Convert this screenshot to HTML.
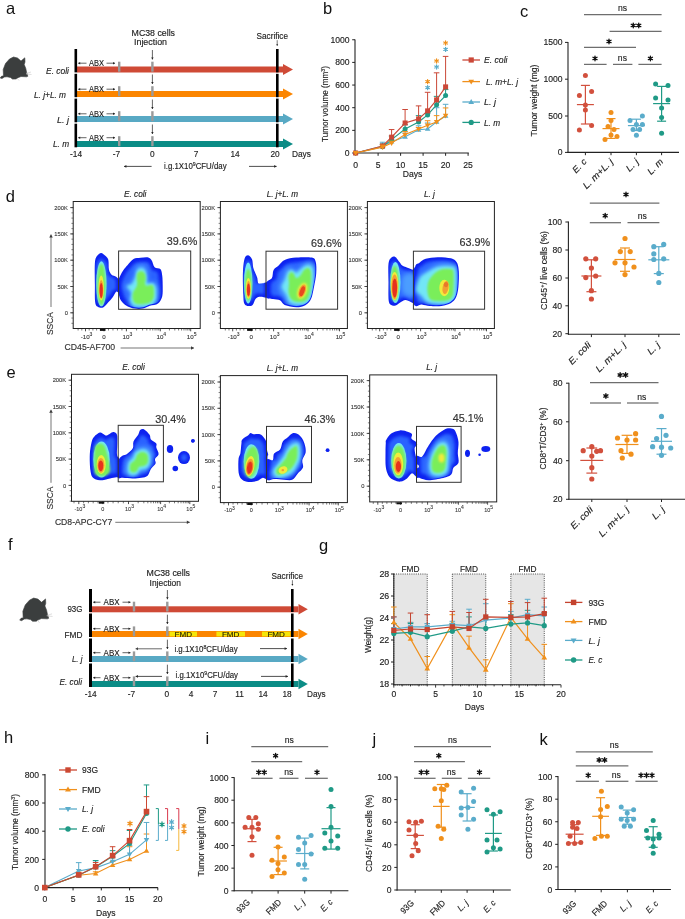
<!DOCTYPE html>
<html><head><meta charset="utf-8"><title>figure</title><style>
html,body{margin:0;padding:0;background:#fff;width:685px;height:919px;overflow:hidden;}
svg{display:block;will-change:transform;}
text{font-family:"Liberation Sans",sans-serif;}
</style></head><body>
<svg width="685" height="919" viewBox="0 0 685 919">
<defs><filter id="b04" x="-50%" y="-50%" width="200%" height="200%"><feGaussianBlur stdDeviation="0.4"/></filter>
<filter id="b07" x="-50%" y="-50%" width="200%" height="200%"><feGaussianBlur stdDeviation="0.7"/></filter>
<filter id="b10" x="-50%" y="-50%" width="200%" height="200%"><feGaussianBlur stdDeviation="1.0"/></filter>
<filter id="b14" x="-50%" y="-50%" width="200%" height="200%"><feGaussianBlur stdDeviation="1.4"/></filter>
<filter id="b18" x="-50%" y="-50%" width="200%" height="200%"><feGaussianBlur stdDeviation="1.8"/></filter>
<filter id="b24" x="-50%" y="-50%" width="200%" height="200%"><feGaussianBlur stdDeviation="2.4"/></filter>
<clipPath id="cl1"><path d="M119.53,280.2C120.4,277.46 122.43,273.76 123.9,271.37C125.37,268.97 126.7,267.71 128.37,265.85C130.03,264 131.83,261.37 133.88,260.25C135.92,259.13 138.39,259.38 140.62,259.11C142.85,258.84 145.53,258.25 147.27,258.63C149.01,259.01 149.96,259.82 151.07,261.39C152.18,262.96 152.53,266.65 153.92,268.04C155.31,269.43 158.23,268.45 159.43,269.75C160.63,271.05 160.78,273.15 161.14,275.83C161.5,278.51 161.61,282.48 161.61,285.8C161.61,289.13 161.88,293.01 161.14,295.78C160.4,298.55 159.1,300.96 157.15,302.43C155.2,303.9 151.85,303.79 149.46,304.62C147.06,305.44 145.21,306.91 142.81,307.37C140.4,307.83 137.61,307.83 135.01,307.37C132.42,306.91 129.35,305.82 127.22,304.62C125.1,303.41 123.47,301.81 122.28,300.15C121.1,298.49 120.7,296.7 120.1,294.64C119.5,292.58 118.77,290.21 118.67,287.8C118.58,285.39 118.66,282.94 119.53,280.2Z"/></clipPath>
<clipPath id="cl2"><path d="M101.14,254.36C102.41,254.28 103.71,255.73 104.85,256.82C105.99,257.92 107.37,258.68 107.98,260.91C108.6,263.14 108.03,267.85 108.56,270.22C109.08,272.6 109.98,274.02 111.12,275.16C112.26,276.3 114.22,276.13 115.39,277.06C116.57,277.99 117.69,278.39 118.15,280.76C118.61,283.14 118.61,289.55 118.15,291.31C117.69,293.07 116.36,290.49 115.39,291.31C114.43,292.13 113.59,294.59 112.36,296.25C111.12,297.91 109.54,299.62 107.98,301.29C106.43,302.95 104.71,305.51 103.04,306.23C101.38,306.94 99.26,306.38 98.01,305.56C96.76,304.74 96,304.74 95.54,301.29C95.08,297.83 95.3,291.07 95.26,284.85C95.21,278.63 94.92,268.54 95.26,263.95C95.59,259.36 96.27,258.9 97.25,257.3C98.23,255.7 99.88,254.43 101.14,254.36Z"/></clipPath>
<clipPath id="cl3"><path d="M267.5,283.29C268.43,280.32 271.9,280.37 273.1,278.25C274.31,276.13 273.61,272.58 274.72,270.55C275.83,268.53 278,267.66 279.75,266.09C281.51,264.52 282.49,262.35 285.26,261.15C288.04,259.95 292.12,259.25 296.38,258.87C300.64,258.49 307.76,258.22 310.82,258.87C313.88,259.52 313.99,260.26 314.71,262.76C315.44,265.27 315.48,269.81 315.19,273.88C314.9,277.95 313.83,283.13 313,287.18C312.18,291.23 311.55,295.43 310.25,298.2C308.95,300.97 307.53,302.51 305.21,303.8C302.9,305.1 299.7,305.99 296.38,305.99C293.06,305.99 287.86,304.91 285.26,303.8C282.67,302.7 282.65,300.27 280.8,299.34C278.95,298.41 276.37,298.75 274.15,298.2C271.93,297.65 268.61,298.5 267.5,296.01C266.39,293.53 266.57,286.25 267.5,283.29Z"/></clipPath>
<clipPath id="cl4"><path d="M247.93,256.59C249.13,256.59 250.99,258.45 251.82,260.38C252.66,262.32 252.41,265.94 252.96,268.18C253.52,270.41 254.5,272.12 255.15,273.78C255.8,275.44 256.4,276.57 256.86,278.15C257.32,279.73 257,282.42 257.9,283.28C258.81,284.13 260.83,283.3 262.27,283.28C263.72,283.26 265.84,281.08 266.55,283.19C267.26,285.29 267.42,293.79 266.55,295.91C265.68,298.04 262.77,295.88 261.32,295.91C259.88,295.95 258.93,295.74 257.9,296.1C256.88,296.47 256.07,296.83 255.15,298.1C254.23,299.37 253.5,302.6 252.39,303.7C251.29,304.81 249.8,304.94 248.5,304.75C247.2,304.56 245.43,304.4 244.61,302.56C243.78,300.73 243.8,298.53 243.56,293.73C243.32,288.93 243.01,279.34 243.18,273.78C243.35,268.22 243.81,263.25 244.61,260.38C245.4,257.52 246.73,256.59 247.93,256.59Z"/></clipPath>
<clipPath id="cl5"><path d="M394.49,257.73C396.16,257.73 398.02,261.47 399.33,262.95C400.64,264.44 400.87,265.66 402.37,266.66C403.87,267.66 406.74,268.31 408.35,268.94C409.97,269.57 411.09,270.25 412.06,270.46C413.03,270.67 413.8,264.92 414.15,270.18C414.5,275.43 414.5,296.71 414.15,302C413.8,307.29 413.53,302.36 412.06,301.9C410.59,301.45 407.31,299.31 405.31,299.25C403.32,299.18 401.59,300.72 400.09,301.52C398.59,302.33 397.54,303.63 396.29,304.09C395.04,304.55 393.76,304.9 392.59,304.28C391.41,303.66 389.86,304.09 389.26,300.38C388.66,296.68 388.98,288.29 388.98,282.05C388.98,275.81 388.34,267.01 389.26,262.95C390.18,258.9 392.81,257.73 394.49,257.73Z"/></clipPath>
<clipPath id="cl6"><path d="M415.81,269.7C416.69,263.27 418.62,265.35 420.38,263.71C422.13,262.08 423.49,260.79 426.36,259.91C429.23,259.04 433.58,258.55 437.57,258.49C441.56,258.43 447.31,258.79 450.3,259.54C453.29,260.28 454.34,261.39 455.52,262.95C456.71,264.52 457.05,266.44 457.43,268.94C457.81,271.44 457.87,274.59 457.8,277.96C457.74,281.34 457.55,285.94 457.05,289.18C456.54,292.41 455.89,295.22 454.76,297.35C453.64,299.47 452.55,300.65 450.3,301.9C448.05,303.16 444.65,304.36 441.27,304.85C437.9,305.34 433.18,305.09 430.06,304.85C426.95,304.61 425.05,303.85 422.56,303.43C420.07,303 416.27,307.91 415.15,302.29C414.03,296.66 414.94,276.13 415.81,269.7Z"/></clipPath>
<clipPath id="cl7"><path d="M394.49,257.73C396.16,257.73 398.02,261.47 399.33,262.95C400.64,264.44 400.87,265.66 402.37,266.66C403.87,267.66 406.74,268.31 408.35,268.94C409.97,269.57 411.09,270.25 412.06,270.46C413.03,270.67 413.8,264.92 414.15,270.18C414.5,275.43 414.5,296.71 414.15,302C413.8,307.29 413.53,302.36 412.06,301.9C410.59,301.45 407.31,299.31 405.31,299.25C403.32,299.18 401.59,300.72 400.09,301.52C398.59,302.33 397.54,303.63 396.29,304.09C395.04,304.55 393.76,304.9 392.59,304.28C391.41,303.66 389.86,304.09 389.26,300.38C388.66,296.68 388.98,288.29 388.98,282.05C388.98,275.81 388.34,267.01 389.26,262.95C390.18,258.9 392.81,257.73 394.49,257.73Z"/></clipPath>
<clipPath id="cl8"><path d="M119.81,460.85C120.56,457.47 122.35,456.88 123.62,455.82C124.88,454.76 125.82,455.66 127.42,454.49C129.01,453.32 132.13,450.82 133.21,448.79C134.29,446.76 133.02,444.47 133.88,442.33C134.73,440.19 137.28,437.77 138.34,435.96C139.4,434.16 139.29,432.34 140.24,431.5C141.19,430.66 142.55,430.19 144.04,430.93C145.53,431.67 148.11,434.38 149.17,435.96C150.23,437.55 149.34,439.04 150.41,440.43C151.47,441.82 154.68,443.04 155.54,444.32C156.39,445.61 155.17,446.43 155.54,448.12C155.9,449.82 157.93,452.69 157.72,454.49C157.51,456.3 154.78,457.47 154.3,458.95C153.83,460.44 155.52,461.82 154.87,463.42C154.22,465.02 151.67,466.63 150.41,468.55C149.14,470.47 148.76,473.54 147.27,474.91C145.78,476.29 143.82,476.39 141.47,476.81C139.13,477.24 136.19,477.48 133.21,477.48C130.23,477.48 125.96,477.04 123.62,476.81C121.27,476.59 119.78,478.81 119.15,476.15C118.52,473.49 119.07,464.24 119.81,460.85Z"/></clipPath>
<clipPath id="cl9"><path d="M94.69,437.76C95.99,436.31 98.6,434.27 100.11,433.87C101.61,433.47 102.62,434.93 103.72,435.39C104.81,435.85 105.16,436.97 106.66,436.62C108.16,436.28 111.13,433.41 112.74,433.3C114.36,433.19 115.7,434.11 116.35,435.96C117,437.81 116.63,441.2 116.63,444.41C116.63,447.63 116,452.65 116.35,455.25C116.7,457.84 118.33,456.69 118.72,460C119.12,463.3 119.23,472.39 118.72,475.1C118.22,477.81 117.19,475.86 115.69,476.24C114.18,476.62 112.3,476.89 109.7,477.38C107.1,477.87 102.8,479.28 100.11,479.19C97.41,479.09 95.05,478.41 93.55,476.81C92.05,475.21 91.59,473.29 91.08,469.59C90.57,465.88 90.3,459.08 90.51,454.58C90.72,450.08 91.62,445.41 92.31,442.61C93.01,439.81 93.39,439.22 94.69,437.76Z"/></clipPath>
<clipPath id="cl10"><path d="M267.81,460.19C268.76,457.21 272.34,461.25 273.51,460.19C274.69,459.13 273.67,455.52 274.85,453.82C276.02,452.13 279.17,451.94 280.55,450.02C281.92,448.11 281.94,444.25 283.11,442.33C284.28,440.41 286.09,439.8 287.57,438.53C289.06,437.26 290.44,435.27 292.04,434.73C293.64,434.19 295.57,434.46 297.17,435.3C298.77,436.14 300.46,437.94 301.63,439.76C302.81,441.59 303.68,443.99 304.2,446.23C304.72,448.46 305.2,450.83 304.77,453.16C304.34,455.49 302.05,457.85 301.63,460.19C301.22,462.53 303.04,465.08 302.3,467.22C301.56,469.36 298.88,471.1 297.17,473.01C295.46,474.93 294.18,477.76 292.04,478.71C289.9,479.66 287.21,478.83 284.35,478.71C281.48,478.6 277.6,478.16 274.85,478.05C272.09,477.94 268.99,481.03 267.81,478.05C266.64,475.07 266.87,463.17 267.81,460.19Z"/></clipPath>
<clipPath id="cl11"><path d="M242.84,440.33C243.97,438.92 247.52,437.05 248.82,436.05C250.12,435.06 249.82,434.44 250.62,434.35C251.43,434.25 252.16,435.3 253.66,435.49C255.17,435.68 258.05,434.98 259.65,435.49C261.25,435.99 262.26,437.32 263.26,438.52C264.26,439.73 265.13,440.71 265.63,442.7C266.14,444.7 266,448.5 266.3,450.5C266.6,452.49 267.36,453.38 267.44,454.68C267.52,455.97 266.81,454.56 266.77,458.29C266.74,462.01 268.04,473.9 267.25,477C266.46,480.1 263.8,476.41 262.02,476.9C260.25,477.4 258.81,479.3 256.61,479.95C254.41,480.59 251.12,481.01 248.82,480.8C246.52,480.59 244.39,480.06 242.84,478.71C241.28,477.36 240.11,475.92 239.51,472.73C238.91,469.53 238.97,462.72 239.22,459.52C239.48,456.32 240.57,456.04 241.03,453.54C241.49,451.03 241.68,446.71 241.98,444.51C242.28,442.31 241.7,441.74 242.84,440.33Z"/></clipPath>
<clipPath id="cl12"><path d="M417.39,456.81C418.31,453.8 421.17,458.19 422.9,456.81C424.63,455.43 426.35,450.86 427.75,448.55C429.14,446.23 429.87,444.9 431.26,442.94C432.65,440.98 434.38,438.49 436.1,436.76C437.83,435.04 439.89,433.74 441.62,432.59C443.34,431.43 444.61,430.18 446.46,429.83C448.31,429.48 451.23,429.69 452.73,430.5C454.23,431.3 454.68,432.6 455.49,434.68C456.29,436.75 457.34,439.82 457.57,442.94C457.81,446.06 456.91,450.14 456.91,453.39C456.91,456.64 458.27,460.1 457.57,462.41C456.88,464.73 453.89,465.41 452.73,467.26C451.57,469.11 452.25,471.91 450.64,473.53C449.02,475.14 446.62,476.03 443.04,476.95C439.46,477.87 432.88,479.04 429.17,479.04C425.47,479.04 422.77,477.65 420.81,476.95C418.85,476.25 417.96,478.22 417.39,474.86C416.82,471.5 416.47,459.82 417.39,456.81Z"/></clipPath>
<clipPath id="cl13"><path d="M386.94,440.8C387.8,439.32 389.5,436.32 391.69,434.82C393.88,433.32 397.34,432.03 400.05,431.78C402.76,431.53 406.04,432.7 407.94,433.3C409.83,433.9 410.96,434.34 411.45,435.39C411.94,436.44 410.28,438.37 410.88,439.57C411.48,440.77 414.16,441.61 415.06,442.61C415.96,443.61 416.49,444.56 416.3,445.55C416.11,446.55 414.13,446.79 413.92,448.6C413.71,450.4 414.68,454.82 415.06,456.38C415.44,457.95 416.01,454.88 416.2,458C416.39,461.12 416.99,472.68 416.2,475.1C415.41,477.52 413.03,472.16 411.45,472.54C409.87,472.92 408.49,476.07 406.7,477.38C404.91,478.69 402.71,480.12 400.71,480.42C398.72,480.72 396.63,480.09 394.73,479.19C392.83,478.28 390.68,477.11 389.31,475C387.95,472.9 387.07,470.16 386.56,466.55C386.05,462.94 386.27,457.15 386.27,453.35C386.27,449.55 386.45,445.84 386.56,443.75C386.67,441.66 386.08,442.29 386.94,440.8Z"/></clipPath></defs>
<rect width="685" height="919" fill="#fff"/>
<g>
<text x="6" y="13.8" font-size="16.5" fill="#111">a</text>
<path d="M3.5,76 L3.2,69.5 L5.5,63.5 L9.5,59 L13.5,57 L17.5,58 L21,61 L24.8,57.8 L25,62 L24.2,64.5 L25.8,68.5 L26.6,72.5 L27.4,74.7 L27.8,76.3 L26.5,76.8 L21,76.5 L18.5,77.5 L16,79 L12.5,79.1 L10.5,77.5 L7,76.8 L4.5,77 L2,78.5 L0.2,78 L1.8,76Z" fill="#3b3e3e" stroke="#3b3e3e" stroke-width="0.6" stroke-linejoin="round"/>
<line x1="26" y1="73.5" x2="31" y2="72" stroke="#c8c8c8" stroke-width="0.6"/>
<line x1="26" y1="74" x2="31.5" y2="74.5" stroke="#c8c8c8" stroke-width="0.6"/>
<line x1="17" y1="78" x2="19" y2="80.5" stroke="#c8c8c8" stroke-width="0.6"/>
<rect x="77" y="66.5" width="206" height="6" fill="#cf4a36"/>
<polygon points="283,64 293,69.5 283,75" fill="#cf4a36"/>
<rect x="74.5" y="49" width="2.6" height="23.4" fill="#000"/>
<rect x="276" y="49" width="2.6" height="23.4" fill="#000"/>
<line x1="86.5" y1="63.2" x2="78.2" y2="63.2" stroke="#222" stroke-width="0.7"/>
<polygon points="78.2,63.2 80.2,62 80.2,64.4" fill="#222"/>
<line x1="106.5" y1="63.2" x2="115" y2="63.2" stroke="#222" stroke-width="0.7"/>
<polygon points="115,63.2 113,62 113,64.4" fill="#222"/>
<text x="96.5" y="66" font-size="8.4" text-anchor="middle" fill="#222" stroke="#222" stroke-width="0.14" textLength="15" lengthAdjust="spacingAndGlyphs">ABX</text>
<rect x="118" y="61.7" width="2.4" height="10" fill="#9a9a9a"/>
<rect x="151.2" y="61.7" width="2.4" height="10" fill="#9a9a9a"/>
<line x1="152.4" y1="50" x2="152.4" y2="59.5" stroke="#222" stroke-width="0.7"/>
<polygon points="152.4,59.5 151.2,57.5 153.6,57.5" fill="#222"/>
<text x="69" y="73.5" font-size="9.2" text-anchor="end" fill="#222" stroke="#222" stroke-width="0.15" font-style="italic" textLength="23" lengthAdjust="spacingAndGlyphs">E. coli</text>
<rect x="77" y="91" width="206" height="6" fill="#fb8500"/>
<polygon points="283,88.5 293,94 283,99.5" fill="#fb8500"/>
<rect x="74.5" y="73.8" width="2.6" height="23.4" fill="#000"/>
<rect x="276" y="73.8" width="2.6" height="23.4" fill="#000"/>
<line x1="86.5" y1="89.2" x2="78.2" y2="89.2" stroke="#222" stroke-width="0.7"/>
<polygon points="78.2,89.2 80.2,88 80.2,90.4" fill="#222"/>
<line x1="106.5" y1="89.2" x2="115" y2="89.2" stroke="#222" stroke-width="0.7"/>
<polygon points="115,89.2 113,88 113,90.4" fill="#222"/>
<text x="96.5" y="92" font-size="8.4" text-anchor="middle" fill="#222" stroke="#222" stroke-width="0.14" textLength="15" lengthAdjust="spacingAndGlyphs">ABX</text>
<rect x="118" y="86.2" width="2.4" height="10" fill="#9a9a9a"/>
<rect x="151.2" y="86.2" width="2.4" height="10" fill="#9a9a9a"/>
<line x1="152.4" y1="74.5" x2="152.4" y2="84" stroke="#222" stroke-width="0.7"/>
<polygon points="152.4,84 151.2,82 153.6,82" fill="#222"/>
<text x="66" y="98" font-size="9.2" text-anchor="end" fill="#222" stroke="#222" stroke-width="0.15" font-style="italic" textLength="32" lengthAdjust="spacingAndGlyphs">L. j+L. m</text>
<rect x="77" y="116" width="206" height="6" fill="#58a9c4"/>
<polygon points="283,113.5 293,119 283,124.5" fill="#58a9c4"/>
<rect x="74.5" y="98.6" width="2.6" height="23.7" fill="#000"/>
<rect x="276" y="98.6" width="2.6" height="23.7" fill="#000"/>
<line x1="86.5" y1="113.8" x2="78.2" y2="113.8" stroke="#222" stroke-width="0.7"/>
<polygon points="78.2,113.8 80.2,112.6 80.2,115" fill="#222"/>
<line x1="106.5" y1="113.8" x2="115" y2="113.8" stroke="#222" stroke-width="0.7"/>
<polygon points="115,113.8 113,112.6 113,115" fill="#222"/>
<text x="96.5" y="116.6" font-size="8.4" text-anchor="middle" fill="#222" stroke="#222" stroke-width="0.14" textLength="15" lengthAdjust="spacingAndGlyphs">ABX</text>
<rect x="118" y="111.2" width="2.4" height="10" fill="#9a9a9a"/>
<rect x="151.2" y="111.2" width="2.4" height="10" fill="#9a9a9a"/>
<line x1="152.4" y1="99.5" x2="152.4" y2="109" stroke="#222" stroke-width="0.7"/>
<polygon points="152.4,109 151.2,107 153.6,107" fill="#222"/>
<text x="69" y="122.5" font-size="9.2" text-anchor="end" fill="#222" stroke="#222" stroke-width="0.15" font-style="italic" textLength="12" lengthAdjust="spacingAndGlyphs">L. j</text>
<rect x="77" y="141" width="206" height="6" fill="#0b8c86"/>
<polygon points="283,138.5 293,144 283,149.5" fill="#0b8c86"/>
<rect x="74.5" y="123.7" width="2.6" height="23.6" fill="#000"/>
<rect x="276" y="123.7" width="2.6" height="23.6" fill="#000"/>
<line x1="86.5" y1="137.7" x2="78.2" y2="137.7" stroke="#222" stroke-width="0.7"/>
<polygon points="78.2,137.7 80.2,136.5 80.2,138.9" fill="#222"/>
<line x1="106.5" y1="137.7" x2="115" y2="137.7" stroke="#222" stroke-width="0.7"/>
<polygon points="115,137.7 113,136.5 113,138.9" fill="#222"/>
<text x="96.5" y="140.5" font-size="8.4" text-anchor="middle" fill="#222" stroke="#222" stroke-width="0.14" textLength="15" lengthAdjust="spacingAndGlyphs">ABX</text>
<rect x="118" y="136.2" width="2.4" height="10" fill="#9a9a9a"/>
<rect x="151.2" y="136.2" width="2.4" height="10" fill="#9a9a9a"/>
<line x1="152.4" y1="124.5" x2="152.4" y2="134" stroke="#222" stroke-width="0.7"/>
<polygon points="152.4,134 151.2,132 153.6,132" fill="#222"/>
<text x="69" y="146.5" font-size="9.2" text-anchor="end" fill="#222" stroke="#222" stroke-width="0.15" font-style="italic" textLength="16" lengthAdjust="spacingAndGlyphs">L. m</text>
<text x="153.3" y="35.5" font-size="9" text-anchor="middle" fill="#222" stroke="#222" stroke-width="0.15" textLength="43.4" lengthAdjust="spacingAndGlyphs">MC38 cells</text>
<text x="150.5" y="45.4" font-size="9" text-anchor="middle" fill="#222" stroke="#222" stroke-width="0.15" textLength="33" lengthAdjust="spacingAndGlyphs">Injection</text>
<text x="272.3" y="39.2" font-size="9" text-anchor="middle" fill="#222" stroke="#222" stroke-width="0.15" textLength="31.4" lengthAdjust="spacingAndGlyphs">Sacrifice</text>
<line x1="277.2" y1="40.2" x2="277.2" y2="45.8" stroke="#222" stroke-width="0.6"/>
<polygon points="277.2,45.8 276.24,44.2 278.16,44.2" fill="#222"/>
<text x="76" y="157.3" font-size="8.3" text-anchor="middle" fill="#222" stroke="#222" stroke-width="0.14">-14</text>
<text x="116.5" y="157.3" font-size="8.3" text-anchor="middle" fill="#222" stroke="#222" stroke-width="0.14">-7</text>
<text x="152.2" y="157.3" font-size="8.3" text-anchor="middle" fill="#222" stroke="#222" stroke-width="0.14">0</text>
<text x="196" y="157.3" font-size="8.3" text-anchor="middle" fill="#222" stroke="#222" stroke-width="0.14">7</text>
<text x="235" y="157.3" font-size="8.3" text-anchor="middle" fill="#222" stroke="#222" stroke-width="0.14">14</text>
<text x="275" y="157.3" font-size="8.3" text-anchor="middle" fill="#222" stroke="#222" stroke-width="0.14">20</text>
<text x="292" y="157.3" font-size="8.3" text-anchor="start" fill="#222" stroke="#222" stroke-width="0.14">Days</text>
<text x="164" y="169.3" font-size="8.3" text-anchor="start" fill="#222" stroke="#222" stroke-width="0.14" textLength="62.6" lengthAdjust="spacingAndGlyphs">i.g.1X10<tspan font-size="5.5" dy="-3">9</tspan><tspan dy="3">CFU/day</tspan></text>
<line x1="151.6" y1="166.4" x2="124" y2="166.4" stroke="#222" stroke-width="0.8"/>
<polygon points="124,166.4 126.4,164.96 126.4,167.84" fill="#222"/>
<line x1="249" y1="166.4" x2="276.6" y2="166.4" stroke="#222" stroke-width="0.8"/>
<polygon points="276.6,166.4 274.2,164.96 274.2,167.84" fill="#222"/>
</g>
<g>
<text x="323" y="14" font-size="16.5" fill="#111">b</text>
<line x1="355" y1="39.4" x2="355" y2="153.5" stroke="#222" stroke-width="1.1"/>
<line x1="354.5" y1="153" x2="468.8" y2="153" stroke="#222" stroke-width="1.1"/>
<line x1="352.2" y1="153" x2="355" y2="153" stroke="#222" stroke-width="1"/>
<text x="349.5" y="156" font-size="8.6" text-anchor="end" fill="#222" stroke="#222" stroke-width="0.14">0</text>
<line x1="352.2" y1="130.35" x2="355" y2="130.35" stroke="#222" stroke-width="1"/>
<text x="349.5" y="133.35" font-size="8.6" text-anchor="end" fill="#222" stroke="#222" stroke-width="0.14">200</text>
<line x1="352.2" y1="107.7" x2="355" y2="107.7" stroke="#222" stroke-width="1"/>
<text x="349.5" y="110.7" font-size="8.6" text-anchor="end" fill="#222" stroke="#222" stroke-width="0.14">400</text>
<line x1="352.2" y1="85.05" x2="355" y2="85.05" stroke="#222" stroke-width="1"/>
<text x="349.5" y="88.05" font-size="8.6" text-anchor="end" fill="#222" stroke="#222" stroke-width="0.14">600</text>
<line x1="352.2" y1="62.4" x2="355" y2="62.4" stroke="#222" stroke-width="1"/>
<text x="349.5" y="65.4" font-size="8.6" text-anchor="end" fill="#222" stroke="#222" stroke-width="0.14">800</text>
<line x1="352.2" y1="39.75" x2="355" y2="39.75" stroke="#222" stroke-width="1"/>
<text x="349.5" y="42.75" font-size="8.6" text-anchor="end" fill="#222" stroke="#222" stroke-width="0.14">1000</text>
<line x1="355.6" y1="153" x2="355.6" y2="155.8" stroke="#222" stroke-width="1"/>
<text x="355.6" y="167.5" font-size="8.6" text-anchor="middle" fill="#222" stroke="#222" stroke-width="0.14">0</text>
<line x1="378.1" y1="153" x2="378.1" y2="155.8" stroke="#222" stroke-width="1"/>
<text x="378.1" y="167.5" font-size="8.6" text-anchor="middle" fill="#222" stroke="#222" stroke-width="0.14">5</text>
<line x1="400.6" y1="153" x2="400.6" y2="155.8" stroke="#222" stroke-width="1"/>
<text x="400.6" y="167.5" font-size="8.6" text-anchor="middle" fill="#222" stroke="#222" stroke-width="0.14">10</text>
<line x1="423.1" y1="153" x2="423.1" y2="155.8" stroke="#222" stroke-width="1"/>
<text x="423.1" y="167.5" font-size="8.6" text-anchor="middle" fill="#222" stroke="#222" stroke-width="0.14">15</text>
<line x1="445.6" y1="153" x2="445.6" y2="155.8" stroke="#222" stroke-width="1"/>
<text x="445.6" y="167.5" font-size="8.6" text-anchor="middle" fill="#222" stroke="#222" stroke-width="0.14">20</text>
<line x1="468.1" y1="153" x2="468.1" y2="155.8" stroke="#222" stroke-width="1"/>
<text x="468.1" y="167.5" font-size="8.6" text-anchor="middle" fill="#222" stroke="#222" stroke-width="0.14">25</text>
<text x="412.5" y="177.3" font-size="8.6" text-anchor="middle" fill="#222" stroke="#222" stroke-width="0.14">Days</text>
<text x="327.5" y="104" font-size="8.6" text-anchor="middle" fill="#222" stroke="#222" stroke-width="0.14" transform="rotate(-90 327.5 104)" textLength="76" lengthAdjust="spacingAndGlyphs">Tumor volume (mm<tspan font-size="5.5" dy="-3">3</tspan><tspan dy="3">)</tspan></text>
<line x1="382.6" y1="145.98" x2="382.6" y2="142.24" stroke="#5aaccb" stroke-width="1"/>
<line x1="379.8" y1="142.24" x2="385.4" y2="142.24" stroke="#5aaccb" stroke-width="1"/>
<line x1="391.6" y1="141.68" x2="391.6" y2="139.98" stroke="#5aaccb" stroke-width="1"/>
<line x1="388.8" y1="139.98" x2="394.4" y2="139.98" stroke="#5aaccb" stroke-width="1"/>
<line x1="405.1" y1="136.81" x2="405.1" y2="133.18" stroke="#5aaccb" stroke-width="1"/>
<line x1="402.3" y1="133.18" x2="407.9" y2="133.18" stroke="#5aaccb" stroke-width="1"/>
<line x1="418.6" y1="129.78" x2="418.6" y2="125.82" stroke="#5aaccb" stroke-width="1"/>
<line x1="415.8" y1="125.82" x2="421.4" y2="125.82" stroke="#5aaccb" stroke-width="1"/>
<line x1="427.6" y1="128.99" x2="427.6" y2="122.99" stroke="#5aaccb" stroke-width="1"/>
<line x1="424.8" y1="122.99" x2="430.4" y2="122.99" stroke="#5aaccb" stroke-width="1"/>
<line x1="436.6" y1="121.86" x2="436.6" y2="107.7" stroke="#5aaccb" stroke-width="1"/>
<line x1="433.8" y1="107.7" x2="439.4" y2="107.7" stroke="#5aaccb" stroke-width="1"/>
<line x1="445.6" y1="115.97" x2="445.6" y2="104.3" stroke="#5aaccb" stroke-width="1"/>
<line x1="442.8" y1="104.3" x2="448.4" y2="104.3" stroke="#5aaccb" stroke-width="1"/>
<polyline points="355.6,153 382.6,145.98 391.6,141.68 405.1,136.81 418.6,129.78 427.6,128.99 436.6,121.86 445.6,115.97" fill="none" stroke="#5aaccb" stroke-width="1.15"/>
<polygon points="355.6,150.12 352.85,154.88 358.35,154.88" fill="#5aaccb"/>
<polygon points="382.6,143.1 379.85,147.85 385.35,147.85" fill="#5aaccb"/>
<polygon points="391.6,138.8 388.85,143.55 394.35,143.55" fill="#5aaccb"/>
<polygon points="405.1,133.93 402.35,138.68 407.85,138.68" fill="#5aaccb"/>
<polygon points="418.6,126.91 415.85,131.66 421.35,131.66" fill="#5aaccb"/>
<polygon points="427.6,126.12 424.85,130.87 430.35,130.87" fill="#5aaccb"/>
<polygon points="436.6,118.98 433.85,123.73 439.35,123.73" fill="#5aaccb"/>
<polygon points="445.6,113.09 442.85,117.84 448.35,117.84" fill="#5aaccb"/>
<line x1="382.6" y1="146.77" x2="382.6" y2="143.94" stroke="#1f9a86" stroke-width="1"/>
<line x1="379.8" y1="143.94" x2="385.4" y2="143.94" stroke="#1f9a86" stroke-width="1"/>
<line x1="391.6" y1="139.64" x2="391.6" y2="136.01" stroke="#1f9a86" stroke-width="1"/>
<line x1="388.8" y1="136.01" x2="394.4" y2="136.01" stroke="#1f9a86" stroke-width="1"/>
<line x1="405.1" y1="128.99" x2="405.1" y2="124.69" stroke="#1f9a86" stroke-width="1"/>
<line x1="402.3" y1="124.69" x2="407.9" y2="124.69" stroke="#1f9a86" stroke-width="1"/>
<line x1="418.6" y1="121.97" x2="418.6" y2="115.63" stroke="#1f9a86" stroke-width="1"/>
<line x1="415.8" y1="115.63" x2="421.4" y2="115.63" stroke="#1f9a86" stroke-width="1"/>
<line x1="427.6" y1="114.95" x2="427.6" y2="113.36" stroke="#1f9a86" stroke-width="1"/>
<line x1="424.8" y1="113.36" x2="430.4" y2="113.36" stroke="#1f9a86" stroke-width="1"/>
<line x1="436.6" y1="104.87" x2="436.6" y2="96.38" stroke="#1f9a86" stroke-width="1"/>
<line x1="433.8" y1="96.38" x2="439.4" y2="96.38" stroke="#1f9a86" stroke-width="1"/>
<line x1="445.6" y1="95.58" x2="445.6" y2="89.58" stroke="#1f9a86" stroke-width="1"/>
<line x1="442.8" y1="89.58" x2="448.4" y2="89.58" stroke="#1f9a86" stroke-width="1"/>
<polyline points="355.6,153 382.6,146.77 391.6,139.64 405.1,128.99 418.6,121.97 427.6,114.95 436.6,104.87 445.6,95.58" fill="none" stroke="#1f9a86" stroke-width="1.15"/>
<circle cx="355.6" cy="153" r="2.5" fill="#1f9a86"/>
<circle cx="382.6" cy="146.77" r="2.5" fill="#1f9a86"/>
<circle cx="391.6" cy="139.64" r="2.5" fill="#1f9a86"/>
<circle cx="405.1" cy="128.99" r="2.5" fill="#1f9a86"/>
<circle cx="418.6" cy="121.97" r="2.5" fill="#1f9a86"/>
<circle cx="427.6" cy="114.95" r="2.5" fill="#1f9a86"/>
<circle cx="436.6" cy="104.87" r="2.5" fill="#1f9a86"/>
<circle cx="445.6" cy="95.58" r="2.5" fill="#1f9a86"/>
<line x1="382.6" y1="145.98" x2="382.6" y2="144.51" stroke="#cb4838" stroke-width="1"/>
<line x1="379.8" y1="144.51" x2="385.4" y2="144.51" stroke="#cb4838" stroke-width="1"/>
<line x1="391.6" y1="137.15" x2="391.6" y2="129.56" stroke="#cb4838" stroke-width="1"/>
<line x1="388.8" y1="129.56" x2="394.4" y2="129.56" stroke="#cb4838" stroke-width="1"/>
<line x1="405.1" y1="122.99" x2="405.1" y2="109.51" stroke="#cb4838" stroke-width="1"/>
<line x1="402.3" y1="109.51" x2="407.9" y2="109.51" stroke="#cb4838" stroke-width="1"/>
<line x1="418.6" y1="118.91" x2="418.6" y2="105.89" stroke="#cb4838" stroke-width="1"/>
<line x1="415.8" y1="105.89" x2="421.4" y2="105.89" stroke="#cb4838" stroke-width="1"/>
<line x1="427.6" y1="110.87" x2="427.6" y2="92.3" stroke="#cb4838" stroke-width="1"/>
<line x1="424.8" y1="92.3" x2="430.4" y2="92.3" stroke="#cb4838" stroke-width="1"/>
<line x1="436.6" y1="99.89" x2="436.6" y2="72.82" stroke="#cb4838" stroke-width="1"/>
<line x1="433.8" y1="72.82" x2="439.4" y2="72.82" stroke="#cb4838" stroke-width="1"/>
<line x1="445.6" y1="86.86" x2="445.6" y2="56.4" stroke="#cb4838" stroke-width="1"/>
<line x1="442.8" y1="56.4" x2="448.4" y2="56.4" stroke="#cb4838" stroke-width="1"/>
<polyline points="355.6,153 382.6,145.98 391.6,137.15 405.1,122.99 418.6,118.91 427.6,110.87 436.6,99.89 445.6,86.86" fill="none" stroke="#cb4838" stroke-width="1.15"/>
<rect x="353.1" y="150.5" width="5" height="5" fill="#cb4838"/>
<rect x="380.1" y="143.48" width="5" height="5" fill="#cb4838"/>
<rect x="389.1" y="134.65" width="5" height="5" fill="#cb4838"/>
<rect x="402.6" y="120.49" width="5" height="5" fill="#cb4838"/>
<rect x="416.1" y="116.41" width="5" height="5" fill="#cb4838"/>
<rect x="425.1" y="108.37" width="5" height="5" fill="#cb4838"/>
<rect x="434.1" y="97.39" width="5" height="5" fill="#cb4838"/>
<rect x="443.1" y="84.36" width="5" height="5" fill="#cb4838"/>
<line x1="382.6" y1="147.11" x2="382.6" y2="145.07" stroke="#f0901c" stroke-width="1"/>
<line x1="379.8" y1="145.07" x2="385.4" y2="145.07" stroke="#f0901c" stroke-width="1"/>
<line x1="391.6" y1="143.03" x2="391.6" y2="141.11" stroke="#f0901c" stroke-width="1"/>
<line x1="388.8" y1="141.11" x2="394.4" y2="141.11" stroke="#f0901c" stroke-width="1"/>
<line x1="405.1" y1="134.54" x2="405.1" y2="131.48" stroke="#f0901c" stroke-width="1"/>
<line x1="402.3" y1="131.48" x2="407.9" y2="131.48" stroke="#f0901c" stroke-width="1"/>
<line x1="418.6" y1="128.99" x2="418.6" y2="127.52" stroke="#f0901c" stroke-width="1"/>
<line x1="415.8" y1="127.52" x2="421.4" y2="127.52" stroke="#f0901c" stroke-width="1"/>
<line x1="427.6" y1="125.25" x2="427.6" y2="120.72" stroke="#f0901c" stroke-width="1"/>
<line x1="424.8" y1="120.72" x2="430.4" y2="120.72" stroke="#f0901c" stroke-width="1"/>
<line x1="436.6" y1="121.97" x2="436.6" y2="115.63" stroke="#f0901c" stroke-width="1"/>
<line x1="433.8" y1="115.63" x2="439.4" y2="115.63" stroke="#f0901c" stroke-width="1"/>
<line x1="445.6" y1="115.51" x2="445.6" y2="107.93" stroke="#f0901c" stroke-width="1"/>
<line x1="442.8" y1="107.93" x2="448.4" y2="107.93" stroke="#f0901c" stroke-width="1"/>
<polyline points="355.6,153 382.6,147.11 391.6,143.03 405.1,134.54 418.6,128.99 427.6,125.25 436.6,121.97 445.6,115.51" fill="none" stroke="#f0901c" stroke-width="1.15"/>
<polygon points="355.6,155.88 352.85,151.12 358.35,151.12" fill="#f0901c"/>
<polygon points="382.6,149.99 379.85,145.24 385.35,145.24" fill="#f0901c"/>
<polygon points="391.6,145.91 388.85,141.16 394.35,141.16" fill="#f0901c"/>
<polygon points="405.1,137.42 402.35,132.67 407.85,132.67" fill="#f0901c"/>
<polygon points="418.6,131.87 415.85,127.12 421.35,127.12" fill="#f0901c"/>
<polygon points="427.6,128.13 424.85,123.38 430.35,123.38" fill="#f0901c"/>
<polygon points="436.6,124.84 433.85,120.09 439.35,120.09" fill="#f0901c"/>
<polygon points="445.6,118.39 442.85,113.64 448.35,113.64" fill="#f0901c"/>
<path d="M427.6,79.5L427.6,83.7M425.78,80.55L429.42,82.65M429.42,80.55L425.78,82.65" stroke="#f0901c" stroke-width="1.2" stroke-linecap="round" fill="none"/>
<circle cx="427.6" cy="81.6" r="0.95" fill="#f0901c"/>
<path d="M427.6,85.5L427.6,89.7M425.78,86.55L429.42,88.65M429.42,86.55L425.78,88.65" stroke="#5aaccb" stroke-width="1.2" stroke-linecap="round" fill="none"/>
<circle cx="427.6" cy="87.6" r="0.95" fill="#5aaccb"/>
<path d="M436.6,58.9L436.6,63.1M434.78,59.95L438.42,62.05M438.42,59.95L434.78,62.05" stroke="#f0901c" stroke-width="1.2" stroke-linecap="round" fill="none"/>
<circle cx="436.6" cy="61" r="0.95" fill="#f0901c"/>
<path d="M436.6,64.9L436.6,69.1M434.78,65.95L438.42,68.05M438.42,65.95L434.78,68.05" stroke="#5aaccb" stroke-width="1.2" stroke-linecap="round" fill="none"/>
<circle cx="436.6" cy="67" r="0.95" fill="#5aaccb"/>
<path d="M445.6,40.9L445.6,45.1M443.78,41.95L447.42,44.05M447.42,41.95L443.78,44.05" stroke="#f0901c" stroke-width="1.2" stroke-linecap="round" fill="none"/>
<circle cx="445.6" cy="43" r="0.95" fill="#f0901c"/>
<path d="M445.6,47.3L445.6,51.5M443.78,48.35L447.42,50.45M447.42,48.35L443.78,50.45" stroke="#5aaccb" stroke-width="1.2" stroke-linecap="round" fill="none"/>
<circle cx="445.6" cy="49.4" r="0.95" fill="#5aaccb"/>
<line x1="462.4" y1="60" x2="480" y2="60" stroke="#cb4838" stroke-width="1.3"/>
<rect x="468.6" y="57.4" width="5.2" height="5.2" fill="#cb4838"/>
<text x="484" y="63.2" font-size="9.2" text-anchor="start" fill="#222" stroke="#222" stroke-width="0.15" font-style="italic" textLength="23.5" lengthAdjust="spacingAndGlyphs">E. coli</text>
<line x1="462.4" y1="81.6" x2="480" y2="81.6" stroke="#f0901c" stroke-width="1.3"/>
<polygon points="471.2,84.59 468.34,79.65 474.06,79.65" fill="#f0901c"/>
<text x="486" y="84.8" font-size="9.2" text-anchor="start" fill="#222" stroke="#222" stroke-width="0.15" font-style="italic" textLength="32" lengthAdjust="spacingAndGlyphs">L. m+L. j</text>
<line x1="462.4" y1="102" x2="480" y2="102" stroke="#5aaccb" stroke-width="1.3"/>
<polygon points="471.2,99.01 468.34,103.95 474.06,103.95" fill="#5aaccb"/>
<text x="484" y="105.2" font-size="9.2" text-anchor="start" fill="#222" stroke="#222" stroke-width="0.15" font-style="italic" textLength="12" lengthAdjust="spacingAndGlyphs">L. j</text>
<line x1="462.4" y1="122.4" x2="480" y2="122.4" stroke="#1f9a86" stroke-width="1.3"/>
<circle cx="471.2" cy="122.4" r="2.6" fill="#1f9a86"/>
<text x="484" y="125.6" font-size="9.2" text-anchor="start" fill="#222" stroke="#222" stroke-width="0.15" font-style="italic" textLength="16" lengthAdjust="spacingAndGlyphs">L. m</text>
</g>
<g>
<text x="520" y="16.5" font-size="16.5" fill="#111">c</text>
<line x1="568" y1="42" x2="568" y2="152.9" stroke="#222" stroke-width="1.1"/>
<line x1="567.5" y1="152.4" x2="679" y2="152.4" stroke="#222" stroke-width="1.1"/>
<line x1="565" y1="42.4" x2="568" y2="42.4" stroke="#222" stroke-width="1"/>
<text x="562.5" y="45.4" font-size="8.6" text-anchor="end" fill="#222" stroke="#222" stroke-width="0.14">1500</text>
<line x1="565" y1="79.2" x2="568" y2="79.2" stroke="#222" stroke-width="1"/>
<text x="562.5" y="82.2" font-size="8.6" text-anchor="end" fill="#222" stroke="#222" stroke-width="0.14">1000</text>
<line x1="565" y1="116" x2="568" y2="116" stroke="#222" stroke-width="1"/>
<text x="562.5" y="119" font-size="8.6" text-anchor="end" fill="#222" stroke="#222" stroke-width="0.14">500</text>
<line x1="565" y1="152.4" x2="568" y2="152.4" stroke="#222" stroke-width="1"/>
<text x="562.5" y="155.4" font-size="8.6" text-anchor="end" fill="#222" stroke="#222" stroke-width="0.14">0</text>
<line x1="585.4" y1="152.4" x2="585.4" y2="155.2" stroke="#222" stroke-width="1"/>
<line x1="611" y1="152.4" x2="611" y2="155.2" stroke="#222" stroke-width="1"/>
<line x1="636.4" y1="152.4" x2="636.4" y2="155.2" stroke="#222" stroke-width="1"/>
<line x1="661.6" y1="152.4" x2="661.6" y2="155.2" stroke="#222" stroke-width="1"/>
<text x="536.6" y="100.5" font-size="8.6" text-anchor="middle" fill="#222" stroke="#222" stroke-width="0.14" transform="rotate(-90 536.6 100.5)" textLength="72" lengthAdjust="spacingAndGlyphs">Tumor weight (mg)</text>
<circle cx="585.4" cy="75.4" r="2.5" fill="#d2503d"/>
<circle cx="579.4" cy="95.4" r="2.5" fill="#d2503d"/>
<circle cx="591.6" cy="91.6" r="2.5" fill="#d2503d"/>
<circle cx="585.4" cy="105" r="2.5" fill="#d2503d"/>
<circle cx="585.4" cy="110" r="2.5" fill="#d2503d"/>
<circle cx="591.6" cy="125.6" r="2.5" fill="#d2503d"/>
<circle cx="579.4" cy="130" r="2.5" fill="#d2503d"/>
<line x1="576.9" y1="104.6" x2="593.9" y2="104.6" stroke="#d2503d" stroke-width="1.2"/>
<line x1="585.4" y1="85.4" x2="585.4" y2="124" stroke="#d2503d" stroke-width="1.2"/>
<line x1="580.9" y1="85.4" x2="589.9" y2="85.4" stroke="#d2503d" stroke-width="1.2"/>
<line x1="580.9" y1="124" x2="589.9" y2="124" stroke="#d2503d" stroke-width="1.2"/>
<circle cx="611" cy="112.4" r="2.5" fill="#f0901c"/>
<circle cx="611" cy="120.4" r="2.5" fill="#f0901c"/>
<circle cx="608" cy="126.4" r="2.5" fill="#f0901c"/>
<circle cx="614" cy="129.4" r="2.5" fill="#f0901c"/>
<circle cx="611" cy="135" r="2.5" fill="#f0901c"/>
<circle cx="617" cy="136.4" r="2.5" fill="#f0901c"/>
<circle cx="605" cy="139.6" r="2.5" fill="#f0901c"/>
<line x1="602.5" y1="128.6" x2="619.5" y2="128.6" stroke="#f0901c" stroke-width="1.2"/>
<line x1="611" y1="118.6" x2="611" y2="138.4" stroke="#f0901c" stroke-width="1.2"/>
<line x1="606.5" y1="118.6" x2="615.5" y2="118.6" stroke="#f0901c" stroke-width="1.2"/>
<line x1="606.5" y1="138.4" x2="615.5" y2="138.4" stroke="#f0901c" stroke-width="1.2"/>
<circle cx="630" cy="120.4" r="2.5" fill="#5aaccb"/>
<circle cx="642.4" cy="116" r="2.5" fill="#5aaccb"/>
<circle cx="636.4" cy="124.4" r="2.5" fill="#5aaccb"/>
<circle cx="642.4" cy="124.4" r="2.5" fill="#5aaccb"/>
<circle cx="633" cy="129.6" r="2.5" fill="#5aaccb"/>
<circle cx="639.6" cy="129.6" r="2.5" fill="#5aaccb"/>
<circle cx="636.4" cy="135.2" r="2.5" fill="#5aaccb"/>
<line x1="627.9" y1="125.6" x2="644.9" y2="125.6" stroke="#5aaccb" stroke-width="1.2"/>
<line x1="636.4" y1="119.2" x2="636.4" y2="130.5" stroke="#5aaccb" stroke-width="1.2"/>
<line x1="631.9" y1="119.2" x2="640.9" y2="119.2" stroke="#5aaccb" stroke-width="1.2"/>
<line x1="631.9" y1="130.5" x2="640.9" y2="130.5" stroke="#5aaccb" stroke-width="1.2"/>
<circle cx="655.6" cy="84" r="2.5" fill="#1f9a86"/>
<circle cx="668" cy="85.6" r="2.5" fill="#1f9a86"/>
<circle cx="655.6" cy="98" r="2.5" fill="#1f9a86"/>
<circle cx="668" cy="100" r="2.5" fill="#1f9a86"/>
<circle cx="661.6" cy="108" r="2.5" fill="#1f9a86"/>
<circle cx="661.6" cy="117.4" r="2.5" fill="#1f9a86"/>
<circle cx="661.6" cy="133.2" r="2.5" fill="#1f9a86"/>
<line x1="653.1" y1="103.6" x2="670.1" y2="103.6" stroke="#1f9a86" stroke-width="1.2"/>
<line x1="661.6" y1="86.4" x2="661.6" y2="121.2" stroke="#1f9a86" stroke-width="1.2"/>
<line x1="657.1" y1="86.4" x2="666.1" y2="86.4" stroke="#1f9a86" stroke-width="1.2"/>
<line x1="657.1" y1="121.2" x2="666.1" y2="121.2" stroke="#1f9a86" stroke-width="1.2"/>
<line x1="584" y1="14.6" x2="661.6" y2="14.6" stroke="#6e6e6e" stroke-width="1.25"/>
<text x="622.5" y="11.2" font-size="8.6" text-anchor="middle" fill="#222" stroke="#222" stroke-width="0.14">ns</text>
<line x1="609.6" y1="31.4" x2="661.6" y2="31.4" stroke="#6e6e6e" stroke-width="1.25"/>
<path d="M633.25,23.05L633.25,27.75M631.21,24.22L635.29,26.57M635.29,24.22L631.21,26.57" stroke="#111" stroke-width="1.35" stroke-linecap="round" fill="none"/>
<circle cx="633.25" cy="25.4" r="1.06" fill="#111"/>
<path d="M638.75,23.05L638.75,27.75M636.71,24.22L640.79,26.57M640.79,24.22L636.71,26.57" stroke="#111" stroke-width="1.35" stroke-linecap="round" fill="none"/>
<circle cx="638.75" cy="25.4" r="1.06" fill="#111"/>
<line x1="584" y1="47.4" x2="636" y2="47.4" stroke="#6e6e6e" stroke-width="1.25"/>
<path d="M609,39.05L609,43.75M606.96,40.23L611.04,42.57M611.04,40.23L606.96,42.57" stroke="#111" stroke-width="1.35" stroke-linecap="round" fill="none"/>
<circle cx="609" cy="41.4" r="1.06" fill="#111"/>
<line x1="584" y1="64.4" x2="606.6" y2="64.4" stroke="#6e6e6e" stroke-width="1.25"/>
<path d="M595,56.05L595,60.75M592.96,57.23L597.04,59.58M597.04,57.23L592.96,59.58" stroke="#111" stroke-width="1.35" stroke-linecap="round" fill="none"/>
<circle cx="595" cy="58.4" r="1.06" fill="#111"/>
<line x1="613" y1="64.4" x2="632.4" y2="64.4" stroke="#6e6e6e" stroke-width="1.25"/>
<text x="622.4" y="61" font-size="8.6" text-anchor="middle" fill="#222" stroke="#222" stroke-width="0.14">ns</text>
<line x1="638.4" y1="64.4" x2="661.6" y2="64.4" stroke="#6e6e6e" stroke-width="1.25"/>
<path d="M650.4,56.05L650.4,60.75M648.36,57.23L652.44,59.58M652.44,57.23L648.36,59.58" stroke="#111" stroke-width="1.35" stroke-linecap="round" fill="none"/>
<circle cx="650.4" cy="58.4" r="1.06" fill="#111"/>
<text x="587.3" y="162.3" font-size="9.2" text-anchor="end" fill="#222" stroke="#222" stroke-width="0.15" font-style="italic" transform="rotate(-45 587.3 162.3)" textLength="16.05" lengthAdjust="spacingAndGlyphs">E. c</text>
<text x="613.8" y="162.3" font-size="9.2" text-anchor="end" fill="#222" stroke="#222" stroke-width="0.15" font-style="italic" transform="rotate(-45 613.8 162.3)" textLength="38.52" lengthAdjust="spacingAndGlyphs">L. m+L. j</text>
<text x="639.3" y="162.3" font-size="9.2" text-anchor="end" fill="#222" stroke="#222" stroke-width="0.15" font-style="italic" transform="rotate(-45 639.3 162.3)" textLength="13.91" lengthAdjust="spacingAndGlyphs">L. j</text>
<text x="663.8" y="162.3" font-size="9.2" text-anchor="end" fill="#222" stroke="#222" stroke-width="0.15" font-style="italic" transform="rotate(-45 663.8 162.3)" textLength="18.19" lengthAdjust="spacingAndGlyphs">L. m</text>
</g>
<g>
<text x="5.8" y="202" font-size="16.5" fill="#111">d</text>
<text x="64.5" y="350.3" font-size="9.6" text-anchor="start" fill="#333" stroke="#333" stroke-width="0.16" textLength="50.7" lengthAdjust="spacingAndGlyphs">CD45-AF700</text>
<line x1="120.6" y1="348" x2="194" y2="348" stroke="#3a3a3a" stroke-width="0.7"/>
<polygon points="194,348 191,346.2 191,349.8" fill="#3a3a3a"/>
<line x1="51" y1="307" x2="51" y2="234.5" stroke="#3a3a3a" stroke-width="0.7"/>
<polygon points="51,234.5 49.2,237.5 52.8,237.5" fill="#3a3a3a"/>
<text x="52.6" y="323.5" font-size="9.6" text-anchor="middle" fill="#333" stroke="#333" stroke-width="0.16" transform="rotate(-90 52.6 323.5)" textLength="23" lengthAdjust="spacingAndGlyphs">SSCA</text>
<path d="M118.4,280C119.32,277.12 121.45,273.22 123,270.7C124.55,268.18 125.95,266.85 127.7,264.9C129.45,262.95 131.35,260.18 133.5,259C135.65,257.82 138.25,258.08 140.6,257.8C142.95,257.52 145.77,256.9 147.6,257.3C149.43,257.7 150.43,258.55 151.6,260.2C152.77,261.85 153.13,265.73 154.6,267.2C156.07,268.67 159.13,267.63 160.4,269C161.67,270.37 161.82,272.58 162.2,275.4C162.58,278.22 162.7,282.4 162.7,285.9C162.7,289.4 162.98,293.48 162.2,296.4C161.42,299.32 160.05,301.85 158,303.4C155.95,304.95 152.42,304.83 149.9,305.7C147.38,306.57 145.43,308.12 142.9,308.6C140.37,309.08 137.43,309.08 134.7,308.6C131.97,308.12 128.73,306.97 126.5,305.7C124.27,304.43 122.55,302.75 121.3,301C120.05,299.25 119.63,297.37 119,295.2C118.37,293.03 117.6,290.53 117.5,288C117.4,285.47 117.48,282.88 118.4,280Z" fill="#0e22f0" filter="url(#b04)"/>
<g clip-path="url(#cl1)">
<path d="M122.47,280.72C123.22,278.36 124.97,275.16 126.24,273.09C127.51,271.03 128.66,269.94 130.09,268.34C131.53,266.74 133.09,264.47 134.85,263.5C136.61,262.53 138.75,262.75 140.67,262.52C142.6,262.28 144.91,261.78 146.41,262.11C147.92,262.43 148.74,263.13 149.69,264.48C150.65,265.84 150.95,269.02 152.15,270.22C153.35,271.43 155.87,270.58 156.91,271.7C157.95,272.82 158.07,274.64 158.38,276.95C158.7,279.26 158.79,282.69 158.79,285.56C158.79,288.43 159.03,291.78 158.38,294.17C157.74,296.56 156.62,298.64 154.94,299.91C153.26,301.18 150.36,301.08 148.3,301.79C146.23,302.5 144.64,303.78 142.56,304.17C140.48,304.57 138.08,304.57 135.83,304.17C133.59,303.78 130.94,302.83 129.11,301.79C127.28,300.76 125.87,299.38 124.85,297.94C123.82,296.5 123.48,294.96 122.96,293.18C122.44,291.41 121.81,289.36 121.73,287.28C121.65,285.2 121.72,283.08 122.47,280.72Z" fill="#2a62ff" filter="url(#b18)"/>
<path d="M124.39,285.72C124.98,284.73 128.62,285.12 130.29,283.36C131.96,281.59 133.44,277.75 134.42,275.1C135.4,272.44 135.11,269.19 136.19,267.43C137.27,265.66 139.34,264.57 140.91,264.48C142.48,264.38 144.55,265.26 145.63,266.83C146.71,268.41 147.01,271.26 147.4,273.92C147.79,276.57 146.81,281.39 147.99,282.76C149.17,284.14 152.81,281.49 154.48,282.18C156.15,282.86 157.33,284.93 158.02,286.89C158.71,288.86 158.61,291.52 158.61,293.98C158.61,296.43 159,299.28 158.02,301.64C157.04,304 155.56,306.76 152.71,308.13C149.86,309.51 144.35,309.81 140.91,309.9C137.47,310 134.12,310 132.06,308.73C130,307.45 128.91,304.69 128.52,302.24C128.13,299.78 130,296.14 129.7,293.98C129.4,291.81 127.63,290.63 126.75,289.25C125.87,287.88 123.8,286.7 124.39,285.72Z" fill="#4c9dff" filter="url(#b24)"/>
<path d="M127,286C127.5,285.17 130.58,285.5 132,284C133.42,282.5 134.67,279.25 135.5,277C136.33,274.75 136.08,272 137,270.5C137.92,269 139.67,268.08 141,268C142.33,267.92 144.08,268.67 145,270C145.92,271.33 146.17,273.75 146.5,276C146.83,278.25 146,282.33 147,283.5C148,284.67 151.08,282.42 152.5,283C153.92,283.58 154.92,285.33 155.5,287C156.08,288.67 156,290.92 156,293C156,295.08 156.33,297.5 155.5,299.5C154.67,301.5 153.42,303.83 151,305C148.58,306.17 143.92,306.42 141,306.5C138.08,306.58 135.25,306.58 133.5,305.5C131.75,304.42 130.83,302.08 130.5,300C130.17,297.92 131.75,294.83 131.5,293C131.25,291.17 129.75,290.17 129,289C128.25,287.83 126.5,286.83 127,286Z" fill="#72e6f6" filter="url(#b14)"/>
<path d="M137.5,273C138.23,271.83 139.83,271 141,271C142.17,271 143.7,271.83 144.5,273C145.3,274.17 145.72,276.33 145.8,278C145.88,279.67 144.88,281.7 145,283C145.12,284.3 145.25,285.42 146.5,285.8C147.75,286.18 151.25,284.6 152.5,285.3C153.75,286 153.82,287.88 154,290C154.18,292.12 154.35,295.88 153.6,298C152.85,300.12 151.6,301.67 149.5,302.7C147.4,303.73 143.42,304.12 141,304.2C138.58,304.28 136.4,304.23 135,303.2C133.6,302.17 132.88,299.87 132.6,298C132.32,296.13 132.68,293.83 133.3,292C133.92,290.17 135.65,288.5 136.3,287C136.95,285.5 137.15,284.5 137.2,283C137.25,281.5 136.55,279.67 136.6,278C136.65,276.33 136.77,274.17 137.5,273Z" fill="#7aee5a" filter="url(#b10)"/>
</g>
<path d="M101.1,252.9C102.43,252.82 103.8,254.35 105,255.5C106.2,256.65 107.65,257.45 108.3,259.8C108.95,262.15 108.35,267.1 108.9,269.6C109.45,272.1 110.4,273.6 111.6,274.8C112.8,276 114.87,275.82 116.1,276.8C117.33,277.78 118.52,278.2 119,280.7C119.48,283.2 119.48,289.95 119,291.8C118.52,293.65 117.12,290.93 116.1,291.8C115.08,292.67 114.2,295.25 112.9,297C111.6,298.75 109.93,300.55 108.3,302.3C106.67,304.05 104.85,306.75 103.1,307.5C101.35,308.25 99.12,307.67 97.8,306.8C96.48,305.93 95.68,305.93 95.2,302.3C94.72,298.67 94.95,291.55 94.9,285C94.85,278.45 94.55,267.83 94.9,263C95.25,258.17 95.97,257.68 97,256C98.03,254.32 99.77,252.98 101.1,252.9Z" fill="#0e22f0" filter="url(#b04)"/>
<g clip-path="url(#cl2)">
<path d="M101.28,258.72C102.35,258.65 103.44,259.88 104.4,260.8C105.36,261.72 106.52,262.36 107.04,264.24C107.56,266.12 107.08,270.08 107.52,272.08C107.96,274.08 108.72,275.28 109.68,276.24C110.64,277.2 112.29,277.05 113.28,277.84C114.27,278.63 115.21,278.96 115.6,280.96C115.99,282.96 115.99,288.36 115.6,289.84C115.21,291.32 114.09,289.15 113.28,289.84C112.47,290.53 111.76,292.6 110.72,294C109.68,295.4 108.35,296.84 107.04,298.24C105.73,299.64 104.28,301.8 102.88,302.4C101.48,303 99.69,302.53 98.64,301.84C97.59,301.15 96.95,301.15 96.56,298.24C96.17,295.33 96.36,289.64 96.32,284.4C96.28,279.16 96.04,270.67 96.32,266.8C96.6,262.93 97.17,262.55 98,261.2C98.83,259.85 100.21,258.79 101.28,258.72Z" fill="#2a62ff" filter="url(#b18)"/>
<ellipse cx="101.4" cy="284" rx="5.1" ry="22.8" fill="#72e6f6" filter="url(#b12)"/>
<ellipse cx="101.4" cy="284.5" rx="4.3" ry="20.8" fill="#7aee5a" filter="url(#b10)"/>
<ellipse cx="101.2" cy="288" rx="2.7" ry="12.5" fill="#f0ec3c" filter="url(#b08)"/>
<ellipse cx="101.2" cy="289.5" rx="2.1" ry="9.5" fill="#f2a032" filter="url(#b06)"/>
<ellipse cx="101.2" cy="290.5" rx="1.6" ry="7.5" fill="#e6301e" filter="url(#b05)"/>
</g>
<text x="135.2" y="197" font-size="8.6" text-anchor="middle" fill="#222" stroke="#222" stroke-width="0.14" font-style="italic" textLength="22.5" lengthAdjust="spacingAndGlyphs">E. coli</text>
<rect x="73.2" y="201.5" width="127" height="127" fill="none" stroke="#222" stroke-width="1"/>
<line x1="70.2" y1="207.6" x2="73.2" y2="207.6" stroke="#222" stroke-width="0.8"/>
<text x="67.9" y="209.7" font-size="5.8" text-anchor="end" fill="#333" stroke="#333" stroke-width="0.1">200K</text>
<line x1="70.2" y1="233.9" x2="73.2" y2="233.9" stroke="#222" stroke-width="0.8"/>
<text x="67.9" y="236" font-size="5.8" text-anchor="end" fill="#333" stroke="#333" stroke-width="0.1">150K</text>
<line x1="70.2" y1="260.2" x2="73.2" y2="260.2" stroke="#222" stroke-width="0.8"/>
<text x="67.9" y="262.3" font-size="5.8" text-anchor="end" fill="#333" stroke="#333" stroke-width="0.1">100K</text>
<line x1="70.2" y1="286.5" x2="73.2" y2="286.5" stroke="#222" stroke-width="0.8"/>
<text x="67.9" y="288.6" font-size="5.8" text-anchor="end" fill="#333" stroke="#333" stroke-width="0.1">50K</text>
<line x1="70.2" y1="312.8" x2="73.2" y2="312.8" stroke="#222" stroke-width="0.8"/>
<text x="67.9" y="314.9" font-size="5.8" text-anchor="end" fill="#333" stroke="#333" stroke-width="0.1">0</text>
<line x1="71.4" y1="207.6" x2="73.2" y2="207.6" stroke="#333" stroke-width="0.6"/>
<line x1="71.4" y1="212.86" x2="73.2" y2="212.86" stroke="#333" stroke-width="0.6"/>
<line x1="71.4" y1="218.12" x2="73.2" y2="218.12" stroke="#333" stroke-width="0.6"/>
<line x1="71.4" y1="223.38" x2="73.2" y2="223.38" stroke="#333" stroke-width="0.6"/>
<line x1="71.4" y1="228.64" x2="73.2" y2="228.64" stroke="#333" stroke-width="0.6"/>
<line x1="71.4" y1="233.9" x2="73.2" y2="233.9" stroke="#333" stroke-width="0.6"/>
<line x1="71.4" y1="239.16" x2="73.2" y2="239.16" stroke="#333" stroke-width="0.6"/>
<line x1="71.4" y1="244.42" x2="73.2" y2="244.42" stroke="#333" stroke-width="0.6"/>
<line x1="71.4" y1="249.68" x2="73.2" y2="249.68" stroke="#333" stroke-width="0.6"/>
<line x1="71.4" y1="254.94" x2="73.2" y2="254.94" stroke="#333" stroke-width="0.6"/>
<line x1="71.4" y1="260.2" x2="73.2" y2="260.2" stroke="#333" stroke-width="0.6"/>
<line x1="71.4" y1="265.46" x2="73.2" y2="265.46" stroke="#333" stroke-width="0.6"/>
<line x1="71.4" y1="270.72" x2="73.2" y2="270.72" stroke="#333" stroke-width="0.6"/>
<line x1="71.4" y1="275.98" x2="73.2" y2="275.98" stroke="#333" stroke-width="0.6"/>
<line x1="71.4" y1="281.24" x2="73.2" y2="281.24" stroke="#333" stroke-width="0.6"/>
<line x1="71.4" y1="286.5" x2="73.2" y2="286.5" stroke="#333" stroke-width="0.6"/>
<line x1="71.4" y1="291.76" x2="73.2" y2="291.76" stroke="#333" stroke-width="0.6"/>
<line x1="71.4" y1="297.02" x2="73.2" y2="297.02" stroke="#333" stroke-width="0.6"/>
<line x1="71.4" y1="302.28" x2="73.2" y2="302.28" stroke="#333" stroke-width="0.6"/>
<line x1="71.4" y1="307.54" x2="73.2" y2="307.54" stroke="#333" stroke-width="0.6"/>
<line x1="71.4" y1="312.8" x2="73.2" y2="312.8" stroke="#333" stroke-width="0.6"/>
<line x1="71.4" y1="318.06" x2="73.2" y2="318.06" stroke="#333" stroke-width="0.6"/>
<line x1="71.4" y1="323.32" x2="73.2" y2="323.32" stroke="#333" stroke-width="0.6"/>
<line x1="85.5" y1="328.5" x2="85.5" y2="331.3" stroke="#222" stroke-width="0.8"/>
<text x="86.5" y="338.7" font-size="6.2" text-anchor="middle" fill="#333" stroke="#333" stroke-width="0.1">-10<tspan font-size="5" dy="-2.8">3</tspan></text>
<line x1="104" y1="328.5" x2="104" y2="331.3" stroke="#222" stroke-width="0.8"/>
<text x="104" y="338.7" font-size="6.2" text-anchor="middle" fill="#333" stroke="#333" stroke-width="0.1">0</text>
<line x1="126.4" y1="328.5" x2="126.4" y2="331.3" stroke="#222" stroke-width="0.8"/>
<text x="127.4" y="338.7" font-size="6.2" text-anchor="middle" fill="#333" stroke="#333" stroke-width="0.1">10<tspan font-size="5" dy="-2.8">3</tspan></text>
<line x1="160.3" y1="328.5" x2="160.3" y2="331.3" stroke="#222" stroke-width="0.8"/>
<text x="161.3" y="338.7" font-size="6.2" text-anchor="middle" fill="#333" stroke="#333" stroke-width="0.1">10<tspan font-size="5" dy="-2.8">4</tspan></text>
<line x1="190.7" y1="328.5" x2="190.7" y2="331.3" stroke="#222" stroke-width="0.8"/>
<text x="191.7" y="338.7" font-size="6.2" text-anchor="middle" fill="#333" stroke="#333" stroke-width="0.1">10<tspan font-size="5" dy="-2.8">5</tspan></text>
<path d="M136.6,328.5v2M169.45,328.5v2M142.57,328.5v2M174.8,328.5v2M146.81,328.5v2M178.6,328.5v2M150.1,328.5v2M181.55,328.5v2M152.78,328.5v2M183.96,328.5v2M155.05,328.5v2M185.99,328.5v2M157.01,328.5v2M187.75,328.5v2M158.75,328.5v2M189.31,328.5v2M89.2,328.5v2M108.48,328.5v2M92.9,328.5v2M112.96,328.5v2M96.6,328.5v2M117.44,328.5v2M100.3,328.5v2M121.92,328.5v2M81.8,328.5v2M78.1,328.5v2" stroke="#222" stroke-width="0.6" fill="none"/>
<rect x="100" y="328.9" width="5.5" height="2" fill="#111"/>
<rect x="118.6" y="251" width="72.1" height="58.3" fill="none" stroke="#333" stroke-width="1"/>
<text x="166.8" y="245.2" font-size="10.8" text-anchor="start" fill="#333" stroke="#333" stroke-width="0.18">39.6%</text>
<path d="M266,283.3C266.98,280.18 270.63,280.23 271.9,278C273.17,275.77 272.43,272.03 273.6,269.9C274.77,267.77 277.05,266.85 278.9,265.2C280.75,263.55 281.78,261.27 284.7,260C287.62,258.73 291.92,258 296.4,257.6C300.88,257.2 308.38,256.92 311.6,257.6C314.82,258.28 314.93,259.07 315.7,261.7C316.47,264.33 316.5,269.12 316.2,273.4C315.9,277.68 314.77,283.13 313.9,287.4C313.03,291.67 312.37,296.08 311,299C309.63,301.92 308.13,303.53 305.7,304.9C303.27,306.27 299.9,307.2 296.4,307.2C292.9,307.2 287.43,306.07 284.7,304.9C281.97,303.73 281.95,301.18 280,300.2C278.05,299.22 275.33,299.58 273,299C270.67,298.42 267.17,299.32 266,296.7C264.83,294.08 265.02,286.42 266,283.3Z" fill="#0e22f0" filter="url(#b04)"/>
<g clip-path="url(#cl3)">
<path d="M271.4,283.25C272.21,280.69 275.2,280.73 276.24,278.9C277.28,277.07 276.68,274.01 277.63,272.26C278.59,270.51 280.46,269.76 281.98,268.4C283.5,267.05 284.34,265.18 286.73,264.14C289.13,263.1 292.65,262.5 296.33,262.17C300,261.84 306.15,261.61 308.79,262.17C311.43,262.73 311.53,263.37 312.15,265.53C312.78,267.69 312.81,271.62 312.56,275.13C312.32,278.64 311.39,283.11 310.68,286.61C309.97,290.11 309.42,293.73 308.3,296.12C307.18,298.51 305.95,299.84 303.95,300.96C301.96,302.08 299.2,302.84 296.33,302.84C293.46,302.84 288.98,301.91 286.73,300.96C284.49,300 284.48,297.91 282.88,297.1C281.28,296.3 279.05,296.6 277.14,296.12C275.23,295.64 272.36,296.38 271.4,294.23C270.44,292.09 270.59,285.8 271.4,283.25Z" fill="#2a62ff" filter="url(#b18)"/>
<path d="M278.42,287.95C278.12,284.9 280.86,282.46 282.08,279.41C283.3,276.36 284.32,271.69 285.74,269.65C287.16,267.62 288.99,267.01 290.62,267.21C292.25,267.42 293.87,270.87 295.5,270.87C297.13,270.87 298.55,268.64 300.38,267.21C302.21,265.79 304.55,263.25 306.48,262.33C308.41,261.42 310.34,260.91 311.97,261.72C313.6,262.54 315.53,263.25 316.24,267.21C316.95,271.18 316.65,280.02 316.24,285.51C315.83,291 315.12,296.49 313.8,300.15C312.48,303.81 311.16,305.95 308.31,307.47C305.46,309 300.18,309.51 296.72,309.3C293.26,309.1 289.71,308.19 287.57,306.25C285.44,304.32 285.44,300.76 283.91,297.71C282.39,294.66 278.73,291 278.42,287.95Z" fill="#4c9dff" filter="url(#b24)"/>
<path d="M282,287C281.75,284.5 284,282.5 285,280C286,277.5 286.83,273.67 288,272C289.17,270.33 290.67,269.83 292,270C293.33,270.17 294.67,273 296,273C297.33,273 298.5,271.17 300,270C301.5,268.83 303.42,266.75 305,266C306.58,265.25 308.17,264.83 309.5,265.5C310.83,266.17 312.42,266.75 313,270C313.58,273.25 313.33,280.5 313,285C312.67,289.5 312.08,294 311,297C309.92,300 308.83,301.75 306.5,303C304.17,304.25 299.83,304.67 297,304.5C294.17,304.33 291.25,303.58 289.5,302C287.75,300.42 287.75,297.5 286.5,295C285.25,292.5 282.25,289.5 282,287Z" fill="#72e6f6" filter="url(#b14)"/>
<path d="M288.5,276C288.83,274.17 290.08,272.33 291,272C291.92,271.67 293.17,273 294,274C294.83,275 295,277.67 296,278C297,278.33 298.67,277.33 300,276C301.33,274.67 302.67,271.33 304,270C305.33,268.67 306.83,267.67 308,268C309.17,268.33 310.5,269.17 311,272C311.5,274.83 311.33,281 311,285C310.67,289 310,293.33 309,296C308,298.67 307,300 305,301C303,302 299.33,302.33 297,302C294.67,301.67 292.42,300.67 291,299C289.58,297.33 288.83,294.67 288.5,292C288.17,289.33 289,285.67 289,283C289,280.33 288.17,277.83 288.5,276Z" fill="#7aee5a" filter="url(#b10)"/>
</g>
<ellipse cx="302.2" cy="291" rx="4.6" ry="8.4" fill="#f0ec3c" filter="url(#b10)" transform="rotate(20 302.2 291)"/>
<ellipse cx="302.2" cy="291" rx="3.3" ry="6.8" fill="#f2a032" filter="url(#b08)" transform="rotate(20 302.2 291)"/>
<ellipse cx="302.2" cy="291.2" rx="2.2" ry="5.2" fill="#e8481e" filter="url(#b06)" transform="rotate(20 302.2 291.2)"/>
<path d="M247.9,255.3C249.17,255.3 251.12,257.27 252,259.3C252.88,261.33 252.62,265.15 253.2,267.5C253.78,269.85 254.82,271.65 255.5,273.4C256.18,275.15 256.82,276.33 257.3,278C257.78,279.67 257.45,282.5 258.4,283.4C259.35,284.3 261.48,283.42 263,283.4C264.52,283.38 266.75,281.08 267.5,283.3C268.25,285.52 268.42,294.47 267.5,296.7C266.58,298.93 263.52,296.67 262,296.7C260.48,296.73 259.48,296.52 258.4,296.9C257.32,297.28 256.47,297.67 255.5,299C254.53,300.33 253.77,303.73 252.6,304.9C251.43,306.07 249.87,306.2 248.5,306C247.13,305.8 245.27,305.63 244.4,303.7C243.53,301.77 243.55,299.45 243.3,294.4C243.05,289.35 242.72,279.25 242.9,273.4C243.08,267.55 243.57,262.32 244.4,259.3C245.23,256.28 246.63,255.3 247.9,255.3Z" fill="#0e22f0" filter="url(#b04)"/>
<g clip-path="url(#cl4)">
<path d="M248.02,260.44C249.03,260.44 250.59,262.01 251.3,263.64C252.01,265.27 251.79,268.32 252.26,270.2C252.73,272.08 253.55,273.52 254.1,274.92C254.65,276.32 255.15,277.27 255.54,278.6C255.93,279.93 255.66,282.2 256.42,282.92C257.18,283.64 258.89,282.93 260.1,282.92C261.31,282.91 263.1,281.07 263.7,282.84C264.3,284.61 264.43,291.77 263.7,293.56C262.97,295.35 260.51,293.53 259.3,293.56C258.09,293.59 257.29,293.41 256.42,293.72C255.55,294.03 254.87,294.33 254.1,295.4C253.33,296.47 252.71,299.19 251.78,300.12C250.85,301.05 249.59,301.16 248.5,301C247.41,300.84 245.91,300.71 245.22,299.16C244.53,297.61 244.54,295.76 244.34,291.72C244.14,287.68 243.87,279.6 244.02,274.92C244.17,270.24 244.55,266.05 245.22,263.64C245.89,261.23 247.01,260.44 248.02,260.44Z" fill="#2a62ff" filter="url(#b18)"/>
<ellipse cx="248.2" cy="283" rx="4.2" ry="20.5" fill="#72e6f6" filter="url(#b12)"/>
<ellipse cx="248.3" cy="285" rx="3.5" ry="16" fill="#7aee5a" filter="url(#b10)"/>
<ellipse cx="248.4" cy="288.5" rx="2.6" ry="10.5" fill="#f0ec3c" filter="url(#b09)"/>
<ellipse cx="248.5" cy="289.3" rx="2" ry="8.2" fill="#f2a032" filter="url(#b07)"/>
<ellipse cx="248.5" cy="289.8" rx="1.6" ry="6.2" fill="#e6301e" filter="url(#b06)"/>
</g>
<text x="282.4" y="197" font-size="8.6" text-anchor="middle" fill="#222" stroke="#222" stroke-width="0.14" font-style="italic" textLength="31.5" lengthAdjust="spacingAndGlyphs">L. j+L. m</text>
<rect x="220.4" y="201.5" width="127" height="127" fill="none" stroke="#222" stroke-width="1"/>
<line x1="217.4" y1="207.6" x2="220.4" y2="207.6" stroke="#222" stroke-width="0.8"/>
<text x="215.1" y="209.7" font-size="5.8" text-anchor="end" fill="#333" stroke="#333" stroke-width="0.1">200K</text>
<line x1="217.4" y1="233.9" x2="220.4" y2="233.9" stroke="#222" stroke-width="0.8"/>
<text x="215.1" y="236" font-size="5.8" text-anchor="end" fill="#333" stroke="#333" stroke-width="0.1">150K</text>
<line x1="217.4" y1="260.2" x2="220.4" y2="260.2" stroke="#222" stroke-width="0.8"/>
<text x="215.1" y="262.3" font-size="5.8" text-anchor="end" fill="#333" stroke="#333" stroke-width="0.1">100K</text>
<line x1="217.4" y1="286.5" x2="220.4" y2="286.5" stroke="#222" stroke-width="0.8"/>
<text x="215.1" y="288.6" font-size="5.8" text-anchor="end" fill="#333" stroke="#333" stroke-width="0.1">50K</text>
<line x1="217.4" y1="312.8" x2="220.4" y2="312.8" stroke="#222" stroke-width="0.8"/>
<text x="215.1" y="314.9" font-size="5.8" text-anchor="end" fill="#333" stroke="#333" stroke-width="0.1">0</text>
<line x1="218.6" y1="207.6" x2="220.4" y2="207.6" stroke="#333" stroke-width="0.6"/>
<line x1="218.6" y1="212.86" x2="220.4" y2="212.86" stroke="#333" stroke-width="0.6"/>
<line x1="218.6" y1="218.12" x2="220.4" y2="218.12" stroke="#333" stroke-width="0.6"/>
<line x1="218.6" y1="223.38" x2="220.4" y2="223.38" stroke="#333" stroke-width="0.6"/>
<line x1="218.6" y1="228.64" x2="220.4" y2="228.64" stroke="#333" stroke-width="0.6"/>
<line x1="218.6" y1="233.9" x2="220.4" y2="233.9" stroke="#333" stroke-width="0.6"/>
<line x1="218.6" y1="239.16" x2="220.4" y2="239.16" stroke="#333" stroke-width="0.6"/>
<line x1="218.6" y1="244.42" x2="220.4" y2="244.42" stroke="#333" stroke-width="0.6"/>
<line x1="218.6" y1="249.68" x2="220.4" y2="249.68" stroke="#333" stroke-width="0.6"/>
<line x1="218.6" y1="254.94" x2="220.4" y2="254.94" stroke="#333" stroke-width="0.6"/>
<line x1="218.6" y1="260.2" x2="220.4" y2="260.2" stroke="#333" stroke-width="0.6"/>
<line x1="218.6" y1="265.46" x2="220.4" y2="265.46" stroke="#333" stroke-width="0.6"/>
<line x1="218.6" y1="270.72" x2="220.4" y2="270.72" stroke="#333" stroke-width="0.6"/>
<line x1="218.6" y1="275.98" x2="220.4" y2="275.98" stroke="#333" stroke-width="0.6"/>
<line x1="218.6" y1="281.24" x2="220.4" y2="281.24" stroke="#333" stroke-width="0.6"/>
<line x1="218.6" y1="286.5" x2="220.4" y2="286.5" stroke="#333" stroke-width="0.6"/>
<line x1="218.6" y1="291.76" x2="220.4" y2="291.76" stroke="#333" stroke-width="0.6"/>
<line x1="218.6" y1="297.02" x2="220.4" y2="297.02" stroke="#333" stroke-width="0.6"/>
<line x1="218.6" y1="302.28" x2="220.4" y2="302.28" stroke="#333" stroke-width="0.6"/>
<line x1="218.6" y1="307.54" x2="220.4" y2="307.54" stroke="#333" stroke-width="0.6"/>
<line x1="218.6" y1="312.8" x2="220.4" y2="312.8" stroke="#333" stroke-width="0.6"/>
<line x1="218.6" y1="318.06" x2="220.4" y2="318.06" stroke="#333" stroke-width="0.6"/>
<line x1="218.6" y1="323.32" x2="220.4" y2="323.32" stroke="#333" stroke-width="0.6"/>
<line x1="232.7" y1="328.5" x2="232.7" y2="331.3" stroke="#222" stroke-width="0.8"/>
<text x="233.7" y="338.7" font-size="6.2" text-anchor="middle" fill="#333" stroke="#333" stroke-width="0.1">-10<tspan font-size="5" dy="-2.8">3</tspan></text>
<line x1="251.2" y1="328.5" x2="251.2" y2="331.3" stroke="#222" stroke-width="0.8"/>
<text x="251.2" y="338.7" font-size="6.2" text-anchor="middle" fill="#333" stroke="#333" stroke-width="0.1">0</text>
<line x1="273.6" y1="328.5" x2="273.6" y2="331.3" stroke="#222" stroke-width="0.8"/>
<text x="274.6" y="338.7" font-size="6.2" text-anchor="middle" fill="#333" stroke="#333" stroke-width="0.1">10<tspan font-size="5" dy="-2.8">3</tspan></text>
<line x1="308" y1="328.5" x2="308" y2="331.3" stroke="#222" stroke-width="0.8"/>
<text x="309" y="338.7" font-size="6.2" text-anchor="middle" fill="#333" stroke="#333" stroke-width="0.1">10<tspan font-size="5" dy="-2.8">4</tspan></text>
<line x1="339.5" y1="328.5" x2="339.5" y2="331.3" stroke="#222" stroke-width="0.8"/>
<text x="340.5" y="338.7" font-size="6.2" text-anchor="middle" fill="#333" stroke="#333" stroke-width="0.1">10<tspan font-size="5" dy="-2.8">5</tspan></text>
<path d="M283.96,328.5v2M317.48,328.5v2M290.01,328.5v2M323.03,328.5v2M294.31,328.5v2M326.96,328.5v2M297.64,328.5v2M330.02,328.5v2M300.37,328.5v2M332.51,328.5v2M302.67,328.5v2M334.62,328.5v2M304.67,328.5v2M336.45,328.5v2M306.43,328.5v2M338.06,328.5v2M236.4,328.5v2M255.68,328.5v2M240.1,328.5v2M260.16,328.5v2M243.8,328.5v2M264.64,328.5v2M247.5,328.5v2M269.12,328.5v2M229,328.5v2M225.3,328.5v2" stroke="#222" stroke-width="0.6" fill="none"/>
<rect x="247.2" y="328.9" width="5.5" height="2" fill="#111"/>
<rect x="266" y="251.2" width="71.6" height="58" fill="none" stroke="#333" stroke-width="1"/>
<text x="311" y="246.8" font-size="10.8" text-anchor="start" fill="#333" stroke="#333" stroke-width="0.18">69.6%</text>
<path d="M394.3,256.4C396.07,256.4 398.02,260.33 399.4,261.9C400.78,263.47 401.02,264.75 402.6,265.8C404.18,266.85 407.2,267.53 408.9,268.2C410.6,268.87 411.78,269.58 412.8,269.8C413.82,270.02 414.63,263.97 415,269.5C415.37,275.03 415.37,297.43 415,303C414.63,308.57 414.35,303.38 412.8,302.9C411.25,302.42 407.8,300.17 405.7,300.1C403.6,300.03 401.78,301.65 400.2,302.5C398.62,303.35 397.52,304.72 396.2,305.2C394.88,305.68 393.53,306.05 392.3,305.4C391.07,304.75 389.43,305.2 388.8,301.3C388.17,297.4 388.5,288.57 388.5,282C388.5,275.43 387.83,266.17 388.8,261.9C389.77,257.63 392.53,256.4 394.3,256.4Z" fill="#0e22f0" filter="url(#b04)"/>
<g clip-path="url(#cl5)">
<path d="M394.97,261.19C396.41,261.19 398.01,264.41 399.15,265.7C400.28,266.98 400.47,268.04 401.77,268.9C403.07,269.76 405.54,270.32 406.94,270.86C408.33,271.41 409.3,272 410.14,272.18C410.97,272.35 411.64,267.39 411.94,271.93C412.24,276.47 412.24,294.84 411.94,299.4C411.64,303.96 411.41,299.71 410.14,299.32C408.87,298.92 406.04,297.08 404.31,297.02C402.59,296.97 401.1,298.29 399.8,298.99C398.51,299.69 397.6,300.81 396.52,301.2C395.44,301.6 394.34,301.9 393.33,301.37C392.31,300.83 390.98,301.2 390.46,298.01C389.94,294.81 390.21,287.56 390.21,282.18C390.21,276.8 389.66,269.2 390.46,265.7C391.25,262.2 393.52,261.19 394.97,261.19Z" fill="#2a62ff" filter="url(#b18)"/>
<path d="M402,277C403.17,273.83 406.67,273.5 409,273C411.33,272.5 414,271.83 416,274C418,276.17 421,282.17 421,286C421,289.83 418,295.25 416,297C414,298.75 411.33,297.33 409,296.5C406.67,295.67 403.17,295.25 402,292C400.83,288.75 400.83,280.17 402,277Z" fill="#4c9dff" filter="url(#b24)"/>
</g>
<path d="M414.7,269C415.62,262.23 417.65,264.42 419.5,262.7C421.35,260.98 422.78,259.62 425.8,258.7C428.82,257.78 433.4,257.27 437.6,257.2C441.8,257.13 447.85,257.52 451,258.3C454.15,259.08 455.25,260.25 456.5,261.9C457.75,263.55 458.1,265.57 458.5,268.2C458.9,270.83 458.97,274.15 458.9,277.7C458.83,281.25 458.63,286.1 458.1,289.5C457.57,292.9 456.88,295.87 455.7,298.1C454.52,300.33 453.37,301.58 451,302.9C448.63,304.22 445.05,305.48 441.5,306C437.95,306.52 432.98,306.25 429.7,306C426.42,305.75 424.42,304.95 421.8,304.5C419.18,304.05 415.18,309.22 414,303.3C412.82,297.38 413.78,275.77 414.7,269Z" fill="#0e22f0" filter="url(#b04)"/>
<g clip-path="url(#cl6)">
<path d="M418.05,271.1C418.82,265.35 420.55,267.2 422.12,265.75C423.7,264.29 424.92,263.12 427.48,262.34C430.04,261.57 433.94,261.13 437.51,261.07C441.08,261.01 446.22,261.34 448.9,262C451.58,262.67 452.51,263.66 453.57,265.06C454.64,266.47 454.93,268.18 455.27,270.42C455.62,272.66 455.67,275.48 455.62,278.5C455.56,281.51 455.39,285.63 454.94,288.52C454.48,291.41 453.9,293.94 452.89,295.84C451.89,297.73 450.91,298.8 448.9,299.91C446.89,301.03 443.84,302.11 440.82,302.55C437.81,302.99 433.59,302.76 430.8,302.55C428,302.34 426.3,301.66 424.08,301.27C421.86,300.89 418.46,305.28 417.45,300.25C416.44,295.23 417.27,276.85 418.05,271.1Z" fill="#2a62ff" filter="url(#b18)"/>
<path d="M415.25,283.68C416.02,281 416.79,277.93 418.7,275.63C420.62,273.33 423.5,271.8 426.75,269.88C430.01,267.97 434.04,265.19 438.25,264.13C442.47,263.08 448.7,262.98 452.05,263.56C455.41,264.13 457.23,263.08 458.38,267.58C459.53,272.09 459.15,285.22 458.95,290.58C458.76,295.95 458.57,297.29 457.23,299.78C455.89,302.27 454.45,304.48 450.9,305.53C447.36,306.59 440.17,306.4 435.95,306.11C431.74,305.82 428.29,305.25 425.6,303.81C422.92,302.37 421.77,299.5 419.85,297.48C417.94,295.47 414.87,294.03 414.1,291.73C413.34,289.43 414.49,286.37 415.25,283.68Z" fill="#4c9dff" filter="url(#b24)"/>
<path d="M418,284C418.67,281.67 419.33,279 421,277C422.67,275 425.17,273.67 428,272C430.83,270.33 434.33,267.92 438,267C441.67,266.08 447.08,266 450,266.5C452.92,267 454.5,266.08 455.5,270C456.5,273.92 456.17,285.33 456,290C455.83,294.67 455.67,295.83 454.5,298C453.33,300.17 452.08,302.08 449,303C445.92,303.92 439.67,303.75 436,303.5C432.33,303.25 429.33,302.75 427,301.5C424.67,300.25 423.67,297.75 422,296C420.33,294.25 417.67,293 417,291C416.33,289 417.33,286.33 418,284Z" fill="#72e6f6" filter="url(#b14)"/>
<path d="M432,276C434,273.83 437,271.17 440,270C443,268.83 447.75,268.67 450,269C452.25,269.33 452.92,268.5 453.5,272C454.08,275.5 453.75,285.83 453.5,290C453.25,294.17 453.08,295.25 452,297C450.92,298.75 449.67,299.83 447,300.5C444.33,301.17 438.83,301.25 436,301C433.17,300.75 431.42,300.5 430,299C428.58,297.5 427.83,294.67 427.5,292C427.17,289.33 427.25,285.67 428,283C428.75,280.33 430,278.17 432,276Z" fill="#7aee5a" filter="url(#b10)"/>
</g>
<ellipse cx="444.3" cy="288" rx="5" ry="8.2" fill="#f0ec3c" filter="url(#b09)"/>
<ellipse cx="445.6" cy="287.6" rx="3" ry="6.6" fill="#f2a032" filter="url(#b09)" transform="rotate(10 445.6 287.6)"/>
<ellipse cx="446" cy="284.6" rx="2.2" ry="2.6" fill="#e8782a" filter="url(#b07)"/>
<g clip-path="url(#cl7)">
<ellipse cx="395.4" cy="282.4" rx="5.1" ry="20.5" fill="#72e6f6" filter="url(#b12)"/>
<ellipse cx="394.8" cy="283.5" rx="4.1" ry="17.7" fill="#7aee5a" filter="url(#b10)"/>
<ellipse cx="394.6" cy="286" rx="3.8" ry="14" fill="#f0ec3c" filter="url(#b09)"/>
<ellipse cx="394.6" cy="286.8" rx="3.2" ry="12.4" fill="#f2a032" filter="url(#b08)"/>
<ellipse cx="394.7" cy="288" rx="2.4" ry="9.6" fill="#e6301e" filter="url(#b07)"/>
</g>
<text x="429.4" y="197" font-size="8.6" text-anchor="middle" fill="#222" stroke="#222" stroke-width="0.14" font-style="italic" textLength="11" lengthAdjust="spacingAndGlyphs">L. j</text>
<rect x="367.4" y="201.5" width="127" height="127" fill="none" stroke="#222" stroke-width="1"/>
<line x1="364.4" y1="207.6" x2="367.4" y2="207.6" stroke="#222" stroke-width="0.8"/>
<text x="362.1" y="209.7" font-size="5.8" text-anchor="end" fill="#333" stroke="#333" stroke-width="0.1">200K</text>
<line x1="364.4" y1="233.9" x2="367.4" y2="233.9" stroke="#222" stroke-width="0.8"/>
<text x="362.1" y="236" font-size="5.8" text-anchor="end" fill="#333" stroke="#333" stroke-width="0.1">150K</text>
<line x1="364.4" y1="260.2" x2="367.4" y2="260.2" stroke="#222" stroke-width="0.8"/>
<text x="362.1" y="262.3" font-size="5.8" text-anchor="end" fill="#333" stroke="#333" stroke-width="0.1">100K</text>
<line x1="364.4" y1="286.5" x2="367.4" y2="286.5" stroke="#222" stroke-width="0.8"/>
<text x="362.1" y="288.6" font-size="5.8" text-anchor="end" fill="#333" stroke="#333" stroke-width="0.1">50K</text>
<line x1="364.4" y1="312.8" x2="367.4" y2="312.8" stroke="#222" stroke-width="0.8"/>
<text x="362.1" y="314.9" font-size="5.8" text-anchor="end" fill="#333" stroke="#333" stroke-width="0.1">0</text>
<line x1="365.6" y1="207.6" x2="367.4" y2="207.6" stroke="#333" stroke-width="0.6"/>
<line x1="365.6" y1="212.86" x2="367.4" y2="212.86" stroke="#333" stroke-width="0.6"/>
<line x1="365.6" y1="218.12" x2="367.4" y2="218.12" stroke="#333" stroke-width="0.6"/>
<line x1="365.6" y1="223.38" x2="367.4" y2="223.38" stroke="#333" stroke-width="0.6"/>
<line x1="365.6" y1="228.64" x2="367.4" y2="228.64" stroke="#333" stroke-width="0.6"/>
<line x1="365.6" y1="233.9" x2="367.4" y2="233.9" stroke="#333" stroke-width="0.6"/>
<line x1="365.6" y1="239.16" x2="367.4" y2="239.16" stroke="#333" stroke-width="0.6"/>
<line x1="365.6" y1="244.42" x2="367.4" y2="244.42" stroke="#333" stroke-width="0.6"/>
<line x1="365.6" y1="249.68" x2="367.4" y2="249.68" stroke="#333" stroke-width="0.6"/>
<line x1="365.6" y1="254.94" x2="367.4" y2="254.94" stroke="#333" stroke-width="0.6"/>
<line x1="365.6" y1="260.2" x2="367.4" y2="260.2" stroke="#333" stroke-width="0.6"/>
<line x1="365.6" y1="265.46" x2="367.4" y2="265.46" stroke="#333" stroke-width="0.6"/>
<line x1="365.6" y1="270.72" x2="367.4" y2="270.72" stroke="#333" stroke-width="0.6"/>
<line x1="365.6" y1="275.98" x2="367.4" y2="275.98" stroke="#333" stroke-width="0.6"/>
<line x1="365.6" y1="281.24" x2="367.4" y2="281.24" stroke="#333" stroke-width="0.6"/>
<line x1="365.6" y1="286.5" x2="367.4" y2="286.5" stroke="#333" stroke-width="0.6"/>
<line x1="365.6" y1="291.76" x2="367.4" y2="291.76" stroke="#333" stroke-width="0.6"/>
<line x1="365.6" y1="297.02" x2="367.4" y2="297.02" stroke="#333" stroke-width="0.6"/>
<line x1="365.6" y1="302.28" x2="367.4" y2="302.28" stroke="#333" stroke-width="0.6"/>
<line x1="365.6" y1="307.54" x2="367.4" y2="307.54" stroke="#333" stroke-width="0.6"/>
<line x1="365.6" y1="312.8" x2="367.4" y2="312.8" stroke="#333" stroke-width="0.6"/>
<line x1="365.6" y1="318.06" x2="367.4" y2="318.06" stroke="#333" stroke-width="0.6"/>
<line x1="365.6" y1="323.32" x2="367.4" y2="323.32" stroke="#333" stroke-width="0.6"/>
<line x1="379.7" y1="328.5" x2="379.7" y2="331.3" stroke="#222" stroke-width="0.8"/>
<text x="380.7" y="338.7" font-size="6.2" text-anchor="middle" fill="#333" stroke="#333" stroke-width="0.1">-10<tspan font-size="5" dy="-2.8">3</tspan></text>
<line x1="398.2" y1="328.5" x2="398.2" y2="331.3" stroke="#222" stroke-width="0.8"/>
<text x="398.2" y="338.7" font-size="6.2" text-anchor="middle" fill="#333" stroke="#333" stroke-width="0.1">0</text>
<line x1="420.6" y1="328.5" x2="420.6" y2="331.3" stroke="#222" stroke-width="0.8"/>
<text x="421.6" y="338.7" font-size="6.2" text-anchor="middle" fill="#333" stroke="#333" stroke-width="0.1">10<tspan font-size="5" dy="-2.8">3</tspan></text>
<line x1="455" y1="328.5" x2="455" y2="331.3" stroke="#222" stroke-width="0.8"/>
<text x="456" y="338.7" font-size="6.2" text-anchor="middle" fill="#333" stroke="#333" stroke-width="0.1">10<tspan font-size="5" dy="-2.8">4</tspan></text>
<line x1="486.5" y1="328.5" x2="486.5" y2="331.3" stroke="#222" stroke-width="0.8"/>
<text x="487.5" y="338.7" font-size="6.2" text-anchor="middle" fill="#333" stroke="#333" stroke-width="0.1">10<tspan font-size="5" dy="-2.8">5</tspan></text>
<path d="M430.96,328.5v2M464.48,328.5v2M437.01,328.5v2M470.03,328.5v2M441.31,328.5v2M473.96,328.5v2M444.64,328.5v2M477.02,328.5v2M447.37,328.5v2M479.51,328.5v2M449.67,328.5v2M481.62,328.5v2M451.67,328.5v2M483.45,328.5v2M453.43,328.5v2M485.06,328.5v2M383.4,328.5v2M402.68,328.5v2M387.1,328.5v2M407.16,328.5v2M390.8,328.5v2M411.64,328.5v2M394.5,328.5v2M416.12,328.5v2M376,328.5v2M372.3,328.5v2" stroke="#222" stroke-width="0.6" fill="none"/>
<rect x="394.2" y="328.9" width="5.5" height="2" fill="#111"/>
<rect x="413.4" y="251.2" width="71.2" height="58" fill="none" stroke="#333" stroke-width="1"/>
<text x="459.6" y="246.3" font-size="10.8" text-anchor="start" fill="#333" stroke="#333" stroke-width="0.18">63.9%</text>
<line x1="568.4" y1="221.5" x2="568.4" y2="334.8" stroke="#222" stroke-width="1.1"/>
<line x1="567.9" y1="334.3" x2="680" y2="334.3" stroke="#222" stroke-width="1.1"/>
<line x1="565.4" y1="222" x2="568.4" y2="222" stroke="#222" stroke-width="1"/>
<text x="562" y="225" font-size="8.6" text-anchor="end" fill="#222" stroke="#222" stroke-width="0.14">100</text>
<line x1="565.4" y1="250" x2="568.4" y2="250" stroke="#222" stroke-width="1"/>
<text x="562" y="253" font-size="8.6" text-anchor="end" fill="#222" stroke="#222" stroke-width="0.14">80</text>
<line x1="565.4" y1="278" x2="568.4" y2="278" stroke="#222" stroke-width="1"/>
<text x="562" y="281" font-size="8.6" text-anchor="end" fill="#222" stroke="#222" stroke-width="0.14">60</text>
<line x1="565.4" y1="305.8" x2="568.4" y2="305.8" stroke="#222" stroke-width="1"/>
<text x="562" y="308.8" font-size="8.6" text-anchor="end" fill="#222" stroke="#222" stroke-width="0.14">40</text>
<line x1="565.4" y1="333.7" x2="568.4" y2="333.7" stroke="#222" stroke-width="1"/>
<text x="562" y="336.7" font-size="8.6" text-anchor="end" fill="#222" stroke="#222" stroke-width="0.14">20</text>
<line x1="591.4" y1="334.3" x2="591.4" y2="337.1" stroke="#222" stroke-width="1"/>
<line x1="625" y1="334.3" x2="625" y2="337.1" stroke="#222" stroke-width="1"/>
<line x1="658.8" y1="334.3" x2="658.8" y2="337.1" stroke="#222" stroke-width="1"/>
<text x="546.5" y="270.5" font-size="8.6" text-anchor="middle" fill="#222" stroke="#222" stroke-width="0.14" transform="rotate(-90 546.5 270.5)" textLength="79" lengthAdjust="spacingAndGlyphs">CD45<tspan font-size="5.5" dy="-3">+</tspan><tspan dy="3">/ live cells (%)</tspan></text>
<circle cx="585.8" cy="258.8" r="2.6" fill="#d2503d"/>
<circle cx="595.7" cy="258.8" r="2.6" fill="#d2503d"/>
<circle cx="591.4" cy="268" r="2.6" fill="#d2503d"/>
<circle cx="585.8" cy="277.6" r="2.6" fill="#d2503d"/>
<circle cx="595.7" cy="276" r="2.6" fill="#d2503d"/>
<circle cx="591.4" cy="290.7" r="2.6" fill="#d2503d"/>
<circle cx="591.4" cy="299" r="2.6" fill="#d2503d"/>
<line x1="581.4" y1="276" x2="601.4" y2="276" stroke="#d2503d" stroke-width="1.2"/>
<line x1="591.4" y1="259.8" x2="591.4" y2="291.7" stroke="#d2503d" stroke-width="1.2"/>
<line x1="586.4" y1="259.8" x2="596.4" y2="259.8" stroke="#d2503d" stroke-width="1.2"/>
<line x1="586.4" y1="291.7" x2="596.4" y2="291.7" stroke="#d2503d" stroke-width="1.2"/>
<circle cx="625" cy="238.5" r="2.6" fill="#f0901c"/>
<circle cx="620.3" cy="251.6" r="2.6" fill="#f0901c"/>
<circle cx="630.2" cy="251.6" r="2.6" fill="#f0901c"/>
<circle cx="615" cy="262.8" r="2.6" fill="#f0901c"/>
<circle cx="625" cy="262.8" r="2.6" fill="#f0901c"/>
<circle cx="634" cy="267" r="2.6" fill="#f0901c"/>
<circle cx="625" cy="274.6" r="2.6" fill="#f0901c"/>
<line x1="614.5" y1="259.5" x2="635.5" y2="259.5" stroke="#f0901c" stroke-width="1.2"/>
<line x1="625" y1="248" x2="625" y2="271.3" stroke="#f0901c" stroke-width="1.2"/>
<line x1="620" y1="248" x2="630" y2="248" stroke="#f0901c" stroke-width="1.2"/>
<line x1="620" y1="271.3" x2="630" y2="271.3" stroke="#f0901c" stroke-width="1.2"/>
<circle cx="653.8" cy="246.7" r="2.6" fill="#5aaccb"/>
<circle cx="663.7" cy="244.4" r="2.6" fill="#5aaccb"/>
<circle cx="653.8" cy="253.9" r="2.6" fill="#5aaccb"/>
<circle cx="653.8" cy="259.5" r="2.6" fill="#5aaccb"/>
<circle cx="663.7" cy="258.8" r="2.6" fill="#5aaccb"/>
<circle cx="658.8" cy="273.4" r="2.6" fill="#5aaccb"/>
<circle cx="658.8" cy="282.5" r="2.6" fill="#5aaccb"/>
<line x1="648.3" y1="259.8" x2="669.3" y2="259.8" stroke="#5aaccb" stroke-width="1.2"/>
<line x1="658.8" y1="246.7" x2="658.8" y2="273.6" stroke="#5aaccb" stroke-width="1.2"/>
<line x1="653.8" y1="246.7" x2="663.8" y2="246.7" stroke="#5aaccb" stroke-width="1.2"/>
<line x1="653.8" y1="273.6" x2="663.8" y2="273.6" stroke="#5aaccb" stroke-width="1.2"/>
<line x1="589.8" y1="203" x2="659.4" y2="203" stroke="#6e6e6e" stroke-width="1.25"/>
<path d="M626,192.15L626,196.85M623.96,193.32L628.04,195.68M628.04,193.32L623.96,195.68" stroke="#111" stroke-width="1.35" stroke-linecap="round" fill="none"/>
<circle cx="626" cy="194.5" r="1.06" fill="#111"/>
<line x1="589.8" y1="222.7" x2="621" y2="222.7" stroke="#6e6e6e" stroke-width="1.25"/>
<path d="M605.2,213.35L605.2,218.05M603.16,214.52L607.24,216.88M607.24,214.52L603.16,216.88" stroke="#111" stroke-width="1.35" stroke-linecap="round" fill="none"/>
<circle cx="605.2" cy="215.7" r="1.06" fill="#111"/>
<line x1="627.5" y1="222.7" x2="659.4" y2="222.7" stroke="#6e6e6e" stroke-width="1.25"/>
<text x="642.3" y="219.3" font-size="8.6" text-anchor="middle" fill="#222" stroke="#222" stroke-width="0.14">ns</text>
<text x="591.6" y="345.5" font-size="9.2" text-anchor="end" fill="#222" stroke="#222" stroke-width="0.15" font-style="italic" transform="rotate(-45 591.6 345.5)" textLength="27.82" lengthAdjust="spacingAndGlyphs">E. coli</text>
<text x="626.6" y="345.5" font-size="9.2" text-anchor="end" fill="#222" stroke="#222" stroke-width="0.15" font-style="italic" transform="rotate(-45 626.6 345.5)" textLength="38.52" lengthAdjust="spacingAndGlyphs">L. m+L. j</text>
<text x="660.6" y="345.5" font-size="9.2" text-anchor="end" fill="#222" stroke="#222" stroke-width="0.15" font-style="italic" transform="rotate(-45 660.6 345.5)" textLength="13.91" lengthAdjust="spacingAndGlyphs">L. j</text>
</g>
<g>
<text x="6.4" y="377.7" font-size="16.5" fill="#111">e</text>
<text x="54.9" y="524.5" font-size="9.6" text-anchor="start" fill="#333" stroke="#333" stroke-width="0.16" textLength="57.5" lengthAdjust="spacingAndGlyphs">CD8-APC-CY7</text>
<line x1="115.3" y1="522.3" x2="189.8" y2="522.3" stroke="#3a3a3a" stroke-width="0.7"/>
<polygon points="189.8,522.3 186.8,520.5 186.8,524.1" fill="#3a3a3a"/>
<line x1="51" y1="482.8" x2="51" y2="409.8" stroke="#3a3a3a" stroke-width="0.7"/>
<polygon points="51,409.8 49.2,412.8 52.8,412.8" fill="#3a3a3a"/>
<text x="52.6" y="498" font-size="9.6" text-anchor="middle" fill="#333" stroke="#333" stroke-width="0.16" transform="rotate(-90 52.6 498)" textLength="23" lengthAdjust="spacingAndGlyphs">SSCA</text>
<path d="M118.7,460.9C119.48,457.33 121.37,456.72 122.7,455.6C124.03,454.48 125.02,455.43 126.7,454.2C128.38,452.97 131.67,450.33 132.8,448.2C133.93,446.07 132.6,443.65 133.5,441.4C134.4,439.15 137.08,436.6 138.2,434.7C139.32,432.8 139.2,430.88 140.2,430C141.2,429.12 142.63,428.62 144.2,429.4C145.77,430.18 148.48,433.03 149.6,434.7C150.72,436.37 149.78,437.93 150.9,439.4C152.02,440.87 155.4,442.15 156.3,443.5C157.2,444.85 155.92,445.72 156.3,447.5C156.68,449.28 158.82,452.3 158.6,454.2C158.38,456.1 155.5,457.33 155,458.9C154.5,460.47 156.28,461.92 155.6,463.6C154.92,465.28 152.23,466.98 150.9,469C149.57,471.02 149.17,474.25 147.6,475.7C146.03,477.15 143.97,477.25 141.5,477.7C139.03,478.15 135.93,478.4 132.8,478.4C129.67,478.4 125.17,477.93 122.7,477.7C120.23,477.47 118.67,479.8 118,477C117.33,474.2 117.92,464.47 118.7,460.9Z" fill="#0e22f0" filter="url(#b04)"/>
<g clip-path="url(#cl8)">
<path d="M123.16,460.72C123.79,457.87 125.29,457.37 126.36,456.48C127.43,455.59 128.21,456.35 129.56,455.36C130.91,454.37 133.53,452.27 134.44,450.56C135.35,448.85 134.28,446.92 135,445.12C135.72,443.32 137.87,441.28 138.76,439.76C139.65,438.24 139.56,436.71 140.36,436C141.16,435.29 142.31,434.89 143.56,435.52C144.81,436.15 146.99,438.43 147.88,439.76C148.77,441.09 148.03,442.35 148.92,443.52C149.81,444.69 152.52,445.72 153.24,446.8C153.96,447.88 152.93,448.57 153.24,450C153.55,451.43 155.25,453.84 155.08,455.36C154.91,456.88 152.6,457.87 152.2,459.12C151.8,460.37 153.23,461.53 152.68,462.88C152.13,464.23 149.99,465.59 148.92,467.2C147.85,468.81 147.53,471.4 146.28,472.56C145.03,473.72 143.37,473.8 141.4,474.16C139.43,474.52 136.95,474.72 134.44,474.72C131.93,474.72 128.33,474.35 126.36,474.16C124.39,473.97 123.13,475.84 122.6,473.6C122.07,471.36 122.53,463.57 123.16,460.72Z" fill="#2a62ff" filter="url(#b18)"/>
<path d="M134.31,451.13C135.71,449.83 139.11,447.43 141.51,446.93C143.91,446.43 146.91,446.83 148.71,448.13C150.51,449.43 151.81,452.03 152.31,454.73C152.81,457.43 152.51,461.83 151.71,464.33C150.91,466.83 149.41,468.53 147.51,469.73C145.61,470.93 142.11,470.43 140.31,471.53C138.51,472.63 138.31,475.33 136.71,476.33C135.11,477.33 132.51,477.93 130.71,477.53C128.91,477.13 126.61,476.33 125.91,473.93C125.21,471.53 125.71,465.73 126.51,463.13C127.31,460.53 129.61,459.73 130.71,458.33C131.81,456.93 132.51,455.93 133.11,454.73C133.71,453.53 132.91,452.43 134.31,451.13Z" fill="#4c9dff" filter="url(#b24)"/>
<path d="M135,453C136.17,451.92 139,449.92 141,449.5C143,449.08 145.5,449.42 147,450.5C148.5,451.58 149.58,453.75 150,456C150.42,458.25 150.17,461.92 149.5,464C148.83,466.08 147.58,467.5 146,468.5C144.42,469.5 141.5,469.08 140,470C138.5,470.92 138.33,473.17 137,474C135.67,474.83 133.5,475.33 132,475C130.5,474.67 128.58,474 128,472C127.42,470 127.83,465.17 128.5,463C129.17,460.83 131.08,460.17 132,459C132.92,457.83 133.5,457 134,456C134.5,455 133.83,454.08 135,453Z" fill="#72e6f6" filter="url(#b14)"/>
<path d="M137,455C137.83,454 139.5,452.33 141,452C142.5,451.67 144.83,452.17 146,453C147.17,453.83 147.75,455.33 148,457C148.25,458.67 148.17,461.5 147.5,463C146.83,464.5 145.42,465.33 144,466C142.58,466.67 140.17,466.17 139,467C137.83,467.83 138,470.08 137,471C136,471.92 134.17,472.67 133,472.5C131.83,472.33 130.42,471.42 130,470C129.58,468.58 129.83,465.5 130.5,464C131.17,462.5 133.08,462 134,461C134.92,460 135.5,459 136,458C136.5,457 136.17,456 137,455Z" fill="#7aee5a" filter="url(#b10)"/>
</g>
<path d="M94.2,436.7C95.57,435.17 98.32,433.02 99.9,432.6C101.48,432.18 102.55,433.72 103.7,434.2C104.85,434.68 105.22,435.87 106.8,435.5C108.38,435.13 111.5,432.12 113.2,432C114.9,431.88 116.32,432.85 117,434.8C117.68,436.75 117.3,440.32 117.3,443.7C117.3,447.08 116.63,452.37 117,455.1C117.37,457.83 119.08,456.62 119.5,460.1C119.92,463.58 120.03,473.15 119.5,476C118.97,478.85 117.88,476.8 116.3,477.2C114.72,477.6 112.73,477.88 110,478.4C107.27,478.92 102.73,480.4 99.9,480.3C97.07,480.2 94.58,479.48 93,477.8C91.42,476.12 90.93,474.1 90.4,470.2C89.87,466.3 89.58,459.13 89.8,454.4C90.02,449.67 90.97,444.75 91.7,441.8C92.43,438.85 92.83,438.23 94.2,436.7Z" fill="#0e22f0" filter="url(#b04)"/>
<g clip-path="url(#cl9)">
<path d="M96.16,440.96C97.25,439.73 99.45,438.01 100.72,437.68C101.99,437.35 102.84,438.57 103.76,438.96C104.68,439.35 104.97,440.29 106.24,440C107.51,439.71 110,437.29 111.36,437.2C112.72,437.11 113.85,437.88 114.4,439.44C114.95,441 114.64,443.85 114.64,446.56C114.64,449.27 114.11,453.49 114.4,455.68C114.69,457.87 116.07,456.89 116.4,459.68C116.73,462.47 116.83,470.12 116.4,472.4C115.97,474.68 115.11,473.04 113.84,473.36C112.57,473.68 110.99,473.91 108.8,474.32C106.61,474.73 102.99,475.92 100.72,475.84C98.45,475.76 96.47,475.19 95.2,473.84C93.93,472.49 93.55,470.88 93.12,467.76C92.69,464.64 92.47,458.91 92.64,455.12C92.81,451.33 93.57,447.4 94.16,445.04C94.75,442.68 95.07,442.19 96.16,440.96Z" fill="#2a62ff" filter="url(#b18)"/>
<ellipse cx="101.5" cy="459.5" rx="8.2" ry="18" fill="#72e6f6" filter="url(#b12)"/>
<path d="M95.5,446C96.42,444.58 98.5,443.5 100,443.5C101.5,443.5 103.25,444.08 104.5,446C105.75,447.92 106.67,452 107.5,455C108.33,458 109.08,461.33 109.5,464C109.92,466.67 110.58,469.08 110,471C109.42,472.92 107.67,474.67 106,475.5C104.33,476.33 101.83,476.33 100,476C98.17,475.67 95.95,475.83 95,473.5C94.05,471.17 94.38,465.58 94.3,462C94.22,458.42 94.3,454.67 94.5,452C94.7,449.33 94.58,447.42 95.5,446Z" fill="#7aee5a" filter="url(#b10)"/>
<ellipse cx="101.2" cy="464.5" rx="4.5" ry="9.5" fill="#f0ec3c" filter="url(#b09)"/>
<ellipse cx="100.9" cy="465.3" rx="3.5" ry="7.4" fill="#f2a032" filter="url(#b08)"/>
<ellipse cx="100.8" cy="465.8" rx="2.5" ry="5.4" fill="#e6301e" filter="url(#b07)"/>
</g>
<ellipse cx="170" cy="449" rx="3.2" ry="4" fill="#0e22f0" filter="url(#b04)"/>
<ellipse cx="184" cy="457.6" rx="6" ry="6.5" fill="#0e22f0" filter="url(#b04)"/>
<ellipse cx="175.3" cy="468.5" rx="2.8" ry="2.8" fill="#0e22f0" filter="url(#b04)"/>
<ellipse cx="193" cy="440.8" rx="1.8" ry="1.8" fill="#0e22f0" filter="url(#b04)"/>
<ellipse cx="184" cy="457.6" rx="3" ry="3.5" fill="#2a62ff" filter="url(#b14)"/>
<text x="133.5" y="369.8" font-size="8.6" text-anchor="middle" fill="#222" stroke="#222" stroke-width="0.14" font-style="italic" textLength="22.5" lengthAdjust="spacingAndGlyphs">E. coli</text>
<rect x="71.5" y="374.3" width="127" height="127" fill="none" stroke="#222" stroke-width="1"/>
<line x1="68.5" y1="380.2" x2="71.5" y2="380.2" stroke="#222" stroke-width="0.8"/>
<text x="66.2" y="382.3" font-size="5.8" text-anchor="end" fill="#333" stroke="#333" stroke-width="0.1">200K</text>
<line x1="68.5" y1="406.5" x2="71.5" y2="406.5" stroke="#222" stroke-width="0.8"/>
<text x="66.2" y="408.6" font-size="5.8" text-anchor="end" fill="#333" stroke="#333" stroke-width="0.1">150K</text>
<line x1="68.5" y1="432.8" x2="71.5" y2="432.8" stroke="#222" stroke-width="0.8"/>
<text x="66.2" y="434.9" font-size="5.8" text-anchor="end" fill="#333" stroke="#333" stroke-width="0.1">100K</text>
<line x1="68.5" y1="459.1" x2="71.5" y2="459.1" stroke="#222" stroke-width="0.8"/>
<text x="66.2" y="461.2" font-size="5.8" text-anchor="end" fill="#333" stroke="#333" stroke-width="0.1">50K</text>
<line x1="68.5" y1="485.4" x2="71.5" y2="485.4" stroke="#222" stroke-width="0.8"/>
<text x="66.2" y="487.5" font-size="5.8" text-anchor="end" fill="#333" stroke="#333" stroke-width="0.1">0</text>
<line x1="69.7" y1="380.2" x2="71.5" y2="380.2" stroke="#333" stroke-width="0.6"/>
<line x1="69.7" y1="385.46" x2="71.5" y2="385.46" stroke="#333" stroke-width="0.6"/>
<line x1="69.7" y1="390.72" x2="71.5" y2="390.72" stroke="#333" stroke-width="0.6"/>
<line x1="69.7" y1="395.98" x2="71.5" y2="395.98" stroke="#333" stroke-width="0.6"/>
<line x1="69.7" y1="401.24" x2="71.5" y2="401.24" stroke="#333" stroke-width="0.6"/>
<line x1="69.7" y1="406.5" x2="71.5" y2="406.5" stroke="#333" stroke-width="0.6"/>
<line x1="69.7" y1="411.76" x2="71.5" y2="411.76" stroke="#333" stroke-width="0.6"/>
<line x1="69.7" y1="417.02" x2="71.5" y2="417.02" stroke="#333" stroke-width="0.6"/>
<line x1="69.7" y1="422.28" x2="71.5" y2="422.28" stroke="#333" stroke-width="0.6"/>
<line x1="69.7" y1="427.54" x2="71.5" y2="427.54" stroke="#333" stroke-width="0.6"/>
<line x1="69.7" y1="432.8" x2="71.5" y2="432.8" stroke="#333" stroke-width="0.6"/>
<line x1="69.7" y1="438.06" x2="71.5" y2="438.06" stroke="#333" stroke-width="0.6"/>
<line x1="69.7" y1="443.32" x2="71.5" y2="443.32" stroke="#333" stroke-width="0.6"/>
<line x1="69.7" y1="448.58" x2="71.5" y2="448.58" stroke="#333" stroke-width="0.6"/>
<line x1="69.7" y1="453.84" x2="71.5" y2="453.84" stroke="#333" stroke-width="0.6"/>
<line x1="69.7" y1="459.1" x2="71.5" y2="459.1" stroke="#333" stroke-width="0.6"/>
<line x1="69.7" y1="464.36" x2="71.5" y2="464.36" stroke="#333" stroke-width="0.6"/>
<line x1="69.7" y1="469.62" x2="71.5" y2="469.62" stroke="#333" stroke-width="0.6"/>
<line x1="69.7" y1="474.88" x2="71.5" y2="474.88" stroke="#333" stroke-width="0.6"/>
<line x1="69.7" y1="480.14" x2="71.5" y2="480.14" stroke="#333" stroke-width="0.6"/>
<line x1="69.7" y1="485.4" x2="71.5" y2="485.4" stroke="#333" stroke-width="0.6"/>
<line x1="69.7" y1="490.66" x2="71.5" y2="490.66" stroke="#333" stroke-width="0.6"/>
<line x1="69.7" y1="495.92" x2="71.5" y2="495.92" stroke="#333" stroke-width="0.6"/>
<line x1="69.7" y1="501.18" x2="71.5" y2="501.18" stroke="#333" stroke-width="0.6"/>
<line x1="78.8" y1="501.3" x2="78.8" y2="504.1" stroke="#222" stroke-width="0.8"/>
<text x="79.8" y="511.15" font-size="5.5" text-anchor="middle" fill="#333" stroke="#333" stroke-width="0.09">-10<tspan font-size="5" dy="-2.8">3</tspan></text>
<line x1="102.8" y1="501.3" x2="102.8" y2="504.1" stroke="#222" stroke-width="0.8"/>
<text x="102.8" y="511.15" font-size="5.5" text-anchor="middle" fill="#333" stroke="#333" stroke-width="0.09">0</text>
<line x1="128.5" y1="501.3" x2="128.5" y2="504.1" stroke="#222" stroke-width="0.8"/>
<text x="129.5" y="511.15" font-size="5.5" text-anchor="middle" fill="#333" stroke="#333" stroke-width="0.09">10<tspan font-size="5" dy="-2.8">3</tspan></text>
<line x1="160.6" y1="501.3" x2="160.6" y2="504.1" stroke="#222" stroke-width="0.8"/>
<text x="161.6" y="511.15" font-size="5.5" text-anchor="middle" fill="#333" stroke="#333" stroke-width="0.09">10<tspan font-size="5" dy="-2.8">4</tspan></text>
<line x1="189.8" y1="501.3" x2="189.8" y2="504.1" stroke="#222" stroke-width="0.8"/>
<text x="190.8" y="511.15" font-size="5.5" text-anchor="middle" fill="#333" stroke="#333" stroke-width="0.09">10<tspan font-size="5" dy="-2.8">5</tspan></text>
<path d="M138.16,501.3v2M169.39,501.3v2M143.82,501.3v2M174.53,501.3v2M147.83,501.3v2M178.18,501.3v2M150.94,501.3v2M181.01,501.3v2M153.48,501.3v2M183.32,501.3v2M155.63,501.3v2M185.28,501.3v2M157.49,501.3v2M186.97,501.3v2M159.13,501.3v2M188.46,501.3v2M83.6,501.3v2M107.94,501.3v2M88.4,501.3v2M113.08,501.3v2M93.2,501.3v2M118.22,501.3v2M98,501.3v2M123.36,501.3v2M74,501.3v2" stroke="#222" stroke-width="0.6" fill="none"/>
<rect x="98.8" y="501.7" width="5.5" height="2" fill="#111"/>
<rect x="118.2" y="425.3" width="45.2" height="56.5" fill="none" stroke="#333" stroke-width="1"/>
<text x="155.3" y="423.2" font-size="10.8" text-anchor="start" fill="#333" stroke="#333" stroke-width="0.18">30.4%</text>
<path d="M266.7,460.2C267.7,457.07 271.47,461.32 272.7,460.2C273.93,459.08 272.87,455.28 274.1,453.5C275.33,451.72 278.65,451.52 280.1,449.5C281.55,447.48 281.57,443.42 282.8,441.4C284.03,439.38 285.93,438.73 287.5,437.4C289.07,436.07 290.52,433.97 292.2,433.4C293.88,432.83 295.92,433.12 297.6,434C299.28,434.88 301.07,436.78 302.3,438.7C303.53,440.62 304.45,443.15 305,445.5C305.55,447.85 306.05,450.35 305.6,452.8C305.15,455.25 302.73,457.73 302.3,460.2C301.87,462.67 303.78,465.35 303,467.6C302.22,469.85 299.4,471.68 297.6,473.7C295.8,475.72 294.45,478.7 292.2,479.7C289.95,480.7 287.12,479.82 284.1,479.7C281.08,479.58 277,479.12 274.1,479C271.2,478.88 267.93,482.13 266.7,479C265.47,475.87 265.7,463.33 266.7,460.2Z" fill="#0e22f0" filter="url(#b04)"/>
<g clip-path="url(#cl10)">
<path d="M271.61,460.16C272.39,457.71 275.32,461.03 276.29,460.16C277.25,459.29 276.42,456.32 277.38,454.93C278.34,453.54 280.93,453.38 282.06,451.81C283.19,450.24 283.2,447.06 284.16,445.49C285.13,443.92 286.61,443.41 287.83,442.37C289.05,441.33 290.18,439.69 291.5,439.25C292.81,438.81 294.4,439.03 295.71,439.72C297.02,440.41 298.41,441.89 299.37,443.39C300.34,444.88 301.05,446.86 301.48,448.69C301.91,450.52 302.3,452.47 301.95,454.38C301.6,456.3 299.71,458.23 299.37,460.16C299.04,462.08 300.53,464.17 299.92,465.93C299.31,467.68 297.11,469.11 295.71,470.69C294.3,472.26 293.25,474.59 291.5,475.37C289.74,476.15 287.53,475.46 285.18,475.37C282.82,475.27 279.64,474.91 277.38,474.82C275.12,474.73 272.57,477.26 271.61,474.82C270.64,472.38 270.83,462.6 271.61,460.16Z" fill="#2a62ff" filter="url(#b18)"/>
<path d="M270.4,473.27C270.8,470.47 274.9,466.67 277,463.67C279.1,460.67 281.6,457.47 283,455.27C284.4,453.07 284.2,452.47 285.4,450.47C286.6,448.47 288.4,444.97 290.2,443.27C292,441.57 294.5,440.67 296.2,440.27C297.9,439.87 299.4,439.57 300.4,440.87C301.4,442.17 302,445.07 302.2,448.07C302.4,451.07 302.3,455.67 301.6,458.87C300.9,462.07 299.4,464.67 298,467.27C296.6,469.87 295.4,472.47 293.2,474.47C291,476.47 287.9,478.27 284.8,479.27C281.7,480.27 277,481.47 274.6,480.47C272.2,479.47 270,476.07 270.4,473.27Z" fill="#4c9dff" filter="url(#b24)"/>
<path d="M273.5,471C273.83,468.67 277.25,465.5 279,463C280.75,460.5 282.83,457.83 284,456C285.17,454.17 285,453.67 286,452C287,450.33 288.5,447.42 290,446C291.5,444.58 293.58,443.83 295,443.5C296.42,443.17 297.67,442.92 298.5,444C299.33,445.08 299.83,447.5 300,450C300.17,452.5 300.08,456.33 299.5,459C298.92,461.67 297.67,463.83 296.5,466C295.33,468.17 294.33,470.33 292.5,472C290.67,473.67 288.08,475.17 285.5,476C282.92,476.83 279,477.83 277,477C275,476.17 273.17,473.33 273.5,471Z" fill="#72e6f6" filter="url(#b14)"/>
<path d="M276,470C276.5,468.17 279.33,466 281,464C282.67,462 285,459.5 286,458C287,456.5 286.33,456.33 287,455C287.67,453.67 288.83,451.33 290,450C291.17,448.67 292.92,447.67 294,447C295.08,446.33 295.92,445.5 296.5,446C297.08,446.5 297.42,448 297.5,450C297.58,452 297.5,455.67 297,458C296.5,460.33 295.5,462.17 294.5,464C293.5,465.83 292.58,467.5 291,469C289.42,470.5 287.17,472 285,473C282.83,474 279.5,475.5 278,475C276.5,474.5 275.5,471.83 276,470Z" fill="#7aee5a" filter="url(#b10)"/>
</g>
<ellipse cx="283" cy="470" rx="4.6" ry="3.6" fill="#f0ec3c" filter="url(#b12)" transform="rotate(-25 283 470)"/>
<ellipse cx="282.8" cy="470.2" rx="1.3" ry="1.1" fill="#f2a032" filter="url(#b08)"/>
<path d="M242.3,439.4C243.5,437.92 247.23,435.95 248.6,434.9C249.97,433.85 249.65,433.2 250.5,433.1C251.35,433 252.12,434.1 253.7,434.3C255.28,434.5 258.32,433.77 260,434.3C261.68,434.83 262.75,436.23 263.8,437.5C264.85,438.77 265.77,439.8 266.3,441.9C266.83,444 266.68,448 267,450.1C267.32,452.2 268.12,453.13 268.2,454.5C268.28,455.87 267.53,454.38 267.5,458.3C267.47,462.22 268.83,474.73 268,478C267.17,481.27 264.37,477.38 262.5,477.9C260.63,478.42 259.12,480.42 256.8,481.1C254.48,481.78 251.02,482.22 248.6,482C246.18,481.78 243.93,481.22 242.3,479.8C240.67,478.38 239.43,476.87 238.8,473.5C238.17,470.13 238.23,462.97 238.5,459.6C238.77,456.23 239.92,455.93 240.4,453.3C240.88,450.67 241.08,446.12 241.4,443.8C241.72,441.48 241.1,440.88 242.3,439.4Z" fill="#0e22f0" filter="url(#b04)"/>
<g clip-path="url(#cl11)">
<path d="M244.44,443.12C245.4,441.93 248.39,440.36 249.48,439.52C250.57,438.68 250.32,438.16 251,438.08C251.68,438 252.29,438.88 253.56,439.04C254.83,439.2 257.25,438.61 258.6,439.04C259.95,439.47 260.8,440.59 261.64,441.6C262.48,442.61 263.21,443.44 263.64,445.12C264.07,446.8 263.95,450 264.2,451.68C264.45,453.36 265.09,454.11 265.16,455.2C265.23,456.29 264.63,455.11 264.6,458.24C264.57,461.37 265.67,471.39 265,474C264.33,476.61 262.09,473.51 260.6,473.92C259.11,474.33 257.89,475.93 256.04,476.48C254.19,477.03 251.41,477.37 249.48,477.2C247.55,477.03 245.75,476.57 244.44,475.44C243.13,474.31 242.15,473.09 241.64,470.4C241.13,467.71 241.19,461.97 241.4,459.28C241.61,456.59 242.53,456.35 242.92,454.24C243.31,452.13 243.47,448.49 243.72,446.64C243.97,444.79 243.48,444.31 244.44,443.12Z" fill="#2a62ff" filter="url(#b18)"/>
<ellipse cx="251.5" cy="461.5" rx="7.8" ry="17.3" fill="#72e6f6" filter="url(#b12)"/>
<ellipse cx="251.3" cy="462" rx="7" ry="15.5" fill="#7aee5a" filter="url(#b10)" transform="rotate(8 251.3 462)"/>
<ellipse cx="249.9" cy="466" rx="4.5" ry="10.2" fill="#f0ec3c" filter="url(#b09)" transform="rotate(8 249.9 466)"/>
<ellipse cx="249.8" cy="466.8" rx="3.6" ry="8.2" fill="#f2a032" filter="url(#b08)" transform="rotate(8 249.8 466.8)"/>
<ellipse cx="249.7" cy="467.7" rx="2.7" ry="6.2" fill="#e6301e" filter="url(#b07)" transform="rotate(8 249.7 467.7)"/>
</g>
<ellipse cx="327.6" cy="450.2" rx="1.9" ry="1.9" fill="#0e22f0" filter="url(#b04)"/>
<ellipse cx="192.8" cy="441" rx="1.8" ry="1.8" fill="#0e22f0" filter="url(#b04)"/>
<text x="282.4" y="371.1" font-size="8.6" text-anchor="middle" fill="#222" stroke="#222" stroke-width="0.14" font-style="italic" textLength="31.5" lengthAdjust="spacingAndGlyphs">L. j+L. m</text>
<rect x="220.4" y="375.6" width="127" height="127" fill="none" stroke="#222" stroke-width="1"/>
<line x1="217.4" y1="382" x2="220.4" y2="382" stroke="#222" stroke-width="0.8"/>
<text x="215.1" y="384.1" font-size="5.8" text-anchor="end" fill="#333" stroke="#333" stroke-width="0.1">200K</text>
<line x1="217.4" y1="408.3" x2="220.4" y2="408.3" stroke="#222" stroke-width="0.8"/>
<text x="215.1" y="410.4" font-size="5.8" text-anchor="end" fill="#333" stroke="#333" stroke-width="0.1">150K</text>
<line x1="217.4" y1="434.6" x2="220.4" y2="434.6" stroke="#222" stroke-width="0.8"/>
<text x="215.1" y="436.7" font-size="5.8" text-anchor="end" fill="#333" stroke="#333" stroke-width="0.1">100K</text>
<line x1="217.4" y1="460.9" x2="220.4" y2="460.9" stroke="#222" stroke-width="0.8"/>
<text x="215.1" y="463" font-size="5.8" text-anchor="end" fill="#333" stroke="#333" stroke-width="0.1">50K</text>
<line x1="217.4" y1="487.2" x2="220.4" y2="487.2" stroke="#222" stroke-width="0.8"/>
<text x="215.1" y="489.3" font-size="5.8" text-anchor="end" fill="#333" stroke="#333" stroke-width="0.1">0</text>
<line x1="218.6" y1="376.74" x2="220.4" y2="376.74" stroke="#333" stroke-width="0.6"/>
<line x1="218.6" y1="382" x2="220.4" y2="382" stroke="#333" stroke-width="0.6"/>
<line x1="218.6" y1="387.26" x2="220.4" y2="387.26" stroke="#333" stroke-width="0.6"/>
<line x1="218.6" y1="392.52" x2="220.4" y2="392.52" stroke="#333" stroke-width="0.6"/>
<line x1="218.6" y1="397.78" x2="220.4" y2="397.78" stroke="#333" stroke-width="0.6"/>
<line x1="218.6" y1="403.04" x2="220.4" y2="403.04" stroke="#333" stroke-width="0.6"/>
<line x1="218.6" y1="408.3" x2="220.4" y2="408.3" stroke="#333" stroke-width="0.6"/>
<line x1="218.6" y1="413.56" x2="220.4" y2="413.56" stroke="#333" stroke-width="0.6"/>
<line x1="218.6" y1="418.82" x2="220.4" y2="418.82" stroke="#333" stroke-width="0.6"/>
<line x1="218.6" y1="424.08" x2="220.4" y2="424.08" stroke="#333" stroke-width="0.6"/>
<line x1="218.6" y1="429.34" x2="220.4" y2="429.34" stroke="#333" stroke-width="0.6"/>
<line x1="218.6" y1="434.6" x2="220.4" y2="434.6" stroke="#333" stroke-width="0.6"/>
<line x1="218.6" y1="439.86" x2="220.4" y2="439.86" stroke="#333" stroke-width="0.6"/>
<line x1="218.6" y1="445.12" x2="220.4" y2="445.12" stroke="#333" stroke-width="0.6"/>
<line x1="218.6" y1="450.38" x2="220.4" y2="450.38" stroke="#333" stroke-width="0.6"/>
<line x1="218.6" y1="455.64" x2="220.4" y2="455.64" stroke="#333" stroke-width="0.6"/>
<line x1="218.6" y1="460.9" x2="220.4" y2="460.9" stroke="#333" stroke-width="0.6"/>
<line x1="218.6" y1="466.16" x2="220.4" y2="466.16" stroke="#333" stroke-width="0.6"/>
<line x1="218.6" y1="471.42" x2="220.4" y2="471.42" stroke="#333" stroke-width="0.6"/>
<line x1="218.6" y1="476.68" x2="220.4" y2="476.68" stroke="#333" stroke-width="0.6"/>
<line x1="218.6" y1="481.94" x2="220.4" y2="481.94" stroke="#333" stroke-width="0.6"/>
<line x1="218.6" y1="487.2" x2="220.4" y2="487.2" stroke="#333" stroke-width="0.6"/>
<line x1="218.6" y1="492.46" x2="220.4" y2="492.46" stroke="#333" stroke-width="0.6"/>
<line x1="218.6" y1="497.72" x2="220.4" y2="497.72" stroke="#333" stroke-width="0.6"/>
<line x1="228.5" y1="502.6" x2="228.5" y2="505.4" stroke="#222" stroke-width="0.8"/>
<text x="229.5" y="512.45" font-size="5.5" text-anchor="middle" fill="#333" stroke="#333" stroke-width="0.09">-10<tspan font-size="5" dy="-2.8">3</tspan></text>
<line x1="251.2" y1="502.6" x2="251.2" y2="505.4" stroke="#222" stroke-width="0.8"/>
<text x="251.2" y="512.45" font-size="5.5" text-anchor="middle" fill="#333" stroke="#333" stroke-width="0.09">0</text>
<line x1="278.3" y1="502.6" x2="278.3" y2="505.4" stroke="#222" stroke-width="0.8"/>
<text x="279.3" y="512.45" font-size="5.5" text-anchor="middle" fill="#333" stroke="#333" stroke-width="0.09">10<tspan font-size="5" dy="-2.8">3</tspan></text>
<line x1="309.1" y1="502.6" x2="309.1" y2="505.4" stroke="#222" stroke-width="0.8"/>
<text x="310.1" y="512.45" font-size="5.5" text-anchor="middle" fill="#333" stroke="#333" stroke-width="0.09">10<tspan font-size="5" dy="-2.8">4</tspan></text>
<line x1="338.3" y1="502.6" x2="338.3" y2="505.4" stroke="#222" stroke-width="0.8"/>
<text x="339.3" y="512.45" font-size="5.5" text-anchor="middle" fill="#333" stroke="#333" stroke-width="0.09">10<tspan font-size="5" dy="-2.8">5</tspan></text>
<path d="M287.57,502.6v2M317.89,502.6v2M293,502.6v2M323.03,502.6v2M296.84,502.6v2M326.68,502.6v2M299.83,502.6v2M329.51,502.6v2M302.27,502.6v2M331.82,502.6v2M304.33,502.6v2M333.78,502.6v2M306.12,502.6v2M335.47,502.6v2M307.69,502.6v2M336.96,502.6v2M233.04,502.6v2M256.62,502.6v2M237.58,502.6v2M262.04,502.6v2M242.12,502.6v2M267.46,502.6v2M246.66,502.6v2M272.88,502.6v2M223.96,502.6v2" stroke="#222" stroke-width="0.6" fill="none"/>
<rect x="247.2" y="503" width="5.5" height="2" fill="#111"/>
<rect x="266.5" y="426.4" width="45" height="56.2" fill="none" stroke="#333" stroke-width="1"/>
<text x="304.5" y="423.4" font-size="10.8" text-anchor="start" fill="#333" stroke="#333" stroke-width="0.18">46.3%</text>
<path d="M416.2,456.8C417.17,453.63 420.18,458.25 422,456.8C423.82,455.35 425.63,450.53 427.1,448.1C428.57,445.67 429.33,444.27 430.8,442.2C432.27,440.13 434.08,437.52 435.9,435.7C437.72,433.88 439.88,432.52 441.7,431.3C443.52,430.08 444.85,428.77 446.8,428.4C448.75,428.03 451.82,428.25 453.4,429.1C454.98,429.95 455.45,431.32 456.3,433.5C457.15,435.68 458.25,438.92 458.5,442.2C458.75,445.48 457.8,449.78 457.8,453.2C457.8,456.62 459.23,460.27 458.5,462.7C457.77,465.13 454.62,465.85 453.4,467.8C452.18,469.75 452.9,472.7 451.2,474.4C449.5,476.1 446.97,477.03 443.2,478C439.43,478.97 432.5,480.2 428.6,480.2C424.7,480.2 421.87,478.73 419.8,478C417.73,477.27 416.8,479.33 416.2,475.8C415.6,472.27 415.23,459.97 416.2,456.8Z" fill="#0e22f0" filter="url(#b04)"/>
<g clip-path="url(#cl12)">
<path d="M420.96,456.84C421.73,454.31 424.15,458 425.6,456.84C427.05,455.68 428.51,451.83 429.68,449.88C430.85,447.93 431.47,446.81 432.64,445.16C433.81,443.51 435.27,441.41 436.72,439.96C438.17,438.51 439.91,437.41 441.36,436.44C442.81,435.47 443.88,434.41 445.44,434.12C447,433.83 449.45,434 450.72,434.68C451.99,435.36 452.36,436.45 453.04,438.2C453.72,439.95 454.6,442.53 454.8,445.16C455,447.79 454.24,451.23 454.24,453.96C454.24,456.69 455.39,459.61 454.8,461.56C454.21,463.51 451.69,464.08 450.72,465.64C449.75,467.2 450.32,469.56 448.96,470.92C447.6,472.28 445.57,473.03 442.56,473.8C439.55,474.57 434,475.56 430.88,475.56C427.76,475.56 425.49,474.39 423.84,473.8C422.19,473.21 421.44,474.87 420.96,472.04C420.48,469.21 420.19,459.37 420.96,456.84Z" fill="#2a62ff" filter="url(#b18)"/>
<path d="M440.07,439.81C442.17,439.01 445.57,438.81 447.27,440.41C448.97,442.01 449.87,445.51 450.27,449.41C450.67,453.31 450.07,459.61 449.67,463.81C449.27,468.01 449.57,472.11 447.87,474.61C446.17,477.11 442.47,478.51 439.47,478.81C436.47,479.11 431.87,478.51 429.87,476.41C427.87,474.31 427.47,469.81 427.47,466.21C427.47,462.61 428.67,458.31 429.87,454.81C431.07,451.31 432.97,447.71 434.67,445.21C436.37,442.71 437.97,440.61 440.07,439.81Z" fill="#4c9dff" filter="url(#b24)"/>
<path d="M440,443C441.75,442.33 444.58,442.17 446,443.5C447.42,444.83 448.17,447.75 448.5,451C448.83,454.25 448.33,459.5 448,463C447.67,466.5 447.92,469.92 446.5,472C445.08,474.08 442,475.25 439.5,475.5C437,475.75 433.17,475.25 431.5,473.5C429.83,471.75 429.5,468 429.5,465C429.5,462 430.5,458.42 431.5,455.5C432.5,452.58 434.08,449.58 435.5,447.5C436.92,445.42 438.25,443.67 440,443Z" fill="#72e6f6" filter="url(#b14)"/>
<path d="M441,445.5C442.33,445 444.08,444.92 445,446C445.92,447.08 446.33,449.33 446.5,452C446.67,454.67 446.33,459 446,462C445.67,465 445.67,468.17 444.5,470C443.33,471.83 440.92,472.75 439,473C437.08,473.25 434.25,472.83 433,471.5C431.75,470.17 431.5,467.42 431.5,465C431.5,462.58 432.08,459.67 433,457C433.92,454.33 435.67,450.92 437,449C438.33,447.08 439.67,446 441,445.5Z" fill="#7aee5a" filter="url(#b10)"/>
</g>
<ellipse cx="441.5" cy="458" rx="3" ry="4.5" fill="#f0ec3c" filter="url(#b10)"/>
<circle cx="417.1" cy="466.4" r="1.8" fill="#fff" filter="url(#b04)"/>
<path d="M386.2,439.9C387.1,438.33 388.9,435.18 391.2,433.6C393.5,432.02 397.15,430.67 400,430.4C402.85,430.13 406.3,431.37 408.3,432C410.3,432.63 411.48,433.1 412,434.2C412.52,435.3 410.77,437.33 411.4,438.6C412.03,439.87 414.85,440.75 415.8,441.8C416.75,442.85 417.3,443.85 417.1,444.9C416.9,445.95 414.82,446.2 414.6,448.1C414.38,450 415.4,454.65 415.8,456.3C416.2,457.95 416.8,454.72 417,458C417.2,461.28 417.83,473.45 417,476C416.17,478.55 413.67,472.9 412,473.3C410.33,473.7 408.88,477.02 407,478.4C405.12,479.78 402.8,481.28 400.7,481.6C398.6,481.92 396.4,481.25 394.4,480.3C392.4,479.35 390.13,478.12 388.7,475.9C387.27,473.68 386.33,470.8 385.8,467C385.27,463.2 385.5,457.1 385.5,453.1C385.5,449.1 385.68,445.2 385.8,443C385.92,440.8 385.3,441.47 386.2,439.9Z" fill="#0e22f0" filter="url(#b04)"/>
<g clip-path="url(#cl13)">
<path d="M389.16,443.52C389.88,442.27 391.32,439.75 393.16,438.48C395,437.21 397.92,436.13 400.2,435.92C402.48,435.71 405.24,436.69 406.84,437.2C408.44,437.71 409.39,438.08 409.8,438.96C410.21,439.84 408.81,441.47 409.32,442.48C409.83,443.49 412.08,444.2 412.84,445.04C413.6,445.88 414.04,446.68 413.88,447.52C413.72,448.36 412.05,448.56 411.88,450.08C411.71,451.6 412.52,455.32 412.84,456.64C413.16,457.96 413.64,455.37 413.8,458C413.96,460.63 414.47,470.36 413.8,472.4C413.13,474.44 411.13,469.92 409.8,470.24C408.47,470.56 407.31,473.21 405.8,474.32C404.29,475.43 402.44,476.63 400.76,476.88C399.08,477.13 397.32,476.6 395.72,475.84C394.12,475.08 392.31,474.09 391.16,472.32C390.01,470.55 389.27,468.24 388.84,465.2C388.41,462.16 388.6,457.28 388.6,454.08C388.6,450.88 388.75,447.76 388.84,446C388.93,444.24 388.44,444.77 389.16,443.52Z" fill="#2a62ff" filter="url(#b18)"/>
<ellipse cx="398.8" cy="460.7" rx="7.6" ry="17.7" fill="#72e6f6" filter="url(#b12)"/>
<ellipse cx="398.7" cy="461.4" rx="7" ry="15.8" fill="#7aee5a" filter="url(#b10)"/>
<ellipse cx="398.2" cy="463.9" rx="5" ry="11.4" fill="#f0ec3c" filter="url(#b09)"/>
<ellipse cx="398" cy="465.4" rx="3.7" ry="8.4" fill="#f2a032" filter="url(#b08)"/>
<ellipse cx="398.4" cy="466.5" rx="2.6" ry="5.4" fill="#e6301e" filter="url(#b07)"/>
</g>
<ellipse cx="467.5" cy="453.3" rx="2.5" ry="3.6" fill="#0e22f0" filter="url(#b04)"/>
<ellipse cx="479.6" cy="454.8" rx="1.3" ry="1.3" fill="#0e22f0" filter="url(#b04)"/>
<ellipse cx="485.8" cy="449" rx="4.5" ry="3" fill="#0e22f0" filter="url(#b04)"/>
<text x="431.7" y="370.4" font-size="8.6" text-anchor="middle" fill="#222" stroke="#222" stroke-width="0.14" font-style="italic" textLength="11" lengthAdjust="spacingAndGlyphs">L. j</text>
<rect x="369.7" y="374.9" width="127" height="127" fill="none" stroke="#222" stroke-width="1"/>
<line x1="366.7" y1="380.6" x2="369.7" y2="380.6" stroke="#222" stroke-width="0.8"/>
<text x="364.4" y="382.7" font-size="5.8" text-anchor="end" fill="#333" stroke="#333" stroke-width="0.1">200K</text>
<line x1="366.7" y1="407" x2="369.7" y2="407" stroke="#222" stroke-width="0.8"/>
<text x="364.4" y="409.1" font-size="5.8" text-anchor="end" fill="#333" stroke="#333" stroke-width="0.1">150K</text>
<line x1="366.7" y1="433.4" x2="369.7" y2="433.4" stroke="#222" stroke-width="0.8"/>
<text x="364.4" y="435.5" font-size="5.8" text-anchor="end" fill="#333" stroke="#333" stroke-width="0.1">100K</text>
<line x1="366.7" y1="459.8" x2="369.7" y2="459.8" stroke="#222" stroke-width="0.8"/>
<text x="364.4" y="461.9" font-size="5.8" text-anchor="end" fill="#333" stroke="#333" stroke-width="0.1">50K</text>
<line x1="366.7" y1="486.2" x2="369.7" y2="486.2" stroke="#222" stroke-width="0.8"/>
<text x="364.4" y="488.3" font-size="5.8" text-anchor="end" fill="#333" stroke="#333" stroke-width="0.1">0</text>
<line x1="367.9" y1="380.6" x2="369.7" y2="380.6" stroke="#333" stroke-width="0.6"/>
<line x1="367.9" y1="385.88" x2="369.7" y2="385.88" stroke="#333" stroke-width="0.6"/>
<line x1="367.9" y1="391.16" x2="369.7" y2="391.16" stroke="#333" stroke-width="0.6"/>
<line x1="367.9" y1="396.44" x2="369.7" y2="396.44" stroke="#333" stroke-width="0.6"/>
<line x1="367.9" y1="401.72" x2="369.7" y2="401.72" stroke="#333" stroke-width="0.6"/>
<line x1="367.9" y1="407" x2="369.7" y2="407" stroke="#333" stroke-width="0.6"/>
<line x1="367.9" y1="412.28" x2="369.7" y2="412.28" stroke="#333" stroke-width="0.6"/>
<line x1="367.9" y1="417.56" x2="369.7" y2="417.56" stroke="#333" stroke-width="0.6"/>
<line x1="367.9" y1="422.84" x2="369.7" y2="422.84" stroke="#333" stroke-width="0.6"/>
<line x1="367.9" y1="428.12" x2="369.7" y2="428.12" stroke="#333" stroke-width="0.6"/>
<line x1="367.9" y1="433.4" x2="369.7" y2="433.4" stroke="#333" stroke-width="0.6"/>
<line x1="367.9" y1="438.68" x2="369.7" y2="438.68" stroke="#333" stroke-width="0.6"/>
<line x1="367.9" y1="443.96" x2="369.7" y2="443.96" stroke="#333" stroke-width="0.6"/>
<line x1="367.9" y1="449.24" x2="369.7" y2="449.24" stroke="#333" stroke-width="0.6"/>
<line x1="367.9" y1="454.52" x2="369.7" y2="454.52" stroke="#333" stroke-width="0.6"/>
<line x1="367.9" y1="459.8" x2="369.7" y2="459.8" stroke="#333" stroke-width="0.6"/>
<line x1="367.9" y1="465.08" x2="369.7" y2="465.08" stroke="#333" stroke-width="0.6"/>
<line x1="367.9" y1="470.36" x2="369.7" y2="470.36" stroke="#333" stroke-width="0.6"/>
<line x1="367.9" y1="475.64" x2="369.7" y2="475.64" stroke="#333" stroke-width="0.6"/>
<line x1="367.9" y1="480.92" x2="369.7" y2="480.92" stroke="#333" stroke-width="0.6"/>
<line x1="367.9" y1="486.2" x2="369.7" y2="486.2" stroke="#333" stroke-width="0.6"/>
<line x1="367.9" y1="491.48" x2="369.7" y2="491.48" stroke="#333" stroke-width="0.6"/>
<line x1="367.9" y1="496.76" x2="369.7" y2="496.76" stroke="#333" stroke-width="0.6"/>
<line x1="377.8" y1="501.9" x2="377.8" y2="504.7" stroke="#222" stroke-width="0.8"/>
<text x="378.8" y="511.75" font-size="5.5" text-anchor="middle" fill="#333" stroke="#333" stroke-width="0.09">-10<tspan font-size="5" dy="-2.8">3</tspan></text>
<line x1="400.5" y1="501.9" x2="400.5" y2="504.7" stroke="#222" stroke-width="0.8"/>
<text x="400.5" y="511.75" font-size="5.5" text-anchor="middle" fill="#333" stroke="#333" stroke-width="0.09">0</text>
<line x1="427.6" y1="501.9" x2="427.6" y2="504.7" stroke="#222" stroke-width="0.8"/>
<text x="428.6" y="511.75" font-size="5.5" text-anchor="middle" fill="#333" stroke="#333" stroke-width="0.09">10<tspan font-size="5" dy="-2.8">3</tspan></text>
<line x1="458.4" y1="501.9" x2="458.4" y2="504.7" stroke="#222" stroke-width="0.8"/>
<text x="459.4" y="511.75" font-size="5.5" text-anchor="middle" fill="#333" stroke="#333" stroke-width="0.09">10<tspan font-size="5" dy="-2.8">4</tspan></text>
<line x1="487.6" y1="501.9" x2="487.6" y2="504.7" stroke="#222" stroke-width="0.8"/>
<text x="488.6" y="511.75" font-size="5.5" text-anchor="middle" fill="#333" stroke="#333" stroke-width="0.09">10<tspan font-size="5" dy="-2.8">5</tspan></text>
<path d="M436.87,501.9v2M467.19,501.9v2M442.3,501.9v2M472.33,501.9v2M446.14,501.9v2M475.98,501.9v2M449.13,501.9v2M478.81,501.9v2M451.57,501.9v2M481.12,501.9v2M453.63,501.9v2M483.08,501.9v2M455.42,501.9v2M484.77,501.9v2M456.99,501.9v2M486.26,501.9v2M382.34,501.9v2M405.92,501.9v2M386.88,501.9v2M411.34,501.9v2M391.42,501.9v2M416.76,501.9v2M395.96,501.9v2M422.18,501.9v2M373.26,501.9v2" stroke="#222" stroke-width="0.6" fill="none"/>
<rect x="396.5" y="502.3" width="5.5" height="2" fill="#111"/>
<rect x="416.5" y="426.4" width="44.6" height="55.9" fill="none" stroke="#333" stroke-width="1"/>
<text x="452.8" y="422.2" font-size="10.8" text-anchor="start" fill="#333" stroke="#333" stroke-width="0.18">45.1%</text>
<line x1="568.9" y1="382.7" x2="568.9" y2="499.8" stroke="#222" stroke-width="1.1"/>
<line x1="568.4" y1="499.3" x2="685" y2="499.3" stroke="#222" stroke-width="1.1"/>
<line x1="566" y1="383.2" x2="568.9" y2="383.2" stroke="#222" stroke-width="1"/>
<text x="562.5" y="386.2" font-size="8.6" text-anchor="end" fill="#222" stroke="#222" stroke-width="0.14">80</text>
<line x1="566" y1="421.8" x2="568.9" y2="421.8" stroke="#222" stroke-width="1"/>
<text x="562.5" y="424.8" font-size="8.6" text-anchor="end" fill="#222" stroke="#222" stroke-width="0.14">60</text>
<line x1="566" y1="460.7" x2="568.9" y2="460.7" stroke="#222" stroke-width="1"/>
<text x="562.5" y="463.7" font-size="8.6" text-anchor="end" fill="#222" stroke="#222" stroke-width="0.14">40</text>
<line x1="566" y1="499.3" x2="568.9" y2="499.3" stroke="#222" stroke-width="1"/>
<text x="562.5" y="502.3" font-size="8.6" text-anchor="end" fill="#222" stroke="#222" stroke-width="0.14">20</text>
<line x1="591.8" y1="499.3" x2="591.8" y2="502" stroke="#222" stroke-width="1"/>
<line x1="627" y1="499.3" x2="627" y2="502" stroke="#222" stroke-width="1"/>
<line x1="661.5" y1="499.3" x2="661.5" y2="502" stroke="#222" stroke-width="1"/>
<text x="545.5" y="438.5" font-size="8.6" text-anchor="middle" fill="#222" stroke="#222" stroke-width="0.14" transform="rotate(-90 545.5 438.5)" textLength="62" lengthAdjust="spacingAndGlyphs">CD8<tspan font-size="5.5" dy="-3">+</tspan><tspan dy="3">T/CD3</tspan><tspan font-size="5.5" dy="-3">+</tspan><tspan dy="3"> (%)</tspan></text>
<circle cx="591.8" cy="446.7" r="2.6" fill="#d2503d"/>
<circle cx="583.2" cy="450.7" r="2.6" fill="#d2503d"/>
<circle cx="600.5" cy="450.7" r="2.6" fill="#d2503d"/>
<circle cx="591.8" cy="456" r="2.6" fill="#d2503d"/>
<circle cx="591.8" cy="467.7" r="2.6" fill="#d2503d"/>
<circle cx="591.8" cy="479" r="2.6" fill="#d2503d"/>
<circle cx="596.7" cy="451.3" r="2.6" fill="#d2503d"/>
<line x1="580.3" y1="460.4" x2="603.3" y2="460.4" stroke="#d2503d" stroke-width="1.2"/>
<line x1="591.8" y1="448" x2="591.8" y2="473.1" stroke="#d2503d" stroke-width="1.2"/>
<line x1="586.4" y1="448" x2="597.2" y2="448" stroke="#d2503d" stroke-width="1.2"/>
<line x1="586.4" y1="473.1" x2="597.2" y2="473.1" stroke="#d2503d" stroke-width="1.2"/>
<circle cx="617.5" cy="438" r="2.6" fill="#f0901c"/>
<circle cx="627" cy="440" r="2.6" fill="#f0901c"/>
<circle cx="635.6" cy="433.7" r="2.6" fill="#f0901c"/>
<circle cx="635.6" cy="440" r="2.6" fill="#f0901c"/>
<circle cx="621" cy="450.7" r="2.6" fill="#f0901c"/>
<circle cx="631" cy="454.2" r="2.6" fill="#f0901c"/>
<circle cx="622.3" cy="458" r="2.6" fill="#f0901c"/>
<line x1="615.5" y1="444.5" x2="638.5" y2="444.5" stroke="#f0901c" stroke-width="1.2"/>
<line x1="627" y1="435.3" x2="627" y2="453.4" stroke="#f0901c" stroke-width="1.2"/>
<line x1="621.6" y1="435.3" x2="632.4" y2="435.3" stroke="#f0901c" stroke-width="1.2"/>
<line x1="621.6" y1="453.4" x2="632.4" y2="453.4" stroke="#f0901c" stroke-width="1.2"/>
<circle cx="661.5" cy="416.4" r="2.6" fill="#5aaccb"/>
<circle cx="656.6" cy="438.6" r="2.6" fill="#5aaccb"/>
<circle cx="666" cy="435.3" r="2.6" fill="#5aaccb"/>
<circle cx="652.6" cy="446.7" r="2.6" fill="#5aaccb"/>
<circle cx="661.5" cy="447.2" r="2.6" fill="#5aaccb"/>
<circle cx="670.7" cy="448" r="2.6" fill="#5aaccb"/>
<circle cx="661.5" cy="455.3" r="2.6" fill="#5aaccb"/>
<line x1="651" y1="441.3" x2="672" y2="441.3" stroke="#5aaccb" stroke-width="1.2"/>
<line x1="661.5" y1="428.6" x2="661.5" y2="454.2" stroke="#5aaccb" stroke-width="1.2"/>
<line x1="656.5" y1="428.6" x2="666.5" y2="428.6" stroke="#5aaccb" stroke-width="1.2"/>
<line x1="656.5" y1="454.2" x2="666.5" y2="454.2" stroke="#5aaccb" stroke-width="1.2"/>
<line x1="590" y1="382.7" x2="658.5" y2="382.7" stroke="#6e6e6e" stroke-width="1.25"/>
<path d="M620.15,372.65L620.15,377.35M618.11,373.82L622.19,376.18M622.19,373.82L618.11,376.18" stroke="#111" stroke-width="1.35" stroke-linecap="round" fill="none"/>
<circle cx="620.15" cy="375" r="1.06" fill="#111"/>
<path d="M625.65,372.65L625.65,377.35M623.61,373.82L627.69,376.18M627.69,373.82L623.61,376.18" stroke="#111" stroke-width="1.35" stroke-linecap="round" fill="none"/>
<circle cx="625.65" cy="375" r="1.06" fill="#111"/>
<line x1="590" y1="403" x2="621" y2="403" stroke="#6e6e6e" stroke-width="1.25"/>
<path d="M605.9,393.65L605.9,398.35M603.86,394.82L607.94,397.18M607.94,394.82L603.86,397.18" stroke="#111" stroke-width="1.35" stroke-linecap="round" fill="none"/>
<circle cx="605.9" cy="396" r="1.06" fill="#111"/>
<line x1="627" y1="403" x2="658.5" y2="403" stroke="#6e6e6e" stroke-width="1.25"/>
<text x="641.8" y="399.6" font-size="8.6" text-anchor="middle" fill="#222" stroke="#222" stroke-width="0.14">ns</text>
<text x="593.6" y="510.2" font-size="9.2" text-anchor="end" fill="#222" stroke="#222" stroke-width="0.15" font-style="italic" transform="rotate(-45 593.6 510.2)" textLength="27.82" lengthAdjust="spacingAndGlyphs">E. coli</text>
<text x="629.6" y="510.2" font-size="9.2" text-anchor="end" fill="#222" stroke="#222" stroke-width="0.15" font-style="italic" transform="rotate(-45 629.6 510.2)" textLength="38.52" lengthAdjust="spacingAndGlyphs">L. m+L. j</text>
<text x="665.3" y="510.2" font-size="9.2" text-anchor="end" fill="#222" stroke="#222" stroke-width="0.15" font-style="italic" transform="rotate(-45 665.3 510.2)" textLength="13.91" lengthAdjust="spacingAndGlyphs">L. j</text>
</g>
<g>
<text x="8" y="550" font-size="16.5" fill="#111">f</text>
<path d="M23.18,618.02 L22.86,611.2 L25.27,604.9 L29.48,600.17 L33.67,598.08 L37.88,599.12 L41.55,602.27 L45.54,598.91 L45.75,603.33 L44.91,605.95 L46.59,610.15 L47.43,614.35 L48.27,616.66 L48.69,618.34 L47.33,618.87 L41.55,618.55 L38.92,619.6 L36.3,621.17 L32.62,621.28 L30.52,619.6 L26.85,618.87 L24.23,619.08 L21.6,620.65 L19.71,620.12 L21.39,618.02Z" fill="#3b3e3e" stroke="#3b3e3e" stroke-width="0.6" stroke-linejoin="round"/>
<line x1="46.8" y1="615.4" x2="52.05" y2="613.83" stroke="#c8c8c8" stroke-width="0.6"/>
<line x1="46.8" y1="615.92" x2="52.58" y2="616.45" stroke="#c8c8c8" stroke-width="0.6"/>
<line x1="37.35" y1="620.12" x2="39.45" y2="622.75" stroke="#c8c8c8" stroke-width="0.6"/>
<rect x="89" y="606.3" width="209.5" height="6" fill="#cf4a36"/>
<polygon points="298.5,604.1 307.8,609.3 298.5,614.5" fill="#cf4a36"/>
<rect x="89" y="589" width="3" height="23" fill="#000"/>
<rect x="291" y="589" width="2.6" height="23" fill="#000"/>
<line x1="100.5" y1="602.2" x2="93.2" y2="602.2" stroke="#222" stroke-width="0.7"/>
<polygon points="93.2,602.2 95.2,601 95.2,603.4" fill="#222"/>
<line x1="122.5" y1="602.2" x2="130.5" y2="602.2" stroke="#222" stroke-width="0.7"/>
<polygon points="130.5,602.2 128.5,601 128.5,603.4" fill="#222"/>
<text x="111.6" y="605" font-size="8.4" text-anchor="middle" fill="#222" stroke="#222" stroke-width="0.14" textLength="16" lengthAdjust="spacingAndGlyphs">ABX</text>
<rect x="132.8" y="601.7" width="2.4" height="9.8" fill="#9a9a9a"/>
<rect x="166.1" y="601.7" width="2.4" height="9.8" fill="#9a9a9a"/>
<line x1="167.4" y1="590" x2="167.4" y2="599.3" stroke="#222" stroke-width="0.7"/>
<polygon points="167.4,599.3 166.2,597.3 168.6,597.3" fill="#222"/>
<text x="82.4" y="612.3" font-size="9.2" text-anchor="end" fill="#222" stroke="#222" stroke-width="0.15" textLength="15" lengthAdjust="spacingAndGlyphs">93G</text>
<rect x="89" y="631" width="209.5" height="6" fill="#fb8500"/>
<polygon points="298.5,628.8 307.8,634 298.5,639.2" fill="#fb8500"/>
<rect x="89" y="613.5" width="3" height="23.5" fill="#000"/>
<rect x="291" y="613.5" width="2.6" height="23.5" fill="#000"/>
<line x1="100.5" y1="628.7" x2="93.2" y2="628.7" stroke="#222" stroke-width="0.7"/>
<polygon points="93.2,628.7 95.2,627.5 95.2,629.9" fill="#222"/>
<line x1="122.5" y1="628.7" x2="130.5" y2="628.7" stroke="#222" stroke-width="0.7"/>
<polygon points="130.5,628.7 128.5,627.5 128.5,629.9" fill="#222"/>
<text x="111.6" y="631.5" font-size="8.4" text-anchor="middle" fill="#222" stroke="#222" stroke-width="0.14" textLength="16" lengthAdjust="spacingAndGlyphs">ABX</text>
<rect x="132.8" y="626.4" width="2.4" height="9.8" fill="#9a9a9a"/>
<rect x="166.1" y="626.4" width="2.4" height="9.8" fill="#9a9a9a"/>
<line x1="167.4" y1="614.7" x2="167.4" y2="624" stroke="#222" stroke-width="0.7"/>
<polygon points="167.4,624 166.2,622 168.6,622" fill="#222"/>
<text x="82.4" y="637.5" font-size="9.2" text-anchor="end" fill="#222" stroke="#222" stroke-width="0.15" textLength="18" lengthAdjust="spacingAndGlyphs">FMD</text>
<rect x="89" y="656" width="209.5" height="6" fill="#58a9c4"/>
<polygon points="298.5,653.8 307.8,659 298.5,664.2" fill="#58a9c4"/>
<rect x="89" y="638.5" width="3" height="23.5" fill="#000"/>
<rect x="291" y="638.5" width="2.6" height="23.5" fill="#000"/>
<line x1="100.5" y1="652.7" x2="93.2" y2="652.7" stroke="#222" stroke-width="0.7"/>
<polygon points="93.2,652.7 95.2,651.5 95.2,653.9" fill="#222"/>
<line x1="122.5" y1="652.7" x2="130.5" y2="652.7" stroke="#222" stroke-width="0.7"/>
<polygon points="130.5,652.7 128.5,651.5 128.5,653.9" fill="#222"/>
<text x="111.6" y="655.5" font-size="8.4" text-anchor="middle" fill="#222" stroke="#222" stroke-width="0.14" textLength="16" lengthAdjust="spacingAndGlyphs">ABX</text>
<rect x="132.8" y="651.4" width="2.4" height="9.8" fill="#9a9a9a"/>
<rect x="166.1" y="651.4" width="2.4" height="9.8" fill="#9a9a9a"/>
<line x1="167.4" y1="639.7" x2="167.4" y2="649" stroke="#222" stroke-width="0.7"/>
<polygon points="167.4,649 166.2,647 168.6,647" fill="#222"/>
<text x="82.4" y="661.8" font-size="9.2" text-anchor="end" fill="#222" stroke="#222" stroke-width="0.15" font-style="italic" textLength="10.5" lengthAdjust="spacingAndGlyphs">L. j</text>
<rect x="89" y="681" width="209.5" height="6" fill="#0b8c86"/>
<polygon points="298.5,678.8 307.8,684 298.5,689.2" fill="#0b8c86"/>
<rect x="89" y="663.5" width="3" height="23.5" fill="#000"/>
<rect x="291" y="663.5" width="2.6" height="23.5" fill="#000"/>
<line x1="100.5" y1="677.7" x2="93.2" y2="677.7" stroke="#222" stroke-width="0.7"/>
<polygon points="93.2,677.7 95.2,676.5 95.2,678.9" fill="#222"/>
<line x1="122.5" y1="677.7" x2="130.5" y2="677.7" stroke="#222" stroke-width="0.7"/>
<polygon points="130.5,677.7 128.5,676.5 128.5,678.9" fill="#222"/>
<text x="111.6" y="680.5" font-size="8.4" text-anchor="middle" fill="#222" stroke="#222" stroke-width="0.14" textLength="16" lengthAdjust="spacingAndGlyphs">ABX</text>
<rect x="132.8" y="676.4" width="2.4" height="9.8" fill="#9a9a9a"/>
<rect x="166.1" y="676.4" width="2.4" height="9.8" fill="#9a9a9a"/>
<line x1="167.4" y1="664.7" x2="167.4" y2="674" stroke="#222" stroke-width="0.7"/>
<polygon points="167.4,674 166.2,672 168.6,672" fill="#222"/>
<text x="82" y="684.6" font-size="9.2" text-anchor="end" fill="#222" stroke="#222" stroke-width="0.15" font-style="italic" textLength="22.5" lengthAdjust="spacingAndGlyphs">E. coli</text>
<rect x="169.5" y="631.6" width="27.5" height="4.8" fill="#f5e60a"/>
<text x="183.25" y="637.3" font-size="7.6" text-anchor="middle" fill="#2a2200" stroke="#2a2200" stroke-width="0.13" textLength="17.5" lengthAdjust="spacingAndGlyphs">FMD</text>
<rect x="216.4" y="631.6" width="28.6" height="4.8" fill="#f5e60a"/>
<text x="230.7" y="637.3" font-size="7.6" text-anchor="middle" fill="#2a2200" stroke="#2a2200" stroke-width="0.13" textLength="17.5" lengthAdjust="spacingAndGlyphs">FMD</text>
<rect x="262" y="631.6" width="28.4" height="4.8" fill="#f5e60a"/>
<text x="276.2" y="637.3" font-size="7.6" text-anchor="middle" fill="#2a2200" stroke="#2a2200" stroke-width="0.13" textLength="17.5" lengthAdjust="spacingAndGlyphs">FMD</text>
<text x="168.3" y="575.6" font-size="9" text-anchor="middle" fill="#222" stroke="#222" stroke-width="0.15" textLength="43.4" lengthAdjust="spacingAndGlyphs">MC38 cells</text>
<text x="165.3" y="585.8" font-size="9" text-anchor="middle" fill="#222" stroke="#222" stroke-width="0.15" textLength="31.4" lengthAdjust="spacingAndGlyphs">Injection</text>
<text x="287.3" y="579.4" font-size="9" text-anchor="middle" fill="#222" stroke="#222" stroke-width="0.15" textLength="31.4" lengthAdjust="spacingAndGlyphs">Sacrifice</text>
<line x1="292.4" y1="580.2" x2="292.4" y2="585.5" stroke="#222" stroke-width="0.6"/>
<polygon points="292.4,585.5 291.44,583.9 293.36,583.9" fill="#222"/>
<text x="174.4" y="651.8" font-size="8.3" text-anchor="start" fill="#222" stroke="#222" stroke-width="0.14" textLength="63.2" lengthAdjust="spacingAndGlyphs">i.g.1X10<tspan font-size="5.5" dy="-3">8</tspan><tspan dy="3">CFU/day</tspan></text>
<line x1="162" y1="648.8" x2="135.6" y2="648.8" stroke="#444" stroke-width="0.8"/>
<polygon points="135.6,648.8 138,647.36 138,650.24" fill="#444"/>
<line x1="260" y1="648.6" x2="287" y2="648.6" stroke="#222" stroke-width="0.8"/>
<polygon points="287,648.6 284.6,647.16 284.6,650.04" fill="#222"/>
<text x="175.6" y="678.2" font-size="8.3" text-anchor="start" fill="#222" stroke="#222" stroke-width="0.14" textLength="62.4" lengthAdjust="spacingAndGlyphs">i.g.1X10<tspan font-size="5.5" dy="-3">9</tspan><tspan dy="3">CFU/day</tspan></text>
<line x1="162" y1="676.4" x2="135.6" y2="676.4" stroke="#222" stroke-width="0.8"/>
<polygon points="135.6,676.4 138,674.96 138,677.84" fill="#222"/>
<line x1="261" y1="676.4" x2="288" y2="676.4" stroke="#222" stroke-width="0.8"/>
<polygon points="288,676.4 285.6,674.96 285.6,677.84" fill="#222"/>
<text x="90.7" y="697" font-size="8.3" text-anchor="middle" fill="#222" stroke="#222" stroke-width="0.14">-14</text>
<text x="131.5" y="697" font-size="8.3" text-anchor="middle" fill="#222" stroke="#222" stroke-width="0.14">-7</text>
<text x="166.7" y="697" font-size="8.3" text-anchor="middle" fill="#222" stroke="#222" stroke-width="0.14">0</text>
<text x="191" y="697" font-size="8.3" text-anchor="middle" fill="#222" stroke="#222" stroke-width="0.14">4</text>
<text x="215" y="697" font-size="8.3" text-anchor="middle" fill="#222" stroke="#222" stroke-width="0.14">7</text>
<text x="239.6" y="697" font-size="8.3" text-anchor="middle" fill="#222" stroke="#222" stroke-width="0.14">11</text>
<text x="263" y="697" font-size="8.3" text-anchor="middle" fill="#222" stroke="#222" stroke-width="0.14">14</text>
<text x="287" y="697" font-size="8.3" text-anchor="middle" fill="#222" stroke="#222" stroke-width="0.14">18</text>
<text x="307" y="697" font-size="8.3" text-anchor="start" fill="#222" stroke="#222" stroke-width="0.14" textLength="18.6" lengthAdjust="spacingAndGlyphs">Days</text>
</g>
<g>
<text x="319" y="550.8" font-size="16.5" fill="#111">g</text>
<rect x="393.8" y="574" width="33.44" height="111" fill="#e6e6e6" stroke="#222" stroke-width="0.8" stroke-dasharray="1,1.2"/>
<text x="410.52" y="571.6" font-size="8.8" text-anchor="middle" fill="#222" stroke="#222" stroke-width="0.15" textLength="18" lengthAdjust="spacingAndGlyphs">FMD</text>
<rect x="452.32" y="574" width="33.44" height="111" fill="#e6e6e6" stroke="#222" stroke-width="0.8" stroke-dasharray="1,1.2"/>
<text x="469.04" y="571.6" font-size="8.8" text-anchor="middle" fill="#222" stroke="#222" stroke-width="0.15" textLength="18" lengthAdjust="spacingAndGlyphs">FMD</text>
<rect x="510.84" y="574" width="33.44" height="111" fill="#e6e6e6" stroke="#222" stroke-width="0.8" stroke-dasharray="1,1.2"/>
<text x="527.56" y="571.6" font-size="8.8" text-anchor="middle" fill="#222" stroke="#222" stroke-width="0.15" textLength="18" lengthAdjust="spacingAndGlyphs">FMD</text>
<line x1="393.8" y1="573.5" x2="393.8" y2="685.2" stroke="#222" stroke-width="1.1"/>
<line x1="393.3" y1="684.8" x2="560.9" y2="684.8" stroke="#222" stroke-width="1.1"/>
<line x1="391" y1="684" x2="393.8" y2="684" stroke="#222" stroke-width="1"/>
<text x="389.2" y="687.2" font-size="8.8" text-anchor="end" fill="#222" stroke="#222" stroke-width="0.15">18</text>
<line x1="391" y1="662" x2="393.8" y2="662" stroke="#222" stroke-width="1"/>
<text x="389.2" y="665.2" font-size="8.8" text-anchor="end" fill="#222" stroke="#222" stroke-width="0.15">20</text>
<line x1="391" y1="640" x2="393.8" y2="640" stroke="#222" stroke-width="1"/>
<text x="389.2" y="643.2" font-size="8.8" text-anchor="end" fill="#222" stroke="#222" stroke-width="0.15">22</text>
<line x1="391" y1="618" x2="393.8" y2="618" stroke="#222" stroke-width="1"/>
<text x="389.2" y="621.2" font-size="8.8" text-anchor="end" fill="#222" stroke="#222" stroke-width="0.15">24</text>
<line x1="391" y1="596" x2="393.8" y2="596" stroke="#222" stroke-width="1"/>
<text x="389.2" y="599.2" font-size="8.8" text-anchor="end" fill="#222" stroke="#222" stroke-width="0.15">26</text>
<line x1="391" y1="574" x2="393.8" y2="574" stroke="#222" stroke-width="1"/>
<text x="389.2" y="577.2" font-size="8.8" text-anchor="end" fill="#222" stroke="#222" stroke-width="0.15">28</text>
<line x1="393.8" y1="684.8" x2="393.8" y2="687.6" stroke="#222" stroke-width="0.9"/>
<line x1="402.16" y1="684.8" x2="402.16" y2="686.4" stroke="#222" stroke-width="0.9"/>
<line x1="410.52" y1="684.8" x2="410.52" y2="686.4" stroke="#222" stroke-width="0.9"/>
<line x1="418.88" y1="684.8" x2="418.88" y2="686.4" stroke="#222" stroke-width="0.9"/>
<line x1="427.24" y1="684.8" x2="427.24" y2="686.4" stroke="#222" stroke-width="0.9"/>
<line x1="435.6" y1="684.8" x2="435.6" y2="687.6" stroke="#222" stroke-width="0.9"/>
<line x1="443.96" y1="684.8" x2="443.96" y2="686.4" stroke="#222" stroke-width="0.9"/>
<line x1="452.32" y1="684.8" x2="452.32" y2="686.4" stroke="#222" stroke-width="0.9"/>
<line x1="460.68" y1="684.8" x2="460.68" y2="686.4" stroke="#222" stroke-width="0.9"/>
<line x1="469.04" y1="684.8" x2="469.04" y2="686.4" stroke="#222" stroke-width="0.9"/>
<line x1="477.4" y1="684.8" x2="477.4" y2="687.6" stroke="#222" stroke-width="0.9"/>
<line x1="485.76" y1="684.8" x2="485.76" y2="686.4" stroke="#222" stroke-width="0.9"/>
<line x1="494.12" y1="684.8" x2="494.12" y2="686.4" stroke="#222" stroke-width="0.9"/>
<line x1="502.48" y1="684.8" x2="502.48" y2="686.4" stroke="#222" stroke-width="0.9"/>
<line x1="510.84" y1="684.8" x2="510.84" y2="686.4" stroke="#222" stroke-width="0.9"/>
<line x1="519.2" y1="684.8" x2="519.2" y2="687.6" stroke="#222" stroke-width="0.9"/>
<line x1="527.56" y1="684.8" x2="527.56" y2="686.4" stroke="#222" stroke-width="0.9"/>
<line x1="535.92" y1="684.8" x2="535.92" y2="686.4" stroke="#222" stroke-width="0.9"/>
<line x1="544.28" y1="684.8" x2="544.28" y2="686.4" stroke="#222" stroke-width="0.9"/>
<line x1="552.64" y1="684.8" x2="552.64" y2="686.4" stroke="#222" stroke-width="0.9"/>
<line x1="561" y1="684.8" x2="561" y2="687.6" stroke="#222" stroke-width="0.9"/>
<text x="393.8" y="697.4" font-size="8.6" text-anchor="middle" fill="#222" stroke="#222" stroke-width="0.14">0</text>
<text x="435.6" y="697.4" font-size="8.6" text-anchor="middle" fill="#222" stroke="#222" stroke-width="0.14">5</text>
<text x="477.4" y="697.4" font-size="8.6" text-anchor="middle" fill="#222" stroke="#222" stroke-width="0.14">10</text>
<text x="519.2" y="697.4" font-size="8.6" text-anchor="middle" fill="#222" stroke="#222" stroke-width="0.14">15</text>
<text x="561" y="697.4" font-size="8.6" text-anchor="middle" fill="#222" stroke="#222" stroke-width="0.14">20</text>
<text x="474.5" y="709.5" font-size="8.6" text-anchor="middle" fill="#222" stroke="#222" stroke-width="0.14">Days</text>
<text x="370.5" y="635" font-size="8.8" text-anchor="middle" fill="#222" stroke="#222" stroke-width="0.15" transform="rotate(-90 370.5 635)" textLength="36" lengthAdjust="spacingAndGlyphs">Weight(g)</text>
<line x1="393.8" y1="622.4" x2="393.8" y2="607" stroke="#f0901c" stroke-width="1"/>
<line x1="391" y1="607" x2="396.6" y2="607" stroke="#f0901c" stroke-width="1"/>
<line x1="410.52" y1="638.9" x2="410.52" y2="622.4" stroke="#f0901c" stroke-width="1"/>
<line x1="407.72" y1="622.4" x2="413.32" y2="622.4" stroke="#f0901c" stroke-width="1"/>
<line x1="427.24" y1="668.6" x2="427.24" y2="656.5" stroke="#f0901c" stroke-width="1"/>
<line x1="424.44" y1="656.5" x2="430.04" y2="656.5" stroke="#f0901c" stroke-width="1"/>
<line x1="452.32" y1="623.5" x2="452.32" y2="614.7" stroke="#f0901c" stroke-width="1"/>
<line x1="449.52" y1="614.7" x2="455.12" y2="614.7" stroke="#f0901c" stroke-width="1"/>
<line x1="469.04" y1="647.7" x2="469.04" y2="636.15" stroke="#f0901c" stroke-width="1"/>
<line x1="466.24" y1="636.15" x2="471.84" y2="636.15" stroke="#f0901c" stroke-width="1"/>
<line x1="485.76" y1="669.7" x2="485.76" y2="659.8" stroke="#f0901c" stroke-width="1"/>
<line x1="482.96" y1="659.8" x2="488.56" y2="659.8" stroke="#f0901c" stroke-width="1"/>
<line x1="510.84" y1="617.45" x2="510.84" y2="603.7" stroke="#f0901c" stroke-width="1"/>
<line x1="508.04" y1="603.7" x2="513.64" y2="603.7" stroke="#f0901c" stroke-width="1"/>
<line x1="527.56" y1="638.9" x2="527.56" y2="615.8" stroke="#f0901c" stroke-width="1"/>
<line x1="524.76" y1="615.8" x2="530.36" y2="615.8" stroke="#f0901c" stroke-width="1"/>
<line x1="544.28" y1="657.6" x2="544.28" y2="644.4" stroke="#f0901c" stroke-width="1"/>
<line x1="541.48" y1="644.4" x2="547.08" y2="644.4" stroke="#f0901c" stroke-width="1"/>
<line x1="393.8" y1="633.4" x2="393.8" y2="623.5" stroke="#1f9a86" stroke-width="1"/>
<line x1="391" y1="623.5" x2="396.6" y2="623.5" stroke="#1f9a86" stroke-width="1"/>
<line x1="410.52" y1="632.3" x2="410.52" y2="623.5" stroke="#1f9a86" stroke-width="1"/>
<line x1="407.72" y1="623.5" x2="413.32" y2="623.5" stroke="#1f9a86" stroke-width="1"/>
<line x1="427.24" y1="636.7" x2="427.24" y2="629" stroke="#1f9a86" stroke-width="1"/>
<line x1="424.44" y1="629" x2="430.04" y2="629" stroke="#1f9a86" stroke-width="1"/>
<line x1="452.32" y1="631.2" x2="452.32" y2="623.5" stroke="#1f9a86" stroke-width="1"/>
<line x1="449.52" y1="623.5" x2="455.12" y2="623.5" stroke="#1f9a86" stroke-width="1"/>
<line x1="469.04" y1="626.8" x2="469.04" y2="616.9" stroke="#1f9a86" stroke-width="1"/>
<line x1="466.24" y1="616.9" x2="471.84" y2="616.9" stroke="#1f9a86" stroke-width="1"/>
<line x1="485.76" y1="628.45" x2="485.76" y2="619.1" stroke="#1f9a86" stroke-width="1"/>
<line x1="482.96" y1="619.1" x2="488.56" y2="619.1" stroke="#1f9a86" stroke-width="1"/>
<line x1="510.84" y1="624.05" x2="510.84" y2="614.7" stroke="#1f9a86" stroke-width="1"/>
<line x1="508.04" y1="614.7" x2="513.64" y2="614.7" stroke="#1f9a86" stroke-width="1"/>
<line x1="527.56" y1="622.95" x2="527.56" y2="610.3" stroke="#1f9a86" stroke-width="1"/>
<line x1="524.76" y1="610.3" x2="530.36" y2="610.3" stroke="#1f9a86" stroke-width="1"/>
<line x1="544.28" y1="625.7" x2="544.28" y2="612.5" stroke="#1f9a86" stroke-width="1"/>
<line x1="541.48" y1="612.5" x2="547.08" y2="612.5" stroke="#1f9a86" stroke-width="1"/>
<line x1="393.8" y1="629" x2="393.8" y2="616.9" stroke="#5aaccb" stroke-width="1"/>
<line x1="391" y1="616.9" x2="396.6" y2="616.9" stroke="#5aaccb" stroke-width="1"/>
<line x1="410.52" y1="626.8" x2="410.52" y2="622.4" stroke="#5aaccb" stroke-width="1"/>
<line x1="407.72" y1="622.4" x2="413.32" y2="622.4" stroke="#5aaccb" stroke-width="1"/>
<line x1="427.24" y1="626.8" x2="427.24" y2="623.5" stroke="#5aaccb" stroke-width="1"/>
<line x1="424.44" y1="623.5" x2="430.04" y2="623.5" stroke="#5aaccb" stroke-width="1"/>
<line x1="452.32" y1="624.6" x2="452.32" y2="621.3" stroke="#5aaccb" stroke-width="1"/>
<line x1="449.52" y1="621.3" x2="455.12" y2="621.3" stroke="#5aaccb" stroke-width="1"/>
<line x1="469.04" y1="625.7" x2="469.04" y2="609.2" stroke="#5aaccb" stroke-width="1"/>
<line x1="466.24" y1="609.2" x2="471.84" y2="609.2" stroke="#5aaccb" stroke-width="1"/>
<line x1="485.76" y1="620.2" x2="485.76" y2="603.7" stroke="#5aaccb" stroke-width="1"/>
<line x1="482.96" y1="603.7" x2="488.56" y2="603.7" stroke="#5aaccb" stroke-width="1"/>
<line x1="510.84" y1="618" x2="510.84" y2="611.4" stroke="#5aaccb" stroke-width="1"/>
<line x1="508.04" y1="611.4" x2="513.64" y2="611.4" stroke="#5aaccb" stroke-width="1"/>
<line x1="527.56" y1="614.7" x2="527.56" y2="599.3" stroke="#5aaccb" stroke-width="1"/>
<line x1="524.76" y1="599.3" x2="530.36" y2="599.3" stroke="#5aaccb" stroke-width="1"/>
<line x1="544.28" y1="615.8" x2="544.28" y2="607" stroke="#5aaccb" stroke-width="1"/>
<line x1="541.48" y1="607" x2="547.08" y2="607" stroke="#5aaccb" stroke-width="1"/>
<line x1="393.8" y1="630.43" x2="393.8" y2="616.9" stroke="#c4432f" stroke-width="1"/>
<line x1="391" y1="616.9" x2="396.6" y2="616.9" stroke="#c4432f" stroke-width="1"/>
<line x1="410.52" y1="629" x2="410.52" y2="613.05" stroke="#c4432f" stroke-width="1"/>
<line x1="407.72" y1="613.05" x2="413.32" y2="613.05" stroke="#c4432f" stroke-width="1"/>
<line x1="427.24" y1="629.55" x2="427.24" y2="614.7" stroke="#c4432f" stroke-width="1"/>
<line x1="424.44" y1="614.7" x2="430.04" y2="614.7" stroke="#c4432f" stroke-width="1"/>
<line x1="452.32" y1="626.8" x2="452.32" y2="611.4" stroke="#c4432f" stroke-width="1"/>
<line x1="449.52" y1="611.4" x2="455.12" y2="611.4" stroke="#c4432f" stroke-width="1"/>
<line x1="469.04" y1="628.45" x2="469.04" y2="612.5" stroke="#c4432f" stroke-width="1"/>
<line x1="466.24" y1="612.5" x2="471.84" y2="612.5" stroke="#c4432f" stroke-width="1"/>
<line x1="485.76" y1="616.9" x2="485.76" y2="599.3" stroke="#c4432f" stroke-width="1"/>
<line x1="482.96" y1="599.3" x2="488.56" y2="599.3" stroke="#c4432f" stroke-width="1"/>
<line x1="510.84" y1="617.45" x2="510.84" y2="601.5" stroke="#c4432f" stroke-width="1"/>
<line x1="508.04" y1="601.5" x2="513.64" y2="601.5" stroke="#c4432f" stroke-width="1"/>
<line x1="527.56" y1="616.9" x2="527.56" y2="602.6" stroke="#c4432f" stroke-width="1"/>
<line x1="524.76" y1="602.6" x2="530.36" y2="602.6" stroke="#c4432f" stroke-width="1"/>
<line x1="544.28" y1="613.6" x2="544.28" y2="598.2" stroke="#c4432f" stroke-width="1"/>
<line x1="541.48" y1="598.2" x2="547.08" y2="598.2" stroke="#c4432f" stroke-width="1"/>
<polyline points="393.8,622.4 410.52,638.9 427.24,668.6 452.32,623.5 469.04,647.7 485.76,669.7 510.84,617.45 527.56,638.9 544.28,657.6" fill="none" stroke="#f0901c" stroke-width="1.2"/>
<polygon points="393.8,619.41 390.94,624.35 396.66,624.35" fill="#f0901c"/>
<polygon points="410.52,635.91 407.66,640.85 413.38,640.85" fill="#f0901c"/>
<polygon points="427.24,665.61 424.38,670.55 430.1,670.55" fill="#f0901c"/>
<polygon points="452.32,620.51 449.46,625.45 455.18,625.45" fill="#f0901c"/>
<polygon points="469.04,644.71 466.18,649.65 471.9,649.65" fill="#f0901c"/>
<polygon points="485.76,666.71 482.9,671.65 488.62,671.65" fill="#f0901c"/>
<polygon points="510.84,614.46 507.98,619.4 513.7,619.4" fill="#f0901c"/>
<polygon points="527.56,635.91 524.7,640.85 530.42,640.85" fill="#f0901c"/>
<polygon points="544.28,654.61 541.42,659.55 547.14,659.55" fill="#f0901c"/>
<polyline points="393.8,633.4 410.52,632.3 427.24,636.7 452.32,631.2 469.04,626.8 485.76,628.45 510.84,624.05 527.56,622.95 544.28,625.7" fill="none" stroke="#1f9a86" stroke-width="1.2"/>
<circle cx="393.8" cy="633.4" r="2.6" fill="#1f9a86"/>
<circle cx="410.52" cy="632.3" r="2.6" fill="#1f9a86"/>
<circle cx="427.24" cy="636.7" r="2.6" fill="#1f9a86"/>
<circle cx="452.32" cy="631.2" r="2.6" fill="#1f9a86"/>
<circle cx="469.04" cy="626.8" r="2.6" fill="#1f9a86"/>
<circle cx="485.76" cy="628.45" r="2.6" fill="#1f9a86"/>
<circle cx="510.84" cy="624.05" r="2.6" fill="#1f9a86"/>
<circle cx="527.56" cy="622.95" r="2.6" fill="#1f9a86"/>
<circle cx="544.28" cy="625.7" r="2.6" fill="#1f9a86"/>
<polyline points="393.8,629 410.52,626.8 427.24,626.8 452.32,624.6 469.04,625.7 485.76,620.2 510.84,618 527.56,614.7 544.28,615.8" fill="none" stroke="#5aaccb" stroke-width="1.2"/>
<polygon points="393.8,631.99 390.94,627.05 396.66,627.05" fill="#5aaccb"/>
<polygon points="410.52,629.79 407.66,624.85 413.38,624.85" fill="#5aaccb"/>
<polygon points="427.24,629.79 424.38,624.85 430.1,624.85" fill="#5aaccb"/>
<polygon points="452.32,627.59 449.46,622.65 455.18,622.65" fill="#5aaccb"/>
<polygon points="469.04,628.69 466.18,623.75 471.9,623.75" fill="#5aaccb"/>
<polygon points="485.76,623.19 482.9,618.25 488.62,618.25" fill="#5aaccb"/>
<polygon points="510.84,620.99 507.98,616.05 513.7,616.05" fill="#5aaccb"/>
<polygon points="527.56,617.69 524.7,612.75 530.42,612.75" fill="#5aaccb"/>
<polygon points="544.28,618.79 541.42,613.85 547.14,613.85" fill="#5aaccb"/>
<polyline points="393.8,630.43 410.52,629 427.24,629.55 452.32,626.8 469.04,628.45 485.76,616.9 510.84,617.45 527.56,616.9 544.28,613.6" fill="none" stroke="#c4432f" stroke-width="1.2"/>
<rect x="391.2" y="627.83" width="5.2" height="5.2" fill="#c4432f"/>
<rect x="407.92" y="626.4" width="5.2" height="5.2" fill="#c4432f"/>
<rect x="424.64" y="626.95" width="5.2" height="5.2" fill="#c4432f"/>
<rect x="449.72" y="624.2" width="5.2" height="5.2" fill="#c4432f"/>
<rect x="466.44" y="625.85" width="5.2" height="5.2" fill="#c4432f"/>
<rect x="483.16" y="614.3" width="5.2" height="5.2" fill="#c4432f"/>
<rect x="508.24" y="614.85" width="5.2" height="5.2" fill="#c4432f"/>
<rect x="524.96" y="614.3" width="5.2" height="5.2" fill="#c4432f"/>
<rect x="541.68" y="611" width="5.2" height="5.2" fill="#c4432f"/>
<line x1="565" y1="602.4" x2="582.4" y2="602.4" stroke="#c4432f" stroke-width="1.3"/>
<rect x="570.9" y="599.7" width="5.4" height="5.4" fill="#c4432f"/>
<text x="588.4" y="605.7" font-size="9.2" text-anchor="start" fill="#222" stroke="#222" stroke-width="0.15" textLength="16" lengthAdjust="spacingAndGlyphs">93G</text>
<line x1="565" y1="621.6" x2="582.4" y2="621.6" stroke="#f0901c" stroke-width="1.3"/>
<polygon points="573.6,618.5 570.63,623.62 576.57,623.62" fill="#f0901c"/>
<text x="588.4" y="624.9" font-size="9.2" text-anchor="start" fill="#222" stroke="#222" stroke-width="0.15" textLength="18.6" lengthAdjust="spacingAndGlyphs">FMD</text>
<line x1="565" y1="640.4" x2="582.4" y2="640.4" stroke="#5aaccb" stroke-width="1.3"/>
<polygon points="573.6,643.5 570.63,638.38 576.57,638.38" fill="#5aaccb"/>
<text x="588.4" y="643.7" font-size="9.2" text-anchor="start" fill="#222" stroke="#222" stroke-width="0.15" font-style="italic" textLength="11.6" lengthAdjust="spacingAndGlyphs">L. j</text>
<line x1="565" y1="660" x2="582.4" y2="660" stroke="#1f9a86" stroke-width="1.3"/>
<circle cx="573.6" cy="660" r="2.7" fill="#1f9a86"/>
<text x="588.4" y="663.3" font-size="9.2" text-anchor="start" fill="#222" stroke="#222" stroke-width="0.15" font-style="italic" textLength="14" lengthAdjust="spacingAndGlyphs">E. c</text>
</g>
<g>
<text x="4" y="743" font-size="16.5" fill="#111">h</text>
<line x1="45" y1="774" x2="45" y2="888.1" stroke="#222" stroke-width="1.1"/>
<line x1="44.5" y1="887.6" x2="157.9" y2="887.6" stroke="#222" stroke-width="1.1"/>
<line x1="42.2" y1="887.6" x2="45" y2="887.6" stroke="#222" stroke-width="1"/>
<text x="39" y="890.7" font-size="8.6" text-anchor="end" fill="#222" stroke="#222" stroke-width="0.14">0</text>
<line x1="42.2" y1="859.4" x2="45" y2="859.4" stroke="#222" stroke-width="1"/>
<text x="39" y="862.5" font-size="8.6" text-anchor="end" fill="#222" stroke="#222" stroke-width="0.14">200</text>
<line x1="42.2" y1="831.2" x2="45" y2="831.2" stroke="#222" stroke-width="1"/>
<text x="39" y="834.3" font-size="8.6" text-anchor="end" fill="#222" stroke="#222" stroke-width="0.14">400</text>
<line x1="42.2" y1="803" x2="45" y2="803" stroke="#222" stroke-width="1"/>
<text x="39" y="806.1" font-size="8.6" text-anchor="end" fill="#222" stroke="#222" stroke-width="0.14">600</text>
<line x1="42.2" y1="774.8" x2="45" y2="774.8" stroke="#222" stroke-width="1"/>
<text x="39" y="777.9" font-size="8.6" text-anchor="end" fill="#222" stroke="#222" stroke-width="0.14">800</text>
<line x1="44.8" y1="887.6" x2="44.8" y2="890.4" stroke="#222" stroke-width="1"/>
<text x="44.8" y="901.5" font-size="8.6" text-anchor="middle" fill="#222" stroke="#222" stroke-width="0.14">0</text>
<line x1="73.05" y1="887.6" x2="73.05" y2="890.4" stroke="#222" stroke-width="1"/>
<text x="73.05" y="901.5" font-size="8.6" text-anchor="middle" fill="#222" stroke="#222" stroke-width="0.14">5</text>
<line x1="101.3" y1="887.6" x2="101.3" y2="890.4" stroke="#222" stroke-width="1"/>
<text x="101.3" y="901.5" font-size="8.6" text-anchor="middle" fill="#222" stroke="#222" stroke-width="0.14">10</text>
<line x1="129.55" y1="887.6" x2="129.55" y2="890.4" stroke="#222" stroke-width="1"/>
<text x="129.55" y="901.5" font-size="8.6" text-anchor="middle" fill="#222" stroke="#222" stroke-width="0.14">15</text>
<line x1="157.8" y1="887.6" x2="157.8" y2="890.4" stroke="#222" stroke-width="1"/>
<text x="157.8" y="901.5" font-size="8.6" text-anchor="middle" fill="#222" stroke="#222" stroke-width="0.14">20</text>
<text x="105.8" y="916" font-size="8.6" text-anchor="middle" fill="#222" stroke="#222" stroke-width="0.14">Days</text>
<text x="17.5" y="832" font-size="8.6" text-anchor="middle" fill="#222" stroke="#222" stroke-width="0.14" transform="rotate(-90 17.5 832)" textLength="76" lengthAdjust="spacingAndGlyphs">Tumor volume (mm<tspan font-size="5.5" dy="-3">3</tspan><tspan dy="3">)</tspan></text>
<line x1="78.7" y1="875.19" x2="78.7" y2="872.09" stroke="#f0901c" stroke-width="1"/>
<line x1="75.9" y1="872.09" x2="81.5" y2="872.09" stroke="#f0901c" stroke-width="1"/>
<line x1="95.65" y1="873.5" x2="95.65" y2="871.81" stroke="#f0901c" stroke-width="1"/>
<line x1="92.85" y1="871.81" x2="98.45" y2="871.81" stroke="#f0901c" stroke-width="1"/>
<line x1="112.6" y1="865.04" x2="112.6" y2="861.51" stroke="#f0901c" stroke-width="1"/>
<line x1="109.8" y1="861.51" x2="115.4" y2="861.51" stroke="#f0901c" stroke-width="1"/>
<line x1="129.55" y1="859.4" x2="129.55" y2="846.71" stroke="#f0901c" stroke-width="1"/>
<line x1="126.75" y1="846.71" x2="132.35" y2="846.71" stroke="#f0901c" stroke-width="1"/>
<line x1="146.5" y1="850.94" x2="146.5" y2="834.02" stroke="#f0901c" stroke-width="1"/>
<line x1="143.7" y1="834.02" x2="149.3" y2="834.02" stroke="#f0901c" stroke-width="1"/>
<line x1="78.7" y1="870.96" x2="78.7" y2="862.64" stroke="#5aaccb" stroke-width="1"/>
<line x1="75.9" y1="862.64" x2="81.5" y2="862.64" stroke="#5aaccb" stroke-width="1"/>
<line x1="95.65" y1="867.86" x2="95.65" y2="860.81" stroke="#5aaccb" stroke-width="1"/>
<line x1="92.85" y1="860.81" x2="98.45" y2="860.81" stroke="#5aaccb" stroke-width="1"/>
<line x1="112.6" y1="861.66" x2="112.6" y2="857.71" stroke="#5aaccb" stroke-width="1"/>
<line x1="109.8" y1="857.71" x2="115.4" y2="857.71" stroke="#5aaccb" stroke-width="1"/>
<line x1="129.55" y1="854.32" x2="129.55" y2="845.3" stroke="#5aaccb" stroke-width="1"/>
<line x1="126.75" y1="845.3" x2="132.35" y2="845.3" stroke="#5aaccb" stroke-width="1"/>
<line x1="146.5" y1="839.94" x2="146.5" y2="822.46" stroke="#5aaccb" stroke-width="1"/>
<line x1="143.7" y1="822.46" x2="149.3" y2="822.46" stroke="#5aaccb" stroke-width="1"/>
<line x1="78.7" y1="875.19" x2="78.7" y2="873.5" stroke="#1f9a86" stroke-width="1"/>
<line x1="75.9" y1="873.5" x2="81.5" y2="873.5" stroke="#1f9a86" stroke-width="1"/>
<line x1="95.65" y1="867.01" x2="95.65" y2="860.53" stroke="#1f9a86" stroke-width="1"/>
<line x1="92.85" y1="860.53" x2="98.45" y2="860.53" stroke="#1f9a86" stroke-width="1"/>
<line x1="112.6" y1="856.3" x2="112.6" y2="850.66" stroke="#1f9a86" stroke-width="1"/>
<line x1="109.8" y1="850.66" x2="115.4" y2="850.66" stroke="#1f9a86" stroke-width="1"/>
<line x1="129.55" y1="843.61" x2="129.55" y2="830.5" stroke="#1f9a86" stroke-width="1"/>
<line x1="126.75" y1="830.5" x2="132.35" y2="830.5" stroke="#1f9a86" stroke-width="1"/>
<line x1="146.5" y1="813.58" x2="146.5" y2="784.95" stroke="#1f9a86" stroke-width="1"/>
<line x1="143.7" y1="784.95" x2="149.3" y2="784.95" stroke="#1f9a86" stroke-width="1"/>
<line x1="78.7" y1="874.91" x2="78.7" y2="872.8" stroke="#cc4832" stroke-width="1"/>
<line x1="75.9" y1="872.8" x2="81.5" y2="872.8" stroke="#cc4832" stroke-width="1"/>
<line x1="95.65" y1="866.73" x2="95.65" y2="862.5" stroke="#cc4832" stroke-width="1"/>
<line x1="92.85" y1="862.5" x2="98.45" y2="862.5" stroke="#cc4832" stroke-width="1"/>
<line x1="112.6" y1="855.59" x2="112.6" y2="846.71" stroke="#cc4832" stroke-width="1"/>
<line x1="109.8" y1="846.71" x2="115.4" y2="846.71" stroke="#cc4832" stroke-width="1"/>
<line x1="129.55" y1="840.65" x2="129.55" y2="829.51" stroke="#cc4832" stroke-width="1"/>
<line x1="126.75" y1="829.51" x2="132.35" y2="829.51" stroke="#cc4832" stroke-width="1"/>
<line x1="146.5" y1="811.6" x2="146.5" y2="796.65" stroke="#cc4832" stroke-width="1"/>
<line x1="143.7" y1="796.65" x2="149.3" y2="796.65" stroke="#cc4832" stroke-width="1"/>
<polyline points="44.8,887.6 78.7,875.19 95.65,873.5 112.6,865.04 129.55,859.4 146.5,850.94" fill="none" stroke="#f0901c" stroke-width="1.1"/>
<polygon points="44.8,884.73 42.05,889.48 47.55,889.48" fill="#f0901c"/>
<polygon points="78.7,872.32 75.95,877.07 81.45,877.07" fill="#f0901c"/>
<polygon points="95.65,870.62 92.9,875.38 98.4,875.38" fill="#f0901c"/>
<polygon points="112.6,862.17 109.85,866.92 115.35,866.92" fill="#f0901c"/>
<polygon points="129.55,856.52 126.8,861.27 132.3,861.27" fill="#f0901c"/>
<polygon points="146.5,848.07 143.75,852.82 149.25,852.82" fill="#f0901c"/>
<polyline points="44.8,887.6 78.7,870.96 95.65,867.86 112.6,861.66 129.55,854.32 146.5,839.94" fill="none" stroke="#5aaccb" stroke-width="1.1"/>
<polygon points="44.8,890.48 42.05,885.73 47.55,885.73" fill="#5aaccb"/>
<polygon points="78.7,873.84 75.95,869.09 81.45,869.09" fill="#5aaccb"/>
<polygon points="95.65,870.74 92.9,865.99 98.4,865.99" fill="#5aaccb"/>
<polygon points="112.6,864.53 109.85,859.78 115.35,859.78" fill="#5aaccb"/>
<polygon points="129.55,857.2 126.8,852.45 132.3,852.45" fill="#5aaccb"/>
<polygon points="146.5,842.82 143.75,838.07 149.25,838.07" fill="#5aaccb"/>
<polyline points="44.8,887.6 78.7,875.19 95.65,867.01 112.6,856.3 129.55,843.61 146.5,813.58" fill="none" stroke="#1f9a86" stroke-width="1.1"/>
<circle cx="44.8" cy="887.6" r="2.5" fill="#1f9a86"/>
<circle cx="78.7" cy="875.19" r="2.5" fill="#1f9a86"/>
<circle cx="95.65" cy="867.01" r="2.5" fill="#1f9a86"/>
<circle cx="112.6" cy="856.3" r="2.5" fill="#1f9a86"/>
<circle cx="129.55" cy="843.61" r="2.5" fill="#1f9a86"/>
<circle cx="146.5" cy="813.58" r="2.5" fill="#1f9a86"/>
<polyline points="44.8,887.6 78.7,874.91 95.65,866.73 112.6,855.59 129.55,840.65 146.5,811.6" fill="none" stroke="#cc4832" stroke-width="1.1"/>
<rect x="42" y="884.8" width="5.6" height="5.6" fill="#cc4832"/>
<rect x="75.9" y="872.11" width="5.6" height="5.6" fill="#cc4832"/>
<rect x="92.85" y="863.93" width="5.6" height="5.6" fill="#cc4832"/>
<rect x="109.8" y="852.79" width="5.6" height="5.6" fill="#cc4832"/>
<rect x="126.75" y="837.85" width="5.6" height="5.6" fill="#cc4832"/>
<rect x="143.7" y="808.8" width="5.6" height="5.6" fill="#cc4832"/>
<path d="M130,821.2L130,826M127.92,822.4L132.08,824.8M132.08,822.4L127.92,824.8" stroke="#f0901c" stroke-width="1.3" stroke-linecap="round" fill="none"/>
<circle cx="130" cy="823.6" r="1.08" fill="#f0901c"/>
<line x1="59" y1="770" x2="77" y2="770" stroke="#cc4832" stroke-width="1.3"/>
<rect x="65.3" y="767.3" width="5.4" height="5.4" fill="#cc4832"/>
<text x="82" y="773.3" font-size="9.2" text-anchor="start" fill="#222" stroke="#222" stroke-width="0.15" textLength="16" lengthAdjust="spacingAndGlyphs">93G</text>
<line x1="59" y1="789.6" x2="77" y2="789.6" stroke="#f0901c" stroke-width="1.3"/>
<polygon points="68,786.5 65.03,791.62 70.97,791.62" fill="#f0901c"/>
<text x="82" y="792.9" font-size="9.2" text-anchor="start" fill="#222" stroke="#222" stroke-width="0.15" textLength="18.6" lengthAdjust="spacingAndGlyphs">FMD</text>
<line x1="59" y1="809" x2="77" y2="809" stroke="#5aaccb" stroke-width="1.3"/>
<polygon points="68,812.11 65.03,806.98 70.97,806.98" fill="#5aaccb"/>
<text x="82" y="812.3" font-size="9.2" text-anchor="start" fill="#222" stroke="#222" stroke-width="0.15" font-style="italic" textLength="11" lengthAdjust="spacingAndGlyphs">L. j</text>
<line x1="59" y1="829" x2="77" y2="829" stroke="#1f9a86" stroke-width="1.3"/>
<circle cx="68" cy="829" r="2.7" fill="#1f9a86"/>
<text x="82" y="832.3" font-size="9.2" text-anchor="start" fill="#222" stroke="#222" stroke-width="0.15" font-style="italic" textLength="22.5" lengthAdjust="spacingAndGlyphs">E. coli</text>
<line x1="158.4" y1="808.6" x2="158.4" y2="824" stroke="#1f9a86" stroke-width="1"/>
<line x1="158.4" y1="824" x2="158.4" y2="840.4" stroke="#5aaccb" stroke-width="1"/>
<line x1="155.8" y1="808.6" x2="158.4" y2="808.6" stroke="#1f9a86" stroke-width="1"/>
<line x1="155.8" y1="840.4" x2="158.4" y2="840.4" stroke="#5aaccb" stroke-width="1"/>
<path d="M162,822L162,826.8M159.92,823.2L164.08,825.6M164.08,823.2L159.92,825.6" stroke="#1f9a86" stroke-width="1.3" stroke-linecap="round" fill="none"/>
<circle cx="162" cy="824.4" r="1.08" fill="#1f9a86"/>
<line x1="167.6" y1="808.6" x2="167.6" y2="824" stroke="#d93a4e" stroke-width="1"/>
<line x1="167.6" y1="824" x2="167.6" y2="840.4" stroke="#5aaccb" stroke-width="1"/>
<line x1="165" y1="808.6" x2="167.6" y2="808.6" stroke="#d93a4e" stroke-width="1"/>
<line x1="165" y1="840.4" x2="167.6" y2="840.4" stroke="#5aaccb" stroke-width="1"/>
<path d="M171.6,819.7L171.6,824.3M169.61,820.85L173.59,823.15M173.59,820.85L169.61,823.15" stroke="#5aaccb" stroke-width="1.2" stroke-linecap="round" fill="none"/>
<circle cx="171.6" cy="822" r="1.03" fill="#5aaccb"/>
<path d="M171.6,825.3L171.6,829.9M169.61,826.45L173.59,828.75M173.59,826.45L169.61,828.75" stroke="#5aaccb" stroke-width="1.2" stroke-linecap="round" fill="none"/>
<circle cx="171.6" cy="827.6" r="1.03" fill="#5aaccb"/>
<line x1="178.8" y1="808.6" x2="178.8" y2="829" stroke="#d93a4e" stroke-width="1"/>
<line x1="178.8" y1="829" x2="178.8" y2="850.4" stroke="#f5b73a" stroke-width="1"/>
<line x1="176.2" y1="808.6" x2="178.8" y2="808.6" stroke="#d93a4e" stroke-width="1"/>
<line x1="176.2" y1="850.4" x2="178.8" y2="850.4" stroke="#f5b73a" stroke-width="1"/>
<path d="M184,823.7L184,828.3M182.01,824.85L185.99,827.15M185.99,824.85L182.01,827.15" stroke="#f0901c" stroke-width="1.2" stroke-linecap="round" fill="none"/>
<circle cx="184" cy="826" r="1.03" fill="#f0901c"/>
<path d="M184,829.3L184,833.9M182.01,830.45L185.99,832.75M185.99,830.45L182.01,832.75" stroke="#f0901c" stroke-width="1.2" stroke-linecap="round" fill="none"/>
<circle cx="184" cy="831.6" r="1.03" fill="#f0901c"/>
</g>
<g>
<text x="205.5" y="743.6" font-size="16.5" fill="#111">i</text>
<line x1="234.2" y1="777.2" x2="234.2" y2="891.3" stroke="#222" stroke-width="1.1"/>
<line x1="233.7" y1="890.8" x2="348.4" y2="890.8" stroke="#222" stroke-width="1.1"/>
<line x1="231.4" y1="890.8" x2="234.2" y2="890.8" stroke="#222" stroke-width="1"/>
<text x="228.5" y="893.9" font-size="8.6" text-anchor="end" fill="#222" stroke="#222" stroke-width="0.14">0</text>
<line x1="231.4" y1="868.15" x2="234.2" y2="868.15" stroke="#222" stroke-width="1"/>
<text x="228.5" y="871.25" font-size="8.6" text-anchor="end" fill="#222" stroke="#222" stroke-width="0.14">200</text>
<line x1="231.4" y1="845.5" x2="234.2" y2="845.5" stroke="#222" stroke-width="1"/>
<text x="228.5" y="848.6" font-size="8.6" text-anchor="end" fill="#222" stroke="#222" stroke-width="0.14">400</text>
<line x1="231.4" y1="822.85" x2="234.2" y2="822.85" stroke="#222" stroke-width="1"/>
<text x="228.5" y="825.95" font-size="8.6" text-anchor="end" fill="#222" stroke="#222" stroke-width="0.14">600</text>
<line x1="231.4" y1="800.2" x2="234.2" y2="800.2" stroke="#222" stroke-width="1"/>
<text x="228.5" y="803.3" font-size="8.6" text-anchor="end" fill="#222" stroke="#222" stroke-width="0.14">800</text>
<line x1="231.4" y1="777.55" x2="234.2" y2="777.55" stroke="#222" stroke-width="1"/>
<text x="228.5" y="780.65" font-size="8.6" text-anchor="end" fill="#222" stroke="#222" stroke-width="0.14">1000</text>
<line x1="252" y1="890.8" x2="252" y2="893.6" stroke="#222" stroke-width="1"/>
<line x1="278.1" y1="890.8" x2="278.1" y2="893.6" stroke="#222" stroke-width="1"/>
<line x1="304.7" y1="890.8" x2="304.7" y2="893.6" stroke="#222" stroke-width="1"/>
<line x1="331" y1="890.8" x2="331" y2="893.6" stroke="#222" stroke-width="1"/>
<text x="204" y="841.5" font-size="8.6" text-anchor="middle" fill="#222" stroke="#222" stroke-width="0.14" transform="rotate(-90 204 841.5)" textLength="70" lengthAdjust="spacingAndGlyphs">Tumor weight (mg)</text>
<circle cx="248.8" cy="817.5" r="2.5" fill="#d2503d"/>
<circle cx="255.8" cy="817.5" r="2.5" fill="#d2503d"/>
<circle cx="245.1" cy="827.2" r="2.5" fill="#d2503d"/>
<circle cx="252" cy="827.2" r="2.5" fill="#d2503d"/>
<circle cx="258.3" cy="823.7" r="2.5" fill="#d2503d"/>
<circle cx="258.3" cy="829.2" r="2.5" fill="#d2503d"/>
<circle cx="252" cy="836.7" r="2.5" fill="#d2503d"/>
<circle cx="252" cy="855.3" r="2.5" fill="#d2503d"/>
<line x1="243" y1="828.7" x2="261" y2="828.7" stroke="#d2503d" stroke-width="1.2"/>
<line x1="252" y1="819.3" x2="252" y2="841.6" stroke="#d2503d" stroke-width="1.2"/>
<line x1="247.5" y1="819.3" x2="256.5" y2="819.3" stroke="#d2503d" stroke-width="1.2"/>
<line x1="247.5" y1="841.6" x2="256.5" y2="841.6" stroke="#d2503d" stroke-width="1.2"/>
<circle cx="278" cy="837.2" r="2.5" fill="#f0901c"/>
<circle cx="278" cy="847" r="2.5" fill="#f0901c"/>
<circle cx="272" cy="860.2" r="2.5" fill="#f0901c"/>
<circle cx="284.3" cy="857" r="2.5" fill="#f0901c"/>
<circle cx="278" cy="863.5" r="2.5" fill="#f0901c"/>
<circle cx="278" cy="869.7" r="2.5" fill="#f0901c"/>
<circle cx="272" cy="876.4" r="2.5" fill="#f0901c"/>
<circle cx="284.3" cy="873.1" r="2.5" fill="#f0901c"/>
<line x1="269.3" y1="861" x2="286.9" y2="861" stroke="#f0901c" stroke-width="1.2"/>
<line x1="278.1" y1="847.3" x2="278.1" y2="874.6" stroke="#f0901c" stroke-width="1.2"/>
<line x1="273.6" y1="847.3" x2="282.6" y2="847.3" stroke="#f0901c" stroke-width="1.2"/>
<line x1="273.6" y1="874.6" x2="282.6" y2="874.6" stroke="#f0901c" stroke-width="1.2"/>
<circle cx="298.5" cy="837.2" r="2.5" fill="#5aaccb"/>
<circle cx="311.1" cy="835.4" r="2.5" fill="#5aaccb"/>
<circle cx="304.7" cy="842.9" r="2.5" fill="#5aaccb"/>
<circle cx="298.5" cy="849.6" r="2.5" fill="#5aaccb"/>
<circle cx="311.1" cy="854" r="2.5" fill="#5aaccb"/>
<circle cx="298.5" cy="864.5" r="2.5" fill="#5aaccb"/>
<circle cx="304.7" cy="864.5" r="2.5" fill="#5aaccb"/>
<circle cx="304.7" cy="879.3" r="2.5" fill="#5aaccb"/>
<line x1="295.7" y1="853.5" x2="313.7" y2="853.5" stroke="#5aaccb" stroke-width="1.2"/>
<line x1="304.7" y1="838.1" x2="304.7" y2="868.9" stroke="#5aaccb" stroke-width="1.2"/>
<line x1="300.2" y1="838.1" x2="309.2" y2="838.1" stroke="#5aaccb" stroke-width="1.2"/>
<line x1="300.2" y1="868.9" x2="309.2" y2="868.9" stroke="#5aaccb" stroke-width="1.2"/>
<circle cx="331" cy="789.5" r="2.5" fill="#1f9a86"/>
<circle cx="331" cy="806.4" r="2.5" fill="#1f9a86"/>
<circle cx="331" cy="827.2" r="2.5" fill="#1f9a86"/>
<circle cx="324.8" cy="833" r="2.5" fill="#1f9a86"/>
<circle cx="337.7" cy="835.9" r="2.5" fill="#1f9a86"/>
<circle cx="331" cy="840.9" r="2.5" fill="#1f9a86"/>
<circle cx="324.8" cy="848.3" r="2.5" fill="#1f9a86"/>
<circle cx="337.7" cy="848.3" r="2.5" fill="#1f9a86"/>
<line x1="321.5" y1="828.7" x2="340.5" y2="828.7" stroke="#1f9a86" stroke-width="1.2"/>
<line x1="331" y1="807.6" x2="331" y2="849.1" stroke="#1f9a86" stroke-width="1.2"/>
<line x1="326.5" y1="807.6" x2="335.5" y2="807.6" stroke="#1f9a86" stroke-width="1.2"/>
<line x1="326.5" y1="849.1" x2="335.5" y2="849.1" stroke="#1f9a86" stroke-width="1.2"/>
<line x1="251.3" y1="746.6" x2="328.2" y2="746.6" stroke="#6e6e6e" stroke-width="1.25"/>
<text x="289.3" y="743.2" font-size="8.6" text-anchor="middle" fill="#222" stroke="#222" stroke-width="0.14">ns</text>
<line x1="251.3" y1="761.7" x2="302.2" y2="761.7" stroke="#6e6e6e" stroke-width="1.25"/>
<path d="M275.6,753.35L275.6,758.05M273.56,754.53L277.64,756.88M277.64,754.53L273.56,756.88" stroke="#111" stroke-width="1.35" stroke-linecap="round" fill="none"/>
<circle cx="275.6" cy="755.7" r="1.06" fill="#111"/>
<line x1="251.3" y1="778.3" x2="272.6" y2="778.3" stroke="#6e6e6e" stroke-width="1.25"/>
<path d="M258.75,769.95L258.75,774.65M256.71,771.12L260.79,773.47M260.79,771.12L256.71,773.47" stroke="#111" stroke-width="1.35" stroke-linecap="round" fill="none"/>
<circle cx="258.75" cy="772.3" r="1.06" fill="#111"/>
<path d="M264.25,769.95L264.25,774.65M262.21,771.12L266.29,773.47M266.29,771.12L262.21,773.47" stroke="#111" stroke-width="1.35" stroke-linecap="round" fill="none"/>
<circle cx="264.25" cy="772.3" r="1.06" fill="#111"/>
<line x1="279.4" y1="778.3" x2="298.5" y2="778.3" stroke="#6e6e6e" stroke-width="1.25"/>
<text x="288.8" y="774.9" font-size="8.6" text-anchor="middle" fill="#222" stroke="#222" stroke-width="0.14">ns</text>
<line x1="305" y1="778.3" x2="327.8" y2="778.3" stroke="#6e6e6e" stroke-width="1.25"/>
<path d="M317,769.95L317,774.65M314.96,771.12L319.04,773.47M319.04,771.12L314.96,773.47" stroke="#111" stroke-width="1.35" stroke-linecap="round" fill="none"/>
<circle cx="317" cy="772.3" r="1.06" fill="#111"/>
<text x="250.6" y="902.8" font-size="8.8" text-anchor="end" fill="#222" stroke="#222" stroke-width="0.15" transform="rotate(-45 250.6 902.8)" textLength="15" lengthAdjust="spacingAndGlyphs">93G</text>
<text x="281.8" y="902.8" font-size="8.8" text-anchor="end" fill="#222" stroke="#222" stroke-width="0.15" transform="rotate(-45 281.8 902.8)" textLength="17.5" lengthAdjust="spacingAndGlyphs">FMD</text>
<text x="305.7" y="902.8" font-size="8.8" text-anchor="end" fill="#222" stroke="#222" stroke-width="0.15" font-style="italic" transform="rotate(-45 305.7 902.8)" textLength="11.5" lengthAdjust="spacingAndGlyphs">L. j</text>
<text x="333.2" y="902.8" font-size="8.8" text-anchor="end" fill="#222" stroke="#222" stroke-width="0.15" font-style="italic" transform="rotate(-45 333.2 902.8)" textLength="13.5" lengthAdjust="spacingAndGlyphs">E. c</text>
</g>
<g>
<text x="372.5" y="744.5" font-size="16.5" fill="#111">j</text>
<line x1="397.1" y1="776.6" x2="397.1" y2="890.5" stroke="#222" stroke-width="1.1"/>
<line x1="396.6" y1="890" x2="510.8" y2="890" stroke="#222" stroke-width="1.1"/>
<line x1="394.3" y1="890" x2="397.1" y2="890" stroke="#222" stroke-width="1"/>
<text x="391.5" y="893.1" font-size="8.6" text-anchor="end" fill="#222" stroke="#222" stroke-width="0.14">0</text>
<line x1="394.3" y1="867.4" x2="397.1" y2="867.4" stroke="#222" stroke-width="1"/>
<text x="391.5" y="870.5" font-size="8.6" text-anchor="end" fill="#222" stroke="#222" stroke-width="0.14">20</text>
<line x1="394.3" y1="844.8" x2="397.1" y2="844.8" stroke="#222" stroke-width="1"/>
<text x="391.5" y="847.9" font-size="8.6" text-anchor="end" fill="#222" stroke="#222" stroke-width="0.14">40</text>
<line x1="394.3" y1="822.2" x2="397.1" y2="822.2" stroke="#222" stroke-width="1"/>
<text x="391.5" y="825.3" font-size="8.6" text-anchor="end" fill="#222" stroke="#222" stroke-width="0.14">60</text>
<line x1="394.3" y1="799.6" x2="397.1" y2="799.6" stroke="#222" stroke-width="1"/>
<text x="391.5" y="802.7" font-size="8.6" text-anchor="end" fill="#222" stroke="#222" stroke-width="0.14">80</text>
<line x1="394.3" y1="777" x2="397.1" y2="777" stroke="#222" stroke-width="1"/>
<text x="391.5" y="780.1" font-size="8.6" text-anchor="end" fill="#222" stroke="#222" stroke-width="0.14">100</text>
<line x1="415.2" y1="890" x2="415.2" y2="892.8" stroke="#222" stroke-width="1"/>
<line x1="441.3" y1="890" x2="441.3" y2="892.8" stroke="#222" stroke-width="1"/>
<line x1="467.1" y1="890" x2="467.1" y2="892.8" stroke="#222" stroke-width="1"/>
<line x1="493.4" y1="890" x2="493.4" y2="892.8" stroke="#222" stroke-width="1"/>
<text x="372" y="833.3" font-size="8.6" text-anchor="middle" fill="#222" stroke="#222" stroke-width="0.14" transform="rotate(-90 372 833.3)" textLength="77.5" lengthAdjust="spacingAndGlyphs">CD45<tspan font-size="5.5" dy="-3">+</tspan><tspan dy="3">/ live cells (%)</tspan></text>
<circle cx="409" cy="821.8" r="2.5" fill="#d2503d"/>
<circle cx="415.7" cy="822.3" r="2.5" fill="#d2503d"/>
<circle cx="421.4" cy="821.3" r="2.5" fill="#d2503d"/>
<circle cx="409" cy="830" r="2.5" fill="#d2503d"/>
<circle cx="415.7" cy="835.4" r="2.5" fill="#d2503d"/>
<circle cx="415.7" cy="843.4" r="2.5" fill="#d2503d"/>
<circle cx="418.2" cy="850.8" r="2.5" fill="#d2503d"/>
<circle cx="412" cy="855.8" r="2.5" fill="#d2503d"/>
<line x1="406.5" y1="835.4" x2="423.9" y2="835.4" stroke="#d2503d" stroke-width="1.2"/>
<line x1="415.2" y1="824.7" x2="415.2" y2="848.6" stroke="#d2503d" stroke-width="1.2"/>
<line x1="410.7" y1="824.7" x2="419.7" y2="824.7" stroke="#d2503d" stroke-width="1.2"/>
<line x1="410.7" y1="848.6" x2="419.7" y2="848.6" stroke="#d2503d" stroke-width="1.2"/>
<circle cx="434.8" cy="788.8" r="2.5" fill="#f0901c"/>
<circle cx="441.3" cy="788.8" r="2.5" fill="#f0901c"/>
<circle cx="446.8" cy="785.3" r="2.5" fill="#f0901c"/>
<circle cx="443.8" cy="789.5" r="2.5" fill="#f0901c"/>
<circle cx="441.3" cy="800.7" r="2.5" fill="#f0901c"/>
<circle cx="438.1" cy="826.2" r="2.5" fill="#f0901c"/>
<circle cx="443.8" cy="829.2" r="2.5" fill="#f0901c"/>
<circle cx="441.3" cy="838.6" r="2.5" fill="#f0901c"/>
<line x1="433" y1="806.4" x2="449.6" y2="806.4" stroke="#f0901c" stroke-width="1.2"/>
<line x1="441.3" y1="784.5" x2="441.3" y2="827.2" stroke="#f0901c" stroke-width="1.2"/>
<line x1="436.8" y1="784.5" x2="445.8" y2="784.5" stroke="#f0901c" stroke-width="1.2"/>
<line x1="436.8" y1="827.2" x2="445.8" y2="827.2" stroke="#f0901c" stroke-width="1.2"/>
<circle cx="461.2" cy="792" r="2.5" fill="#5aaccb"/>
<circle cx="473.6" cy="788.3" r="2.5" fill="#5aaccb"/>
<circle cx="473.6" cy="801.4" r="2.5" fill="#5aaccb"/>
<circle cx="461.2" cy="808.1" r="2.5" fill="#5aaccb"/>
<circle cx="467.9" cy="807.4" r="2.5" fill="#5aaccb"/>
<circle cx="461.2" cy="815" r="2.5" fill="#5aaccb"/>
<circle cx="473.6" cy="819.3" r="2.5" fill="#5aaccb"/>
<circle cx="467.9" cy="829.2" r="2.5" fill="#5aaccb"/>
<line x1="459.4" y1="807.4" x2="474.8" y2="807.4" stroke="#5aaccb" stroke-width="1.2"/>
<line x1="467.1" y1="793.7" x2="467.1" y2="821" stroke="#5aaccb" stroke-width="1.2"/>
<line x1="462.6" y1="793.7" x2="471.6" y2="793.7" stroke="#5aaccb" stroke-width="1.2"/>
<line x1="462.6" y1="821" x2="471.6" y2="821" stroke="#5aaccb" stroke-width="1.2"/>
<circle cx="487" cy="809.8" r="2.5" fill="#1f9a86"/>
<circle cx="500.1" cy="811.8" r="2.5" fill="#1f9a86"/>
<circle cx="493.4" cy="814.3" r="2.5" fill="#1f9a86"/>
<circle cx="487" cy="839.9" r="2.5" fill="#1f9a86"/>
<circle cx="497" cy="839.9" r="2.5" fill="#1f9a86"/>
<circle cx="493.4" cy="847.8" r="2.5" fill="#1f9a86"/>
<circle cx="487" cy="852" r="2.5" fill="#1f9a86"/>
<circle cx="500.1" cy="849" r="2.5" fill="#1f9a86"/>
<line x1="485" y1="833.4" x2="501.8" y2="833.4" stroke="#1f9a86" stroke-width="1.2"/>
<line x1="493.4" y1="815" x2="493.4" y2="851" stroke="#1f9a86" stroke-width="1.2"/>
<line x1="488.9" y1="815" x2="497.9" y2="815" stroke="#1f9a86" stroke-width="1.2"/>
<line x1="488.9" y1="851" x2="497.9" y2="851" stroke="#1f9a86" stroke-width="1.2"/>
<line x1="414" y1="746.6" x2="491" y2="746.6" stroke="#6e6e6e" stroke-width="1.25"/>
<text x="452.5" y="743.2" font-size="8.6" text-anchor="middle" fill="#222" stroke="#222" stroke-width="0.14">ns</text>
<line x1="414" y1="761.7" x2="464.9" y2="761.7" stroke="#6e6e6e" stroke-width="1.25"/>
<path d="M438.8,753.35L438.8,758.05M436.76,754.53L440.84,756.88M440.84,754.53L436.76,756.88" stroke="#111" stroke-width="1.35" stroke-linecap="round" fill="none"/>
<circle cx="438.8" cy="755.7" r="1.06" fill="#111"/>
<line x1="414" y1="778.3" x2="435.6" y2="778.3" stroke="#6e6e6e" stroke-width="1.25"/>
<path d="M421.25,769.95L421.25,774.65M419.21,771.12L423.29,773.47M423.29,771.12L419.21,773.47" stroke="#111" stroke-width="1.35" stroke-linecap="round" fill="none"/>
<circle cx="421.25" cy="772.3" r="1.06" fill="#111"/>
<path d="M426.75,769.95L426.75,774.65M424.71,771.12L428.79,773.47M428.79,771.12L424.71,773.47" stroke="#111" stroke-width="1.35" stroke-linecap="round" fill="none"/>
<circle cx="426.75" cy="772.3" r="1.06" fill="#111"/>
<line x1="441.8" y1="778.3" x2="461.7" y2="778.3" stroke="#6e6e6e" stroke-width="1.25"/>
<text x="451.2" y="774.9" font-size="8.6" text-anchor="middle" fill="#222" stroke="#222" stroke-width="0.14">ns</text>
<line x1="467.9" y1="778.3" x2="490.2" y2="778.3" stroke="#6e6e6e" stroke-width="1.25"/>
<path d="M479.5,769.95L479.5,774.65M477.46,771.12L481.54,773.47M481.54,771.12L477.46,773.47" stroke="#111" stroke-width="1.35" stroke-linecap="round" fill="none"/>
<circle cx="479.5" cy="772.3" r="1.06" fill="#111"/>
<text x="414.6" y="903.6" font-size="8.8" text-anchor="end" fill="#222" stroke="#222" stroke-width="0.15" transform="rotate(-45 414.6 903.6)" textLength="15" lengthAdjust="spacingAndGlyphs">93G</text>
<text x="445.8" y="903.6" font-size="8.8" text-anchor="end" fill="#222" stroke="#222" stroke-width="0.15" transform="rotate(-45 445.8 903.6)" textLength="17.5" lengthAdjust="spacingAndGlyphs">FMD</text>
<text x="468.9" y="903.6" font-size="8.8" text-anchor="end" fill="#222" stroke="#222" stroke-width="0.15" font-style="italic" transform="rotate(-45 468.9 903.6)" textLength="11.5" lengthAdjust="spacingAndGlyphs">L. j</text>
<text x="496.4" y="903.6" font-size="8.8" text-anchor="end" fill="#222" stroke="#222" stroke-width="0.15" font-style="italic" transform="rotate(-45 496.4 903.6)" textLength="13.5" lengthAdjust="spacingAndGlyphs">E. c</text>
</g>
<g>
<text x="539.5" y="744.5" font-size="16.5" fill="#111">k</text>
<line x1="558" y1="776.1" x2="558" y2="890" stroke="#222" stroke-width="1.1"/>
<line x1="557.5" y1="889.5" x2="670.9" y2="889.5" stroke="#222" stroke-width="1.1"/>
<line x1="555.2" y1="889.5" x2="558" y2="889.5" stroke="#222" stroke-width="1"/>
<text x="552.4" y="892.6" font-size="8.6" text-anchor="end" fill="#222" stroke="#222" stroke-width="0.14">0</text>
<line x1="555.2" y1="866.92" x2="558" y2="866.92" stroke="#222" stroke-width="1"/>
<text x="552.4" y="870.02" font-size="8.6" text-anchor="end" fill="#222" stroke="#222" stroke-width="0.14">20</text>
<line x1="555.2" y1="844.34" x2="558" y2="844.34" stroke="#222" stroke-width="1"/>
<text x="552.4" y="847.44" font-size="8.6" text-anchor="end" fill="#222" stroke="#222" stroke-width="0.14">40</text>
<line x1="555.2" y1="821.76" x2="558" y2="821.76" stroke="#222" stroke-width="1"/>
<text x="552.4" y="824.86" font-size="8.6" text-anchor="end" fill="#222" stroke="#222" stroke-width="0.14">60</text>
<line x1="555.2" y1="799.18" x2="558" y2="799.18" stroke="#222" stroke-width="1"/>
<text x="552.4" y="802.28" font-size="8.6" text-anchor="end" fill="#222" stroke="#222" stroke-width="0.14">80</text>
<line x1="555.2" y1="776.6" x2="558" y2="776.6" stroke="#222" stroke-width="1"/>
<text x="552.4" y="779.7" font-size="8.6" text-anchor="end" fill="#222" stroke="#222" stroke-width="0.14">100</text>
<line x1="575.2" y1="889.5" x2="575.2" y2="892.3" stroke="#222" stroke-width="1"/>
<line x1="601.2" y1="889.5" x2="601.2" y2="892.3" stroke="#222" stroke-width="1"/>
<line x1="627.4" y1="889.5" x2="627.4" y2="892.3" stroke="#222" stroke-width="1"/>
<line x1="653.4" y1="889.5" x2="653.4" y2="892.3" stroke="#222" stroke-width="1"/>
<text x="532" y="828.5" font-size="8.6" text-anchor="middle" fill="#222" stroke="#222" stroke-width="0.14" transform="rotate(-90 532 828.5)" textLength="61" lengthAdjust="spacingAndGlyphs">CD8<tspan font-size="5.5" dy="-3">+</tspan><tspan dy="3">T/CD3</tspan><tspan font-size="5.5" dy="-3">+</tspan><tspan dy="3"> (%)</tspan></text>
<circle cx="572.6" cy="822.5" r="2.5" fill="#d2503d"/>
<circle cx="578.3" cy="822.5" r="2.5" fill="#d2503d"/>
<circle cx="572.6" cy="827.2" r="2.5" fill="#d2503d"/>
<circle cx="577" cy="828.5" r="2.5" fill="#d2503d"/>
<circle cx="570.1" cy="836.2" r="2.5" fill="#d2503d"/>
<circle cx="568.4" cy="843.4" r="2.5" fill="#d2503d"/>
<circle cx="574.6" cy="843.4" r="2.5" fill="#d2503d"/>
<circle cx="580.8" cy="842.4" r="2.5" fill="#d2503d"/>
<line x1="565.6" y1="834.2" x2="583.6" y2="834.2" stroke="#d2503d" stroke-width="1.2"/>
<line x1="574.6" y1="824.7" x2="574.6" y2="842.9" stroke="#d2503d" stroke-width="1.2"/>
<line x1="570.1" y1="824.7" x2="579.1" y2="824.7" stroke="#d2503d" stroke-width="1.2"/>
<line x1="570.1" y1="842.9" x2="579.1" y2="842.9" stroke="#d2503d" stroke-width="1.2"/>
<circle cx="601.4" cy="791.2" r="2.5" fill="#f0901c"/>
<circle cx="607.3" cy="806.4" r="2.5" fill="#f0901c"/>
<circle cx="600.6" cy="809.4" r="2.5" fill="#f0901c"/>
<circle cx="600.6" cy="816.8" r="2.5" fill="#f0901c"/>
<circle cx="594.9" cy="838.4" r="2.5" fill="#f0901c"/>
<circle cx="601.4" cy="836.2" r="2.5" fill="#f0901c"/>
<circle cx="607.3" cy="836.2" r="2.5" fill="#f0901c"/>
<line x1="592.2" y1="816.3" x2="609" y2="816.3" stroke="#f0901c" stroke-width="1.2"/>
<line x1="600.6" y1="797.7" x2="600.6" y2="835.4" stroke="#f0901c" stroke-width="1.2"/>
<line x1="596.1" y1="797.7" x2="605.1" y2="797.7" stroke="#f0901c" stroke-width="1.2"/>
<line x1="596.1" y1="835.4" x2="605.1" y2="835.4" stroke="#f0901c" stroke-width="1.2"/>
<circle cx="621.2" cy="806.9" r="2.5" fill="#5aaccb"/>
<circle cx="633.6" cy="809.8" r="2.5" fill="#5aaccb"/>
<circle cx="627.2" cy="813.1" r="2.5" fill="#5aaccb"/>
<circle cx="621.2" cy="819.3" r="2.5" fill="#5aaccb"/>
<circle cx="633.6" cy="819.3" r="2.5" fill="#5aaccb"/>
<circle cx="624.2" cy="826.2" r="2.5" fill="#5aaccb"/>
<circle cx="630.4" cy="826.2" r="2.5" fill="#5aaccb"/>
<circle cx="627.2" cy="820.5" r="2.5" fill="#5aaccb"/>
<line x1="619" y1="817.5" x2="635.4" y2="817.5" stroke="#5aaccb" stroke-width="1.2"/>
<line x1="627.2" y1="810.1" x2="627.2" y2="824.2" stroke="#5aaccb" stroke-width="1.2"/>
<line x1="622.7" y1="810.1" x2="631.7" y2="810.1" stroke="#5aaccb" stroke-width="1.2"/>
<line x1="622.7" y1="824.2" x2="631.7" y2="824.2" stroke="#5aaccb" stroke-width="1.2"/>
<circle cx="653.2" cy="820.5" r="2.5" fill="#1f9a86"/>
<circle cx="646.5" cy="830.4" r="2.5" fill="#1f9a86"/>
<circle cx="659" cy="834.2" r="2.5" fill="#1f9a86"/>
<circle cx="647.8" cy="837.9" r="2.5" fill="#1f9a86"/>
<circle cx="653.2" cy="839.1" r="2.5" fill="#1f9a86"/>
<circle cx="659" cy="837.9" r="2.5" fill="#1f9a86"/>
<circle cx="653.2" cy="846.6" r="2.5" fill="#1f9a86"/>
<circle cx="653.2" cy="853.3" r="2.5" fill="#1f9a86"/>
<line x1="644.2" y1="837.2" x2="662.2" y2="837.2" stroke="#1f9a86" stroke-width="1.2"/>
<line x1="653.2" y1="826.7" x2="653.2" y2="847.3" stroke="#1f9a86" stroke-width="1.2"/>
<line x1="648.7" y1="826.7" x2="657.7" y2="826.7" stroke="#1f9a86" stroke-width="1.2"/>
<line x1="648.7" y1="847.3" x2="657.7" y2="847.3" stroke="#1f9a86" stroke-width="1.2"/>
<line x1="575.8" y1="751.8" x2="652.8" y2="751.8" stroke="#6e6e6e" stroke-width="1.25"/>
<text x="614.3" y="748.4" font-size="8.6" text-anchor="middle" fill="#222" stroke="#222" stroke-width="0.14">ns</text>
<line x1="575.8" y1="765.9" x2="628.4" y2="765.9" stroke="#6e6e6e" stroke-width="1.25"/>
<path d="M599.15,757.55L599.15,762.25M597.11,758.73L601.19,761.07M601.19,758.73L597.11,761.07" stroke="#111" stroke-width="1.35" stroke-linecap="round" fill="none"/>
<circle cx="599.15" cy="759.9" r="1.06" fill="#111"/>
<path d="M604.65,757.55L604.65,762.25M602.61,758.73L606.69,761.07M606.69,758.73L602.61,761.07" stroke="#111" stroke-width="1.35" stroke-linecap="round" fill="none"/>
<circle cx="604.65" cy="759.9" r="1.06" fill="#111"/>
<line x1="575.8" y1="781.3" x2="598.9" y2="781.3" stroke="#6e6e6e" stroke-width="1.25"/>
<path d="M588.2,772.95L588.2,777.65M586.16,774.12L590.24,776.47M590.24,774.12L586.16,776.47" stroke="#111" stroke-width="1.35" stroke-linecap="round" fill="none"/>
<circle cx="588.2" cy="775.3" r="1.06" fill="#111"/>
<line x1="605.6" y1="781.3" x2="628.4" y2="781.3" stroke="#6e6e6e" stroke-width="1.25"/>
<text x="616.3" y="777.9" font-size="8.6" text-anchor="middle" fill="#222" stroke="#222" stroke-width="0.14">ns</text>
<line x1="635.4" y1="781.3" x2="657.7" y2="781.3" stroke="#6e6e6e" stroke-width="1.25"/>
<path d="M641,772.95L641,777.65M638.96,774.12L643.04,776.47M643.04,774.12L638.96,776.47" stroke="#111" stroke-width="1.35" stroke-linecap="round" fill="none"/>
<circle cx="641" cy="775.3" r="1.06" fill="#111"/>
<path d="M646.5,772.95L646.5,777.65M644.46,774.12L648.54,776.47M648.54,774.12L644.46,776.47" stroke="#111" stroke-width="1.35" stroke-linecap="round" fill="none"/>
<circle cx="646.5" cy="775.3" r="1.06" fill="#111"/>
<path d="M652,772.95L652,777.65M649.96,774.12L654.04,776.47M654.04,774.12L649.96,776.47" stroke="#111" stroke-width="1.35" stroke-linecap="round" fill="none"/>
<circle cx="652" cy="775.3" r="1.06" fill="#111"/>
<text x="576.9" y="904.2" font-size="8.8" text-anchor="end" fill="#222" stroke="#222" stroke-width="0.15" transform="rotate(-45 576.9 904.2)" textLength="15" lengthAdjust="spacingAndGlyphs">93G</text>
<text x="608" y="904.2" font-size="8.8" text-anchor="end" fill="#222" stroke="#222" stroke-width="0.15" transform="rotate(-45 608 904.2)" textLength="17.5" lengthAdjust="spacingAndGlyphs">FMD</text>
<text x="631.5" y="904.2" font-size="8.8" text-anchor="end" fill="#222" stroke="#222" stroke-width="0.15" font-style="italic" transform="rotate(-45 631.5 904.2)" textLength="11.5" lengthAdjust="spacingAndGlyphs">L. j</text>
<text x="658.7" y="904.2" font-size="8.8" text-anchor="end" fill="#222" stroke="#222" stroke-width="0.15" font-style="italic" transform="rotate(-45 658.7 904.2)" textLength="13.5" lengthAdjust="spacingAndGlyphs">E. c</text>
</g>
</svg>
</body></html>
